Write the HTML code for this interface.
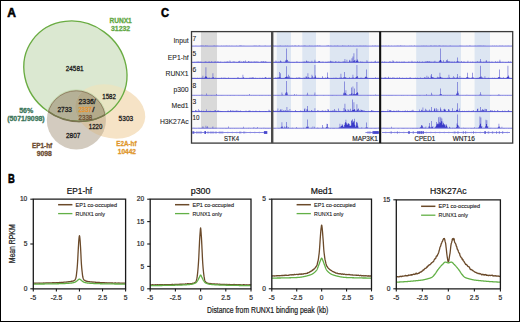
<!DOCTYPE html>
<html><head><meta charset="utf-8"><style>
html,body{margin:0;padding:0;background:#fff;width:520px;height:322px;overflow:hidden;}
svg{display:block;}
text{font-family:"Liberation Sans", sans-serif;}
</style></head><body>
<svg width="520" height="322" viewBox="0 0 520 322">
<rect width="520" height="322" fill="#fff"/>
<text x="7.2" y="16.8" font-size="12" fill="#000" font-weight="bold" text-anchor="start" textLength="8.7" lengthAdjust="spacingAndGlyphs" stroke="#000" stroke-width="0.55" >A</text>
<text x="161" y="16.8" font-size="12" fill="#000" font-weight="bold" text-anchor="start" textLength="8.0" lengthAdjust="spacingAndGlyphs" stroke="#000" stroke-width="0.55" >C</text>
<text x="8.1" y="182.8" font-size="12" fill="#000" font-weight="bold" text-anchor="start" textLength="6.8" lengthAdjust="spacingAndGlyphs" stroke="#000" stroke-width="0.55" >B</text>
<defs>
<clipPath id="cG"><ellipse cx="0" cy="0" rx="48.66" ry="53.04" transform="translate(75.4,71.2) rotate(-54)"/></clipPath>
<clipPath id="cB"><circle cx="76.3" cy="120" r="29.5"/></clipPath>
<clipPath id="cE"><ellipse cx="0" cy="0" rx="35.83" ry="26.16" transform="translate(110.2,111.5) rotate(17.2)"/></clipPath>
</defs>
<ellipse cx="0" cy="0" rx="35.83" ry="26.16" transform="translate(110.2,111.5) rotate(17.2)" fill="#f6e3c6" />
<ellipse cx="0" cy="0" rx="48.66" ry="53.04" transform="translate(75.4,71.2) rotate(-54)" fill="#dbe8d1" />
<circle cx="76.3" cy="120" r="29.5" fill="#d3cbbf" />
<g clip-path="url(#cG)"><ellipse cx="0" cy="0" rx="35.83" ry="26.16" transform="translate(110.2,111.5) rotate(17.2)" fill="#e8e5c3" /></g>
<g clip-path="url(#cG)"><circle cx="76.3" cy="120" r="29.5" fill="#b5b197" /></g>
<g clip-path="url(#cE)"><circle cx="76.3" cy="120" r="29.5" fill="#d6c3a5" /></g>
<g clip-path="url(#cG)"><g clip-path="url(#cE)"><circle cx="76.3" cy="120" r="29.5" fill="#b3aa8a" /></g></g>
<ellipse cx="0" cy="0" rx="48.66" ry="53.04" transform="translate(75.4,71.2) rotate(-54)" fill="none" stroke="#6aac42" stroke-width="1.35"/>
<g clip-path="url(#cB)"><ellipse cx="0" cy="0" rx="48.66" ry="53.04" transform="translate(75.4,71.2) rotate(-54)" fill="none" stroke="#7a7150" stroke-width="1.45"/></g>
<g clip-path="url(#cG)"><circle cx="76.3" cy="120" r="30.1" fill="none" stroke="#c2d8ac" stroke-width="0.9"/><circle cx="76.3" cy="120" r="29.2" fill="none" stroke="#8c7c5c" stroke-width="0.9"/></g>
<text x="65.8" y="70.8" font-size="7.4" fill="#1a1a1a" font-weight="normal" text-anchor="start" textLength="17.7" lengthAdjust="spacingAndGlyphs" stroke="#1a1a1a" stroke-width="0.3" >24581</text>
<text x="57.4" y="111.5" font-size="7.4" fill="#1a1a1a" font-weight="normal" text-anchor="start" textLength="14.6" lengthAdjust="spacingAndGlyphs" stroke="#1a1a1a" stroke-width="0.3" >2733</text>
<text x="78.5" y="104.2" font-size="7.4" fill="#1a1a1a" font-weight="normal" text-anchor="start" textLength="17.2" lengthAdjust="spacingAndGlyphs" stroke="#1a1a1a" stroke-width="0.3" >2336/</text>
<text x="78.5" y="111.5" font-size="7.4" fill="#ec9428" font-weight="normal" text-anchor="start" textLength="13.4" lengthAdjust="spacingAndGlyphs" stroke="#ec9428" stroke-width="0.3" >2337</text>
<text x="92.3" y="111.5" font-size="7.4" fill="#1a1a1a" font-weight="normal" text-anchor="start" textLength="2.3" lengthAdjust="spacingAndGlyphs" stroke="#1a1a1a" stroke-width="0.3" >/</text>
<text x="78.5" y="119.6" font-size="7.4" fill="#6e5030" font-weight="normal" text-anchor="start" textLength="13.8" lengthAdjust="spacingAndGlyphs" stroke="#6e5030" stroke-width="0.3" >2338</text>
<text x="102.3" y="98.8" font-size="7.4" fill="#1a1a1a" font-weight="normal" text-anchor="start" textLength="13.5" lengthAdjust="spacingAndGlyphs" stroke="#1a1a1a" stroke-width="0.3" >1582</text>
<text x="118.6" y="121.0" font-size="7.4" fill="#1a1a1a" font-weight="normal" text-anchor="start" textLength="14.6" lengthAdjust="spacingAndGlyphs" stroke="#1a1a1a" stroke-width="0.3" >5303</text>
<text x="88.8" y="129.1" font-size="7.4" fill="#1a1a1a" font-weight="normal" text-anchor="start" textLength="13.5" lengthAdjust="spacingAndGlyphs" stroke="#1a1a1a" stroke-width="0.3" >1220</text>
<text x="66" y="137.7" font-size="7.4" fill="#1a1a1a" font-weight="normal" text-anchor="start" textLength="14.4" lengthAdjust="spacingAndGlyphs" stroke="#1a1a1a" stroke-width="0.3" >2807</text>
<text x="109.4" y="23" font-size="6.8" fill="#62a844" font-weight="bold" text-anchor="start" textLength="22.4" lengthAdjust="spacingAndGlyphs" stroke="#62a844" stroke-width="0.28" >RUNX1</text>
<text x="111" y="30.8" font-size="6.8" fill="#62a844" font-weight="bold" text-anchor="start" textLength="19.2" lengthAdjust="spacingAndGlyphs" stroke="#62a844" stroke-width="0.28" >31232</text>
<text x="19.2" y="113" font-size="6.8" fill="#3a7559" font-weight="bold" text-anchor="start" textLength="14" lengthAdjust="spacingAndGlyphs" stroke="#3a7559" stroke-width="0.28" >56%</text>
<text x="7.2" y="121.2" font-size="6.8" fill="#3a7559" font-weight="bold" text-anchor="start" textLength="37.5" lengthAdjust="spacingAndGlyphs" stroke="#3a7559" stroke-width="0.28" >(5071/9098)</text>
<text x="32" y="148" font-size="6.8" fill="#6b4a2e" font-weight="bold" text-anchor="start" textLength="20.2" lengthAdjust="spacingAndGlyphs" stroke="#6b4a2e" stroke-width="0.28" >EP1-hf</text>
<text x="36.8" y="156" font-size="6.8" fill="#6b4a2e" font-weight="bold" text-anchor="start" textLength="15.1" lengthAdjust="spacingAndGlyphs" stroke="#6b4a2e" stroke-width="0.28" >9098</text>
<text x="116.3" y="146.3" font-size="6.8" fill="#e0962a" font-weight="bold" text-anchor="start" textLength="20.2" lengthAdjust="spacingAndGlyphs" stroke="#e0962a" stroke-width="0.28" >E2A-hf</text>
<text x="117.8" y="154" font-size="6.8" fill="#e0962a" font-weight="bold" text-anchor="start" textLength="18.2" lengthAdjust="spacingAndGlyphs" stroke="#e0962a" stroke-width="0.28" >10442</text>
<rect x="191.5" y="31.6" width="321.20000000000005" height="111.5" fill="#f9f9f9"/>
<rect x="201" y="32" width="16" height="96.5" fill="#d9d9d9"/>
<rect x="276.8" y="32" width="14.199999999999989" height="96.5" fill="#dde6f2"/>
<rect x="302.3" y="32" width="13.699999999999989" height="96.5" fill="#dde6f2"/>
<rect x="329.8" y="32" width="39.19999999999999" height="96.5" fill="#dde6f2"/>
<rect x="416.2" y="32" width="44.80000000000001" height="96.5" fill="#dde6f2"/>
<rect x="474.6" y="32" width="15.399999999999977" height="96.5" fill="#dde6f2"/>
<rect x="191.5" y="129.4" width="321.20000000000005" height="13.699999999999989" fill="#fdfdfd"/>
<path d="M192.20,46.1L192.20,46.10L192.70,46.10L192.70,46.04L193.20,46.04L193.20,46.05L193.70,46.05L193.70,45.92L194.20,45.92L194.20,46.01L194.70,46.01L194.70,45.90L195.20,45.90L195.20,46.09L195.70,46.09L195.70,45.83L196.20,45.83L196.20,46.00L196.70,46.00L196.70,45.98L197.20,45.98L197.20,46.00L197.70,46.00L197.70,46.03L198.20,46.03L198.20,46.08L198.70,46.08L198.70,45.91L199.20,45.91L199.20,46.09L199.70,46.09L199.70,45.96L200.20,45.96L200.20,45.83L200.70,45.83L200.70,46.01L201.20,46.01L201.20,45.72L201.70,45.72L201.70,45.84L202.20,45.84L202.20,45.73L202.70,45.73L202.70,46.05L203.20,46.05L203.20,45.85L203.70,45.85L203.70,46.05L204.20,46.05L204.20,46.07L204.70,46.07L204.70,46.06L205.20,46.06L205.20,45.60L205.70,45.60L205.70,45.99L206.20,45.99L206.20,45.64L206.70,45.64L206.70,46.08L207.20,46.08L207.20,45.79L207.70,45.79L207.70,46.00L208.20,46.00L208.20,45.90L208.70,45.90L208.70,45.94L209.20,45.94L209.20,45.89L209.70,45.89L209.70,45.94L210.20,45.94L210.20,46.09L210.70,46.09L210.70,45.92L211.20,45.92L211.20,45.98L211.70,45.98L211.70,46.08L212.20,46.08L212.20,46.08L212.70,46.08L212.70,46.09L213.20,46.09L213.20,45.85L213.70,45.85L213.70,46.08L214.20,46.08L214.20,45.83L214.70,45.83L214.70,45.79L215.20,45.79L215.20,45.93L215.70,45.93L215.70,46.08L216.20,46.08L216.20,45.97L216.70,45.97L216.70,45.70L217.20,45.70L217.20,45.95L217.70,45.95L217.70,45.86L218.20,45.86L218.20,46.09L218.70,46.09L218.70,45.98L219.20,45.98L219.20,46.06L219.70,46.06L219.70,45.96L220.20,45.96L220.20,46.09L220.70,46.09L220.70,45.97L221.20,45.97L221.20,45.81L221.70,45.81L221.70,45.96L222.20,45.96L222.20,46.06L222.70,46.06L222.70,46.01L223.20,46.01L223.20,46.07L223.70,46.07L223.70,45.86L224.20,45.86L224.20,45.98L224.70,45.98L224.70,46.06L225.20,46.06L225.20,45.92L225.70,45.92L225.70,45.87L226.20,45.87L226.20,45.84L226.70,45.84L226.70,45.94L227.20,45.94L227.20,45.97L227.70,45.97L227.70,45.70L228.20,45.70L228.20,46.01L228.70,46.01L228.70,46.08L229.20,46.08L229.20,45.85L229.70,45.85L229.70,45.96L230.20,45.96L230.20,46.03L230.70,46.03L230.70,46.03L231.20,46.03L231.20,46.05L231.70,46.05L231.70,45.80L232.20,45.80L232.20,46.01L232.70,46.01L232.70,46.04L233.20,46.04L233.20,46.03L233.70,46.03L233.70,46.08L234.20,46.08L234.20,46.06L234.70,46.06L234.70,45.88L235.20,45.88L235.20,46.10L235.70,46.10L235.70,46.01L236.20,46.01L236.20,45.87L236.70,45.87L236.70,45.97L237.20,45.97L237.20,46.10L237.70,46.10L237.70,45.97L238.20,45.97L238.20,46.03L238.70,46.03L238.70,45.89L239.20,45.89L239.20,46.10L239.70,46.10L239.70,45.31L240.20,45.31L240.20,45.84L240.70,45.84L240.70,46.03L241.20,46.03L241.20,45.76L241.70,45.76L241.70,45.69L242.20,45.69L242.20,46.04L242.70,46.04L242.70,45.92L243.20,45.92L243.20,46.07L243.70,46.07L243.70,45.65L244.20,45.65L244.20,45.93L244.70,45.93L244.70,45.98L245.20,45.98L245.20,46.06L245.70,46.06L245.70,46.00L246.20,46.00L246.20,46.06L246.70,46.06L246.70,46.06L247.20,46.06L247.20,45.96L247.70,45.96L247.70,46.00L248.20,46.00L248.20,45.89L248.70,45.89L248.70,46.08L249.20,46.08L249.20,46.09L249.70,46.09L249.70,45.89L250.20,45.89L250.20,46.05L250.70,46.05L250.70,45.93L251.20,45.93L251.20,45.91L251.70,45.91L251.70,46.06L252.20,46.06L252.20,46.08L252.70,46.08L252.70,45.98L253.20,45.98L253.20,46.08L253.70,46.08L253.70,45.70L254.20,45.70L254.20,45.87L254.70,45.87L254.70,46.03L255.20,46.03L255.20,45.67L255.70,45.67L255.70,45.93L256.20,45.93L256.20,45.75L256.70,45.75L256.70,45.95L257.20,45.95L257.20,45.93L257.70,45.93L257.70,45.94L258.20,45.94L258.20,46.07L258.70,46.07L258.70,45.79L259.20,45.79L259.20,45.85L259.70,45.85L259.70,45.81L260.20,45.81L260.20,46.09L260.70,46.09L260.70,46.05L261.20,46.05L261.20,46.07L261.70,46.07L261.70,45.90L262.20,45.90L262.20,45.88L262.70,45.88L262.70,45.99L263.20,45.99L263.20,46.09L263.70,46.09L263.70,45.94L264.20,45.94L264.20,45.97L264.70,45.97L264.70,45.84L265.20,45.84L265.20,45.85L265.70,45.85L265.70,46.07L266.20,46.07L266.20,45.91L266.70,45.91L266.70,46.10L267.20,46.10L267.20,45.96L267.70,45.96L267.70,46.03L268.20,46.03L268.20,45.99L268.70,45.99L268.70,46.10L269.20,46.10L269.20,46.02L269.70,46.02L269.70,46.04L270.20,46.04L270.20,45.82L270.70,45.82L270.70,45.94L271.20,45.94L271.20,45.77L271.70,45.77L271.70,45.97L272.20,45.97L272.20,45.89L272.70,45.89L272.70,46.03L273.20,46.03L273.20,45.82L273.70,45.82L273.70,45.81L274.20,45.81L274.20,46.06L274.70,46.06L274.70,45.97L275.20,45.97L275.20,45.75L275.70,45.75L275.70,45.95L276.20,45.95L276.20,46.10L276.70,46.10L276.70,46.09L277.20,46.09L277.20,45.95L277.70,45.95L277.70,46.01L278.20,46.01L278.20,45.99L278.70,45.99L278.70,46.07L279.20,46.07L279.20,45.88L279.70,45.88L279.70,45.86L280.20,45.86L280.20,45.83L280.70,45.83L280.70,46.00L281.20,46.00L281.20,46.04L281.70,46.04L281.70,46.09L282.20,46.09L282.20,46.01L282.70,46.01L282.70,46.00L283.20,46.00L283.20,45.97L283.70,45.97L283.70,46.04L284.20,46.04L284.20,46.07L284.70,46.07L284.70,46.10L285.20,46.10L285.20,45.86L285.70,45.86L285.70,45.96L286.20,45.96L286.20,46.02L286.70,46.02L286.70,45.99L287.20,45.99L287.20,45.82L287.70,45.82L287.70,45.91L288.20,45.91L288.20,45.91L288.70,45.91L288.70,46.07L289.20,46.07L289.20,45.99L289.70,45.99L289.70,45.94L290.20,45.94L290.20,45.93L290.70,45.93L290.70,45.92L291.20,45.92L291.20,46.01L291.70,46.01L291.70,45.80L292.20,45.80L292.20,45.85L292.70,45.85L292.70,45.93L293.20,45.93L293.20,46.00L293.70,46.00L293.70,45.93L294.20,45.93L294.20,45.72L294.70,45.72L294.70,45.80L295.20,45.80L295.20,45.87L295.70,45.87L295.70,45.76L296.20,45.76L296.20,45.94L296.70,45.94L296.70,45.90L297.20,45.90L297.20,46.10L297.70,46.10L297.70,45.93L298.20,45.93L298.20,45.77L298.70,45.77L298.70,45.58L299.20,45.58L299.20,46.05L299.70,46.05L299.70,46.09L300.20,46.09L300.20,46.05L300.70,46.05L300.70,46.09L301.20,46.09L301.20,45.93L301.70,45.93L301.70,45.80L302.20,45.80L302.20,46.07L302.70,46.07L302.70,45.91L303.20,45.91L303.20,45.77L303.70,45.77L303.70,46.00L304.20,46.00L304.20,46.09L304.70,46.09L304.70,45.34L305.20,45.34L305.20,45.90L305.70,45.90L305.70,45.97L306.20,45.97L306.20,45.90L306.70,45.90L306.70,45.92L307.20,45.92L307.20,46.06L307.70,46.06L307.70,45.94L308.20,45.94L308.20,46.03L308.70,46.03L308.70,46.03L309.20,46.03L309.20,45.69L309.70,45.69L309.70,45.82L310.20,45.82L310.20,45.92L310.70,45.92L310.70,46.08L311.20,46.08L311.20,46.10L311.70,46.10L311.70,45.81L312.20,45.81L312.20,46.01L312.70,46.01L312.70,45.95L313.20,45.95L313.20,46.08L313.70,46.08L313.70,46.08L314.20,46.08L314.20,46.04L314.70,46.04L314.70,45.87L315.20,45.87L315.20,46.10L315.70,46.10L315.70,45.66L316.20,45.66L316.20,45.96L316.70,45.96L316.70,45.71L317.20,45.71L317.20,45.45L317.70,45.45L317.70,45.99L318.20,45.99L318.20,45.83L318.70,45.83L318.70,46.09L319.20,46.09L319.20,45.40L319.70,45.40L319.70,45.91L320.20,45.91L320.20,45.87L320.70,45.87L320.70,46.07L321.20,46.07L321.20,46.09L321.70,46.09L321.70,46.09L322.20,46.09L322.20,46.09L322.70,46.09L322.70,45.94L323.20,45.94L323.20,45.99L323.70,45.99L323.70,46.06L324.20,46.06L324.20,45.89L324.70,45.89L324.70,46.00L325.20,46.00L325.20,45.96L325.70,45.96L325.70,45.88L326.20,45.88L326.20,45.85L326.70,45.85L326.70,46.07L327.20,46.07L327.20,46.10L327.70,46.10L327.70,45.28L328.20,45.28L328.20,45.76L328.70,45.76L328.70,45.81L329.20,45.81L329.20,46.01L329.70,46.01L329.70,45.95L330.20,45.95L330.20,46.02L330.70,46.02L330.70,45.58L331.20,45.58L331.20,46.05L331.70,46.05L331.70,46.09L332.20,46.09L332.20,46.08L332.70,46.08L332.70,45.88L333.20,45.88L333.20,46.05L333.70,46.05L333.70,46.06L334.20,46.06L334.20,45.86L334.70,45.86L334.70,46.03L335.20,46.03L335.20,46.10L335.70,46.10L335.70,45.79L336.20,45.79L336.20,45.99L336.70,45.99L336.70,46.02L337.20,46.02L337.20,45.74L337.70,45.74L337.70,45.79L338.20,45.79L338.20,45.91L338.70,45.91L338.70,45.92L339.20,45.92L339.20,45.97L339.70,45.97L339.70,46.08L340.20,46.08L340.20,46.06L340.70,46.06L340.70,46.05L341.20,46.05L341.20,46.06L341.70,46.06L341.70,46.09L342.20,46.09L342.20,45.80L342.70,45.80L342.70,45.54L343.20,45.54L343.20,46.09L343.70,46.09L343.70,45.98L344.20,45.98L344.20,45.97L344.70,45.97L344.70,45.78L345.20,45.78L345.20,46.00L345.70,46.00L345.70,46.09L346.20,46.09L346.20,46.03L346.70,46.03L346.70,45.88L347.20,45.88L347.20,46.09L347.70,46.09L347.70,45.93L348.20,45.93L348.20,45.41L348.70,45.41L348.70,46.05L349.20,46.05L349.20,46.06L349.70,46.06L349.70,46.08L350.20,46.08L350.20,45.78L350.70,45.78L350.70,46.05L351.20,46.05L351.20,45.93L351.70,45.93L351.70,45.92L352.20,45.92L352.20,45.95L352.70,45.95L352.70,45.98L353.20,45.98L353.20,45.80L353.70,45.80L353.70,46.04L354.20,46.04L354.20,45.98L354.70,45.98L354.70,46.06L355.20,46.06L355.20,46.10L355.70,46.10L355.70,45.90L356.20,45.90L356.20,46.01L356.70,46.01L356.70,45.70L357.20,45.70L357.20,46.05L357.70,46.05L357.70,46.06L358.20,46.06L358.20,45.89L358.70,45.89L358.70,46.04L359.20,46.04L359.20,45.85L359.70,45.85L359.70,45.88L360.20,45.88L360.20,45.84L360.70,45.84L360.70,45.92L361.20,45.92L361.20,45.88L361.70,45.88L361.70,45.80L362.20,45.80L362.20,46.05L362.70,46.05L362.70,45.99L363.20,45.99L363.20,45.71L363.70,45.71L363.70,46.06L364.20,46.06L364.20,45.98L364.70,45.98L364.70,45.83L365.20,45.83L365.20,46.09L365.70,46.09L365.70,45.80L366.20,45.80L366.20,45.91L366.70,45.91L366.70,45.91L367.20,45.91L367.20,45.93L367.70,45.93L367.70,46.00L368.20,46.00L368.20,46.04L368.70,46.04L368.70,46.06L369.20,46.06L369.20,46.06L369.70,46.06L369.70,46.04L370.20,46.04L370.20,46.04L370.70,46.04L370.70,46.09L371.20,46.09L371.20,46.06L371.70,46.06L371.70,46.08L372.20,46.08L372.20,45.77L372.70,45.77L372.70,45.73L373.20,45.73L373.20,45.98L373.70,45.98L373.70,46.09L374.20,46.09L374.20,45.76L374.70,45.76L374.70,46.02L375.20,46.02L375.20,45.71L375.70,45.71L375.70,45.82L376.20,45.82L376.20,45.93L376.70,45.93L376.70,45.96L377.20,45.96L377.20,46.07L377.70,46.07L377.70,45.76L378.20,45.76L378.20,46.03L378.70,46.03L378.70,45.96L379.20,45.96L379.20,45.97L379.70,45.97L379.70,45.65L380.20,45.65L380.20,46.06L380.70,46.06L380.70,45.94L381.20,45.94L381.20,45.87L381.70,45.87L381.70,46.09L382.20,46.09L382.20,46.06L382.70,46.06L382.70,45.87L383.20,45.87L383.20,46.08L383.70,46.08L383.70,45.87L384.20,45.87L384.20,45.88L384.70,45.88L384.70,45.89L385.20,45.89L385.20,45.88L385.70,45.88L385.70,45.51L386.20,45.51L386.20,46.00L386.70,46.00L386.70,46.07L387.20,46.07L387.20,46.02L387.70,46.02L387.70,46.03L388.20,46.03L388.20,45.84L388.70,45.84L388.70,45.81L389.20,45.81L389.20,45.94L389.70,45.94L389.70,46.06L390.20,46.06L390.20,46.06L390.70,46.06L390.70,45.90L391.20,45.90L391.20,45.75L391.70,45.75L391.70,45.94L392.20,45.94L392.20,46.06L392.70,46.06L392.70,46.02L393.20,46.02L393.20,46.02L393.70,46.02L393.70,45.89L394.20,45.89L394.20,46.06L394.70,46.06L394.70,45.86L395.20,45.86L395.20,45.91L395.70,45.91L395.70,45.94L396.20,45.94L396.20,46.01L396.70,46.01L396.70,45.72L397.20,45.72L397.20,45.83L397.70,45.83L397.70,45.98L398.20,45.98L398.20,45.83L398.70,45.83L398.70,46.02L399.20,46.02L399.20,46.04L399.70,46.04L399.70,45.87L400.20,45.87L400.20,45.59L400.70,45.59L400.70,46.06L401.20,46.06L401.20,45.78L401.70,45.78L401.70,45.97L402.20,45.97L402.20,46.07L402.70,46.07L402.70,45.77L403.20,45.77L403.20,46.02L403.70,46.02L403.70,45.90L404.20,45.90L404.20,45.85L404.70,45.85L404.70,45.89L405.20,45.89L405.20,46.03L405.70,46.03L405.70,45.89L406.20,45.89L406.20,46.00L406.70,46.00L406.70,46.01L407.20,46.01L407.20,46.09L407.70,46.09L407.70,45.99L408.20,45.99L408.20,45.93L408.70,45.93L408.70,46.04L409.20,46.04L409.20,45.89L409.70,45.89L409.70,45.84L410.20,45.84L410.20,46.09L410.70,46.09L410.70,45.92L411.20,45.92L411.20,45.79L411.70,45.79L411.70,46.10L412.20,46.10L412.20,45.97L412.70,45.97L412.70,45.90L413.20,45.90L413.20,45.93L413.70,45.93L413.70,46.00L414.20,46.00L414.20,45.62L414.70,45.62L414.70,45.94L415.20,45.94L415.20,46.02L415.70,46.02L415.70,46.05L416.20,46.05L416.20,45.95L416.70,45.95L416.70,45.98L417.20,45.98L417.20,46.07L417.70,46.07L417.70,45.98L418.20,45.98L418.20,46.09L418.70,46.09L418.70,45.88L419.20,45.88L419.20,46.08L419.70,46.08L419.70,46.09L420.20,46.09L420.20,45.91L420.70,45.91L420.70,45.92L421.20,45.92L421.20,46.09L421.70,46.09L421.70,45.76L422.20,45.76L422.20,45.97L422.70,45.97L422.70,45.88L423.20,45.88L423.20,45.74L423.70,45.74L423.70,46.09L424.20,46.09L424.20,45.88L424.70,45.88L424.70,45.80L425.20,45.80L425.20,45.88L425.70,45.88L425.70,45.95L426.20,45.95L426.20,45.87L426.70,45.87L426.70,46.02L427.20,46.02L427.20,45.94L427.70,45.94L427.70,45.96L428.20,45.96L428.20,45.98L428.70,45.98L428.70,45.95L429.20,45.95L429.20,46.01L429.70,46.01L429.70,45.91L430.20,45.91L430.20,45.86L430.70,45.86L430.70,45.73L431.20,45.73L431.20,45.73L431.70,45.73L431.70,46.04L432.20,46.04L432.20,46.05L432.70,46.05L432.70,46.09L433.20,46.09L433.20,46.07L433.70,46.07L433.70,45.73L434.20,45.73L434.20,45.72L434.70,45.72L434.70,45.89L435.20,45.89L435.20,45.79L435.70,45.79L435.70,45.90L436.20,45.90L436.20,45.83L436.70,45.83L436.70,45.95L437.20,45.95L437.20,45.94L437.70,45.94L437.70,45.91L438.20,45.91L438.20,45.82L438.70,45.82L438.70,46.03L439.20,46.03L439.20,45.82L439.70,45.82L439.70,45.54L440.20,45.54L440.20,45.99L440.70,45.99L440.70,45.88L441.20,45.88L441.20,45.89L441.70,45.89L441.70,45.88L442.20,45.88L442.20,46.04L442.70,46.04L442.70,45.80L443.20,45.80L443.20,45.90L443.70,45.90L443.70,45.82L444.20,45.82L444.20,45.94L444.70,45.94L444.70,46.02L445.20,46.02L445.20,45.93L445.70,45.93L445.70,45.72L446.20,45.72L446.20,46.02L446.70,46.02L446.70,46.09L447.20,46.09L447.20,46.08L447.70,46.08L447.70,46.08L448.20,46.08L448.20,45.88L448.70,45.88L448.70,46.09L449.20,46.09L449.20,46.09L449.70,46.09L449.70,45.84L450.20,45.84L450.20,45.73L450.70,45.73L450.70,46.07L451.20,46.07L451.20,45.95L451.70,45.95L451.70,46.09L452.20,46.09L452.20,45.98L452.70,45.98L452.70,45.95L453.20,45.95L453.20,46.09L453.70,46.09L453.70,45.89L454.20,45.89L454.20,45.98L454.70,45.98L454.70,46.08L455.20,46.08L455.20,46.05L455.70,46.05L455.70,46.06L456.20,46.06L456.20,45.95L456.70,45.95L456.70,45.91L457.20,45.91L457.20,46.05L457.70,46.05L457.70,45.99L458.20,45.99L458.20,46.05L458.70,46.05L458.70,46.10L459.20,46.10L459.20,45.83L459.70,45.83L459.70,46.09L460.20,46.09L460.20,45.83L460.70,45.83L460.70,45.98L461.20,45.98L461.20,46.04L461.70,46.04L461.70,45.68L462.20,45.68L462.20,46.08L462.70,46.08L462.70,46.07L463.20,46.07L463.20,46.07L463.70,46.07L463.70,46.02L464.20,46.02L464.20,46.03L464.70,46.03L464.70,45.90L465.20,45.90L465.20,46.05L465.70,46.05L465.70,45.99L466.20,45.99L466.20,46.08L466.70,46.08L466.70,45.86L467.20,45.86L467.20,46.05L467.70,46.05L467.70,46.07L468.20,46.07L468.20,46.07L468.70,46.07L468.70,46.01L469.20,46.01L469.20,45.99L469.70,45.99L469.70,45.29L470.20,45.29L470.20,46.01L470.70,46.01L470.70,46.05L471.20,46.05L471.20,46.04L471.70,46.04L471.70,46.02L472.20,46.02L472.20,45.97L472.70,45.97L472.70,46.05L473.20,46.05L473.20,45.97L473.70,45.97L473.70,46.01L474.20,46.01L474.20,46.06L474.70,46.06L474.70,45.80L475.20,45.80L475.20,45.99L475.70,45.99L475.70,45.87L476.20,45.87L476.20,45.90L476.70,45.90L476.70,46.05L477.20,46.05L477.20,45.79L477.70,45.79L477.70,45.91L478.20,45.91L478.20,46.07L478.70,46.07L478.70,45.59L479.20,45.59L479.20,46.02L479.70,46.02L479.70,45.80L480.20,45.80L480.20,45.84L480.70,45.84L480.70,45.97L481.20,45.97L481.20,45.85L481.70,45.85L481.70,46.03L482.20,46.03L482.20,46.05L482.70,46.05L482.70,45.75L483.20,45.75L483.20,45.78L483.70,45.78L483.70,45.94L484.20,45.94L484.20,46.05L484.70,46.05L484.70,45.85L485.20,45.85L485.20,45.96L485.70,45.96L485.70,46.01L486.20,46.01L486.20,46.02L486.70,46.02L486.70,46.08L487.20,46.08L487.20,45.90L487.70,45.90L487.70,45.95L488.20,45.95L488.20,46.09L488.70,46.09L488.70,45.95L489.20,45.95L489.20,45.98L489.70,45.98L489.70,45.89L490.20,45.89L490.20,46.02L490.70,46.02L490.70,46.04L491.20,46.04L491.20,46.03L491.70,46.03L491.70,45.90L492.20,45.90L492.20,45.77L492.70,45.77L492.70,45.98L493.20,45.98L493.20,46.09L493.70,46.09L493.70,46.04L494.20,46.04L494.20,45.76L494.70,45.76L494.70,46.03L495.20,46.03L495.20,45.98L495.70,45.98L495.70,45.93L496.20,45.93L496.20,45.65L496.70,45.65L496.70,46.03L497.20,46.03L497.20,45.92L497.70,45.92L497.70,46.02L498.20,46.02L498.20,45.98L498.70,45.98L498.70,46.05L499.20,46.05L499.20,45.95L499.70,45.95L499.70,45.55L500.20,45.55L500.20,46.08L500.70,46.08L500.70,45.99L501.20,45.99L501.20,45.96L501.70,45.96L501.70,45.76L502.20,45.76L502.20,45.87L502.70,45.87L502.70,46.04L503.20,46.04L503.20,46.04L503.70,46.04L503.70,45.94L504.20,45.94L504.20,45.99L504.70,45.99L504.70,46.09L505.20,46.09L505.20,45.92L505.70,45.92L505.70,45.71L506.20,45.71L506.20,46.07L506.70,46.07L506.70,46.09L507.20,46.09L507.20,46.06L507.70,46.06L507.70,45.83L508.20,45.83L508.20,46.09L508.70,46.09L508.70,45.81L509.20,45.81L509.20,45.91L509.70,45.91L509.70,46.06L510.20,46.06L510.20,46.06L510.70,46.06L510.70,45.94L511.20,45.94L511.20,45.89L511.70,45.89L511.70,45.80L512.20,45.80L512.20,46.1Z" fill="#3a3ac8"/>
<line x1="192.0" y1="46.1" x2="512.7" y2="46.1" stroke="#6a6adc" stroke-width="0.9"/>
<text x="192.6" y="40.5" font-size="7.0" fill="#222" font-weight="normal" text-anchor="start" textLength="3.7" lengthAdjust="spacingAndGlyphs" stroke="#222" stroke-width="0.1" >7</text>
<text x="188.6" y="42.9" font-size="6.8" fill="#222" font-weight="normal" text-anchor="end" stroke="#222" stroke-width="0.08" >Input</text>
<path d="M192.20,62.3L192.20,62.17L192.70,62.17L192.70,62.06L193.20,62.06L193.20,62.08L193.70,62.08L193.70,62.10L194.20,62.10L194.20,62.07L194.70,62.07L194.70,61.74L195.20,61.74L195.20,62.13L195.70,62.13L195.70,61.88L196.20,61.88L196.20,61.69L196.70,61.69L196.70,62.23L197.20,62.23L197.20,61.71L197.70,61.71L197.70,61.83L198.20,61.83L198.20,61.72L198.70,61.72L198.70,61.66L199.20,61.66L199.20,61.96L199.70,61.96L199.70,61.81L200.20,61.81L200.20,62.07L200.70,62.07L200.70,61.61L201.20,61.61L201.20,61.90L201.70,61.90L201.70,62.26L202.20,62.26L202.20,62.22L202.70,62.22L202.70,62.27L203.20,62.27L203.20,62.23L203.70,62.23L203.70,62.09L204.20,62.09L204.20,62.29L204.70,62.29L204.70,61.66L205.20,61.66L205.20,61.62L205.70,61.62L205.70,62.20L206.20,62.20L206.20,61.65L206.70,61.65L206.70,62.23L207.20,62.23L207.20,61.96L207.70,61.96L207.70,62.28L208.20,62.28L208.20,61.99L208.70,61.99L208.70,61.52L209.20,61.52L209.20,61.86L209.70,61.86L209.70,62.06L210.20,62.06L210.20,62.05L210.70,62.05L210.70,62.23L211.20,62.23L211.20,61.27L211.70,61.27L211.70,62.00L212.20,62.00L212.20,62.21L212.70,62.21L212.70,61.68L213.20,61.68L213.20,62.19L213.70,62.19L213.70,62.20L214.20,62.20L214.20,61.73L214.70,61.73L214.70,61.73L215.20,61.73L215.20,61.58L215.70,61.58L215.70,62.29L216.20,62.29L216.20,62.21L216.70,62.21L216.70,61.65L217.20,61.65L217.20,61.95L217.70,61.95L217.70,61.22L218.20,61.22L218.20,62.01L218.70,62.01L218.70,61.79L219.20,61.79L219.20,62.08L219.70,62.08L219.70,61.91L220.20,61.91L220.20,61.77L220.70,61.77L220.70,61.73L221.20,61.73L221.20,62.22L221.70,62.22L221.70,62.19L222.20,62.19L222.20,61.95L222.70,61.95L222.70,62.13L223.20,62.13L223.20,62.15L223.70,62.15L223.70,62.00L224.20,62.00L224.20,61.78L224.70,61.78L224.70,62.28L225.20,62.28L225.20,62.02L225.70,62.02L225.70,61.78L226.20,61.78L226.20,61.79L226.70,61.79L226.70,62.10L227.20,62.10L227.20,61.56L227.70,61.56L227.70,61.76L228.20,61.76L228.20,61.65L228.70,61.65L228.70,62.23L229.20,62.23L229.20,62.14L229.70,62.14L229.70,60.49L230.20,60.49L230.20,61.70L230.70,61.70L230.70,62.03L231.20,62.03L231.20,61.93L231.70,61.93L231.70,62.21L232.20,62.21L232.20,62.17L232.70,62.17L232.70,61.62L233.20,61.62L233.20,62.16L233.70,62.16L233.70,61.35L234.20,61.35L234.20,61.77L234.70,61.77L234.70,62.17L235.20,62.17L235.20,62.18L235.70,62.18L235.70,61.75L236.20,61.75L236.20,61.91L236.70,61.91L236.70,62.09L237.20,62.09L237.20,62.07L237.70,62.07L237.70,62.04L238.20,62.04L238.20,61.37L238.70,61.37L238.70,62.07L239.20,62.07L239.20,61.59L239.70,61.59L239.70,60.77L240.20,60.77L240.20,62.13L240.70,62.13L240.70,62.07L241.20,62.07L241.20,61.44L241.70,61.44L241.70,62.19L242.20,62.19L242.20,62.00L242.70,62.00L242.70,61.67L243.20,61.67L243.20,61.42L243.70,61.42L243.70,61.25L244.20,61.25L244.20,61.85L244.70,61.85L244.70,61.92L245.20,61.92L245.20,60.50L245.70,60.50L245.70,61.89L246.20,61.89L246.20,62.00L246.70,62.00L246.70,61.84L247.20,61.84L247.20,62.05L247.70,62.05L247.70,62.01L248.20,62.01L248.20,61.29L248.70,61.29L248.70,61.17L249.20,61.17L249.20,62.02L249.70,62.02L249.70,61.57L250.20,61.57L250.20,61.94L250.70,61.94L250.70,61.71L251.20,61.71L251.20,61.66L251.70,61.66L251.70,61.68L252.20,61.68L252.20,62.29L252.70,62.29L252.70,61.82L253.20,61.82L253.20,62.23L253.70,62.23L253.70,61.42L254.20,61.42L254.20,61.62L254.70,61.62L254.70,62.26L255.20,62.26L255.20,61.90L255.70,61.90L255.70,61.29L256.20,61.29L256.20,62.26L256.70,62.26L256.70,61.53L257.20,61.53L257.20,61.78L257.70,61.78L257.70,62.28L258.20,62.28L258.20,61.82L258.70,61.82L258.70,61.99L259.20,61.99L259.20,62.17L259.70,62.17L259.70,61.94L260.20,61.94L260.20,61.80L260.70,61.80L260.70,62.19L261.20,62.19L261.20,61.77L261.70,61.77L261.70,61.04L262.20,61.04L262.20,61.65L262.70,61.65L262.70,62.00L263.20,62.00L263.20,61.07L263.70,61.07L263.70,61.94L264.20,61.94L264.20,61.84L264.70,61.84L264.70,61.81L265.20,61.81L265.20,61.72L265.70,61.72L265.70,61.36L266.20,61.36L266.20,62.11L266.70,62.11L266.70,62.01L267.20,62.01L267.20,62.02L267.70,62.02L267.70,62.17L268.20,62.17L268.20,61.98L268.70,61.98L268.70,62.18L269.20,62.18L269.20,62.19L269.70,62.19L269.70,62.06L270.20,62.06L270.20,62.07L270.70,62.07L270.70,62.14L271.20,62.14L271.20,61.61L271.70,61.61L271.70,62.12L272.20,62.12L272.20,61.73L272.70,61.73L272.70,62.24L273.20,62.24L273.20,61.92L273.70,61.92L273.70,62.26L274.20,62.26L274.20,62.12L274.70,62.12L274.70,61.73L275.20,61.73L275.20,61.97L275.70,61.97L275.70,60.49L276.20,60.49L276.20,62.00L276.70,62.00L276.70,61.62L277.20,61.62L277.20,61.96L277.70,61.96L277.70,62.16L278.20,62.16L278.20,61.71L278.70,61.71L278.70,61.69L279.20,61.69L279.20,61.70L279.70,61.70L279.70,62.04L280.20,62.04L280.20,60.42L280.70,60.42L280.70,61.24L281.20,61.24L281.20,61.67L281.70,61.67L281.70,61.89L282.20,61.89L282.20,62.23L282.70,62.23L282.70,62.21L283.20,62.21L283.20,62.26L283.70,62.26L283.70,61.71L284.20,61.71L284.20,62.03L284.70,62.03L284.70,62.11L285.20,62.11L285.20,60.14L285.70,60.14L285.70,61.60L286.20,61.60L286.20,48.60L286.70,48.60L286.70,59.83L287.20,59.83L287.20,60.03L287.70,60.03L287.70,62.20L288.20,62.20L288.20,61.53L288.70,61.53L288.70,61.80L289.20,61.80L289.20,61.77L289.70,61.77L289.70,61.92L290.20,61.92L290.20,62.09L290.70,62.09L290.70,62.28L291.20,62.28L291.20,61.88L291.70,61.88L291.70,62.16L292.20,62.16L292.20,62.09L292.70,62.09L292.70,62.11L293.20,62.11L293.20,62.00L293.70,62.00L293.70,62.04L294.20,62.04L294.20,62.07L294.70,62.07L294.70,61.94L295.20,61.94L295.20,62.19L295.70,62.19L295.70,62.26L296.20,62.26L296.20,61.89L296.70,61.89L296.70,61.24L297.20,61.24L297.20,61.96L297.70,61.96L297.70,62.29L298.20,62.29L298.20,62.23L298.70,62.23L298.70,61.96L299.20,61.96L299.20,61.94L299.70,61.94L299.70,61.90L300.20,61.90L300.20,62.14L300.70,62.14L300.70,62.13L301.20,62.13L301.20,62.00L301.70,62.00L301.70,62.14L302.20,62.14L302.20,62.22L302.70,62.22L302.70,61.81L303.20,61.81L303.20,61.64L303.70,61.64L303.70,62.10L304.20,62.10L304.20,61.58L304.70,61.58L304.70,61.98L305.20,61.98L305.20,61.70L305.70,61.70L305.70,62.20L306.20,62.20L306.20,60.47L306.70,60.47L306.70,61.22L307.20,61.22L307.20,61.81L307.70,61.81L307.70,61.83L308.20,61.83L308.20,61.62L308.70,61.62L308.70,62.13L309.20,62.13L309.20,61.99L309.70,61.99L309.70,61.79L310.20,61.79L310.20,62.03L310.70,62.03L310.70,62.13L311.20,62.13L311.20,61.94L311.70,61.94L311.70,60.86L312.20,60.86L312.20,62.05L312.70,62.05L312.70,62.24L313.20,62.24L313.20,62.24L313.70,62.24L313.70,62.03L314.20,62.03L314.20,61.72L314.70,61.72L314.70,59.80L315.20,59.80L315.20,61.68L315.70,61.68L315.70,61.97L316.20,61.97L316.20,62.15L316.70,62.15L316.70,62.16L317.20,62.16L317.20,62.08L317.70,62.08L317.70,62.13L318.20,62.13L318.20,61.04L318.70,61.04L318.70,62.00L319.20,62.00L319.20,61.10L319.70,61.10L319.70,61.54L320.20,61.54L320.20,61.89L320.70,61.89L320.70,62.15L321.20,62.15L321.20,62.25L321.70,62.25L321.70,61.74L322.20,61.74L322.20,61.81L322.70,61.81L322.70,62.23L323.20,62.23L323.20,61.70L323.70,61.70L323.70,62.22L324.20,62.22L324.20,62.13L324.70,62.13L324.70,62.25L325.20,62.25L325.20,62.12L325.70,62.12L325.70,61.66L326.20,61.66L326.20,61.93L326.70,61.93L326.70,61.94L327.20,61.94L327.20,61.79L327.70,61.79L327.70,62.02L328.20,62.02L328.20,62.26L328.70,62.26L328.70,61.24L329.20,61.24L329.20,62.30L329.70,62.30L329.70,61.86L330.20,61.86L330.20,60.69L330.70,60.69L330.70,61.67L331.20,61.67L331.20,61.84L331.70,61.84L331.70,61.17L332.20,61.17L332.20,61.71L332.70,61.71L332.70,62.25L333.20,62.25L333.20,61.67L333.70,61.67L333.70,62.17L334.20,62.17L334.20,61.94L334.70,61.94L334.70,62.27L335.20,62.27L335.20,61.79L335.70,61.79L335.70,60.98L336.20,60.98L336.20,62.30L336.70,62.30L336.70,62.28L337.20,62.28L337.20,62.25L337.70,62.25L337.70,62.06L338.20,62.06L338.20,61.51L338.70,61.51L338.70,62.30L339.20,62.30L339.20,61.83L339.70,61.83L339.70,62.10L340.20,62.10L340.20,62.00L340.70,62.00L340.70,62.04L341.20,62.04L341.20,62.24L341.70,62.24L341.70,62.03L342.20,62.03L342.20,62.29L342.70,62.29L342.70,61.61L343.20,61.61L343.20,61.76L343.70,61.76L343.70,61.71L344.20,61.71L344.20,61.83L344.70,61.83L344.70,58.90L345.20,58.90L345.20,61.76L345.70,61.76L345.70,61.97L346.20,61.97L346.20,62.29L346.70,62.29L346.70,59.80L347.20,59.80L347.20,62.03L347.70,62.03L347.70,62.15L348.20,62.15L348.20,62.00L348.70,62.00L348.70,62.11L349.20,62.11L349.20,60.53L349.70,60.53L349.70,59.80L350.20,59.80L350.20,61.83L350.70,61.83L350.70,61.49L351.20,61.49L351.20,61.85L351.70,61.85L351.70,58.30L352.20,58.30L352.20,61.73L352.70,61.73L352.70,56.50L353.20,56.50L353.20,61.16L353.70,61.16L353.70,53.30L354.20,53.30L354.20,59.95L354.70,59.95L354.70,61.29L355.20,61.29L355.20,62.04L355.70,62.04L355.70,59.67L356.20,59.67L356.20,60.96L356.70,60.96L356.70,48.60L357.20,48.60L357.20,59.59L357.70,59.59L357.70,60.69L358.20,60.69L358.20,61.86L358.70,61.86L358.70,62.14L359.20,62.14L359.20,62.18L359.70,62.18L359.70,62.21L360.20,62.21L360.20,61.87L360.70,61.87L360.70,61.39L361.20,61.39L361.20,61.96L361.70,61.96L361.70,61.89L362.20,61.89L362.20,61.85L362.70,61.85L362.70,61.95L363.20,61.95L363.20,61.89L363.70,61.89L363.70,62.18L364.20,62.18L364.20,61.94L364.70,61.94L364.70,62.24L365.20,62.24L365.20,62.14L365.70,62.14L365.70,62.00L366.20,62.00L366.20,61.93L366.70,61.93L366.70,60.20L367.20,60.20L367.20,61.68L367.70,61.68L367.70,62.04L368.20,62.04L368.20,62.27L368.70,62.27L368.70,61.92L369.20,61.92L369.20,62.19L369.70,62.19L369.70,61.95L370.20,61.95L370.20,61.96L370.70,61.96L370.70,62.21L371.20,62.21L371.20,61.85L371.70,61.85L371.70,62.10L372.20,62.10L372.20,62.22L372.70,62.22L372.70,61.88L373.20,61.88L373.20,61.97L373.70,61.97L373.70,62.09L374.20,62.09L374.20,61.43L374.70,61.43L374.70,62.14L375.20,62.14L375.20,60.74L375.70,60.74L375.70,62.07L376.20,62.07L376.20,62.23L376.70,62.23L376.70,62.04L377.20,62.04L377.20,62.22L377.70,62.22L377.70,61.48L378.20,61.48L378.20,62.21L378.70,62.21L378.70,61.72L379.20,61.72L379.20,62.19L379.70,62.19L379.70,62.06L380.20,62.06L380.20,61.72L380.70,61.72L380.70,62.25L381.20,62.25L381.20,62.27L381.70,62.27L381.70,62.20L382.20,62.20L382.20,61.44L382.70,61.44L382.70,61.95L383.20,61.95L383.20,62.15L383.70,62.15L383.70,62.12L384.20,62.12L384.20,61.58L384.70,61.58L384.70,62.21L385.20,62.21L385.20,62.14L385.70,62.14L385.70,61.79L386.20,61.79L386.20,61.93L386.70,61.93L386.70,62.18L387.20,62.18L387.20,62.24L387.70,62.24L387.70,62.15L388.20,62.15L388.20,62.07L388.70,62.07L388.70,61.97L389.20,61.97L389.20,62.28L389.70,62.28L389.70,61.07L390.20,61.07L390.20,61.88L390.70,61.88L390.70,61.69L391.20,61.69L391.20,61.96L391.70,61.96L391.70,62.12L392.20,62.12L392.20,61.99L392.70,61.99L392.70,60.31L393.20,60.31L393.20,61.61L393.70,61.61L393.70,61.78L394.20,61.78L394.20,62.14L394.70,62.14L394.70,62.17L395.20,62.17L395.20,62.09L395.70,62.09L395.70,62.26L396.20,62.26L396.20,61.45L396.70,61.45L396.70,62.10L397.20,62.10L397.20,61.73L397.70,61.73L397.70,62.04L398.20,62.04L398.20,62.13L398.70,62.13L398.70,61.84L399.20,61.84L399.20,61.75L399.70,61.75L399.70,61.90L400.20,61.90L400.20,62.30L400.70,62.30L400.70,62.06L401.20,62.06L401.20,62.07L401.70,62.07L401.70,61.57L402.20,61.57L402.20,61.98L402.70,61.98L402.70,61.93L403.20,61.93L403.20,62.12L403.70,62.12L403.70,61.49L404.20,61.49L404.20,61.80L404.70,61.80L404.70,62.11L405.20,62.11L405.20,61.99L405.70,61.99L405.70,62.16L406.20,62.16L406.20,61.89L406.70,61.89L406.70,62.16L407.20,62.16L407.20,61.88L407.70,61.88L407.70,62.25L408.20,62.25L408.20,61.81L408.70,61.81L408.70,61.80L409.20,61.80L409.20,62.26L409.70,62.26L409.70,61.72L410.20,61.72L410.20,62.23L410.70,62.23L410.70,62.27L411.20,62.27L411.20,61.93L411.70,61.93L411.70,60.73L412.20,60.73L412.20,61.99L412.70,61.99L412.70,61.77L413.20,61.77L413.20,62.04L413.70,62.04L413.70,62.16L414.20,62.16L414.20,62.19L414.70,62.19L414.70,61.42L415.20,61.42L415.20,62.26L415.70,62.26L415.70,62.04L416.20,62.04L416.20,61.99L416.70,61.99L416.70,62.26L417.20,62.26L417.20,61.35L417.70,61.35L417.70,62.03L418.20,62.03L418.20,62.04L418.70,62.04L418.70,61.95L419.20,61.95L419.20,61.56L419.70,61.56L419.70,62.02L420.20,62.02L420.20,62.21L420.70,62.21L420.70,61.98L421.20,61.98L421.20,61.93L421.70,61.93L421.70,62.05L422.20,62.05L422.20,61.40L422.70,61.40L422.70,61.97L423.20,61.97L423.20,62.02L423.70,62.02L423.70,62.19L424.20,62.19L424.20,61.89L424.70,61.89L424.70,61.82L425.20,61.82L425.20,61.61L425.70,61.61L425.70,62.02L426.20,62.02L426.20,61.61L426.70,61.61L426.70,61.83L427.20,61.83L427.20,60.89L427.70,60.89L427.70,61.97L428.20,61.97L428.20,61.84L428.70,61.84L428.70,61.35L429.20,61.35L429.20,61.39L429.70,61.39L429.70,61.75L430.20,61.75L430.20,61.73L430.70,61.73L430.70,61.91L431.20,61.91L431.20,62.03L431.70,62.03L431.70,61.39L432.20,61.39L432.20,62.27L432.70,62.27L432.70,62.04L433.20,62.04L433.20,61.98L433.70,61.98L433.70,61.58L434.20,61.58L434.20,62.11L434.70,62.11L434.70,60.86L435.20,60.86L435.20,62.15L435.70,62.15L435.70,61.75L436.20,61.75L436.20,62.10L436.70,62.10L436.70,61.99L437.20,61.99L437.20,61.89L437.70,61.89L437.70,62.24L438.20,62.24L438.20,61.86L438.70,61.86L438.70,62.15L439.20,62.15L439.20,61.06L439.70,61.06L439.70,59.88L440.20,59.88L440.20,48.60L440.70,48.60L440.70,59.94L441.20,59.94L441.20,61.42L441.70,61.42L441.70,61.67L442.20,61.67L442.20,62.14L442.70,62.14L442.70,61.94L443.20,61.94L443.20,60.30L443.70,60.30L443.70,61.89L444.20,61.89L444.20,62.08L444.70,62.08L444.70,61.92L445.20,61.92L445.20,61.93L445.70,61.93L445.70,61.87L446.20,61.87L446.20,60.00L446.70,60.00L446.70,61.77L447.20,61.77L447.20,59.58L447.70,59.58L447.70,61.49L448.20,61.49L448.20,61.74L448.70,61.74L448.70,61.19L449.20,61.19L449.20,61.47L449.70,61.47L449.70,62.16L450.20,62.16L450.20,62.15L450.70,62.15L450.70,61.38L451.20,61.38L451.20,62.00L451.70,62.00L451.70,61.83L452.20,61.83L452.20,61.87L452.70,61.87L452.70,62.03L453.20,62.03L453.20,62.27L453.70,62.27L453.70,61.69L454.20,61.69L454.20,61.56L454.70,61.56L454.70,61.96L455.20,61.96L455.20,62.20L455.70,62.20L455.70,62.22L456.20,62.22L456.20,61.74L456.70,61.74L456.70,61.55L457.20,61.55L457.20,57.60L457.70,57.60L457.70,61.13L458.20,61.13L458.20,61.52L458.70,61.52L458.70,61.99L459.20,61.99L459.20,62.16L459.70,62.16L459.70,61.54L460.20,61.54L460.20,62.17L460.70,62.17L460.70,62.26L461.20,62.26L461.20,61.05L461.70,61.05L461.70,62.16L462.20,62.16L462.20,61.97L462.70,61.97L462.70,62.01L463.20,62.01L463.20,61.83L463.70,61.83L463.70,61.85L464.20,61.85L464.20,61.82L464.70,61.82L464.70,62.07L465.20,62.07L465.20,62.05L465.70,62.05L465.70,62.23L466.20,62.23L466.20,62.29L466.70,62.29L466.70,61.91L467.20,61.91L467.20,62.07L467.70,62.07L467.70,60.71L468.20,60.71L468.20,62.13L468.70,62.13L468.70,62.14L469.20,62.14L469.20,62.19L469.70,62.19L469.70,62.18L470.20,62.18L470.20,61.81L470.70,61.81L470.70,62.06L471.20,62.06L471.20,62.23L471.70,62.23L471.70,62.04L472.20,62.04L472.20,61.75L472.70,61.75L472.70,61.83L473.20,61.83L473.20,62.16L473.70,62.16L473.70,61.91L474.20,61.91L474.20,62.27L474.70,62.27L474.70,61.88L475.20,61.88L475.20,61.89L475.70,61.89L475.70,61.68L476.20,61.68L476.20,62.18L476.70,62.18L476.70,61.87L477.20,61.87L477.20,61.19L477.70,61.19L477.70,62.18L478.20,62.18L478.20,61.85L478.70,61.85L478.70,62.30L479.20,62.30L479.20,61.74L479.70,61.74L479.70,61.65L480.20,61.65L480.20,58.90L480.70,58.90L480.70,61.87L481.20,61.87L481.20,61.84L481.70,61.84L481.70,62.21L482.20,62.21L482.20,62.21L482.70,62.21L482.70,61.90L483.20,61.90L483.20,62.10L483.70,62.10L483.70,61.61L484.20,61.61L484.20,62.26L484.70,62.26L484.70,61.91L485.20,61.91L485.20,62.26L485.70,62.26L485.70,60.87L486.20,60.87L486.20,60.18L486.70,60.18L486.70,62.18L487.20,62.18L487.20,61.79L487.70,61.79L487.70,62.01L488.20,62.01L488.20,62.17L488.70,62.17L488.70,61.44L489.20,61.44L489.20,61.82L489.70,61.82L489.70,61.93L490.20,61.93L490.20,61.90L490.70,61.90L490.70,62.16L491.20,62.16L491.20,62.03L491.70,62.03L491.70,61.58L492.20,61.58L492.20,62.02L492.70,62.02L492.70,62.06L493.20,62.06L493.20,62.18L493.70,62.18L493.70,61.89L494.20,61.89L494.20,62.29L494.70,62.29L494.70,62.19L495.20,62.19L495.20,61.37L495.70,61.37L495.70,62.06L496.20,62.06L496.20,62.08L496.70,62.08L496.70,62.12L497.20,62.12L497.20,61.76L497.70,61.76L497.70,61.71L498.20,61.71L498.20,62.19L498.70,62.19L498.70,61.89L499.20,61.89L499.20,61.74L499.70,61.74L499.70,59.80L500.20,59.80L500.20,61.64L500.70,61.64L500.70,62.04L501.20,62.04L501.20,62.27L501.70,62.27L501.70,62.27L502.20,62.27L502.20,62.30L502.70,62.30L502.70,61.85L503.20,61.85L503.20,62.25L503.70,62.25L503.70,62.24L504.20,62.24L504.20,62.19L504.70,62.19L504.70,62.16L505.20,62.16L505.20,61.94L505.70,61.94L505.70,62.10L506.20,62.10L506.20,62.28L506.70,62.28L506.70,62.07L507.20,62.07L507.20,62.25L507.70,62.25L507.70,62.06L508.20,62.06L508.20,61.50L508.70,61.50L508.70,61.77L509.20,61.77L509.20,62.12L509.70,62.12L509.70,62.28L510.20,62.28L510.20,61.42L510.70,61.42L510.70,62.17L511.20,62.17L511.20,62.27L511.70,62.27L511.70,62.18L512.20,62.18L512.20,62.3Z" fill="#3a3ac8"/>
<line x1="192.0" y1="62.3" x2="512.7" y2="62.3" stroke="#5050d4" stroke-width="0.9"/>
<text x="192.6" y="56.3" font-size="7.0" fill="#222" font-weight="normal" text-anchor="start" textLength="3.7" lengthAdjust="spacingAndGlyphs" stroke="#222" stroke-width="0.1" >5</text>
<text x="188.6" y="59.8" font-size="6.8" fill="#222" font-weight="normal" text-anchor="end" stroke="#222" stroke-width="0.08" >EP1-hf</text>
<path d="M192.20,78.4L192.20,78.15L192.70,78.15L192.70,77.87L193.20,77.87L193.20,78.37L193.70,78.37L193.70,77.99L194.20,77.99L194.20,78.14L194.70,78.14L194.70,77.84L195.20,77.84L195.20,77.96L195.70,77.96L195.70,78.16L196.20,78.16L196.20,77.99L196.70,77.99L196.70,77.92L197.20,77.92L197.20,77.86L197.70,77.86L197.70,78.29L198.20,78.29L198.20,77.99L198.70,77.99L198.70,78.35L199.20,78.35L199.20,78.13L199.70,78.13L199.70,77.82L200.20,77.82L200.20,78.27L200.70,78.27L200.70,78.20L201.20,78.20L201.20,78.24L201.70,78.24L201.70,77.60L202.20,77.60L202.20,78.09L202.70,78.09L202.70,75.70L203.20,75.70L203.20,78.13L203.70,78.13L203.70,78.12L204.20,78.12L204.20,78.08L204.70,78.08L204.70,77.00L205.20,77.00L205.20,76.27L205.70,76.27L205.70,67.30L206.20,67.30L206.20,76.52L206.70,76.52L206.70,77.00L207.20,77.00L207.20,78.12L207.70,78.12L207.70,78.23L208.20,78.23L208.20,78.15L208.70,78.15L208.70,77.71L209.20,77.71L209.20,77.69L209.70,77.69L209.70,78.39L210.20,78.39L210.20,78.38L210.70,78.38L210.70,78.37L211.20,78.37L211.20,78.33L211.70,78.33L211.70,77.73L212.20,77.73L212.20,77.49L212.70,77.49L212.70,73.20L213.20,73.20L213.20,77.05L213.70,77.05L213.70,78.09L214.20,78.09L214.20,78.36L214.70,78.36L214.70,78.33L215.20,78.33L215.20,77.63L215.70,77.63L215.70,78.40L216.20,78.40L216.20,77.92L216.70,77.92L216.70,78.38L217.20,78.38L217.20,78.00L217.70,78.00L217.70,78.07L218.20,78.07L218.20,77.98L218.70,77.98L218.70,78.32L219.20,78.32L219.20,78.11L219.70,78.11L219.70,77.98L220.20,77.98L220.20,78.30L220.70,78.30L220.70,78.19L221.20,78.19L221.20,77.70L221.70,77.70L221.70,77.72L222.20,77.72L222.20,78.39L222.70,78.39L222.70,78.36L223.20,78.36L223.20,77.66L223.70,77.66L223.70,78.37L224.20,78.37L224.20,78.16L224.70,78.16L224.70,77.52L225.20,77.52L225.20,77.97L225.70,77.97L225.70,78.36L226.20,78.36L226.20,78.06L226.70,78.06L226.70,77.97L227.20,77.97L227.20,78.36L227.70,78.36L227.70,78.25L228.20,78.25L228.20,77.44L228.70,77.44L228.70,78.04L229.20,78.04L229.20,78.31L229.70,78.31L229.70,78.14L230.20,78.14L230.20,78.37L230.70,78.37L230.70,77.92L231.20,77.92L231.20,78.24L231.70,78.24L231.70,78.36L232.20,78.36L232.20,78.22L232.70,78.22L232.70,77.95L233.20,77.95L233.20,77.99L233.70,77.99L233.70,78.24L234.20,78.24L234.20,78.02L234.70,78.02L234.70,77.96L235.20,77.96L235.20,78.35L235.70,78.35L235.70,78.31L236.20,78.31L236.20,78.24L236.70,78.24L236.70,78.36L237.20,78.36L237.20,77.54L237.70,77.54L237.70,77.79L238.20,77.79L238.20,77.54L238.70,77.54L238.70,78.24L239.20,78.24L239.20,78.10L239.70,78.10L239.70,78.31L240.20,78.31L240.20,77.89L240.70,77.89L240.70,78.23L241.20,78.23L241.20,78.37L241.70,78.37L241.70,77.66L242.20,77.66L242.20,78.14L242.70,78.14L242.70,74.70L243.20,74.70L243.20,77.32L243.70,77.32L243.70,77.75L244.20,77.75L244.20,78.19L244.70,78.19L244.70,78.35L245.20,78.35L245.20,77.96L245.70,77.96L245.70,78.39L246.20,78.39L246.20,77.99L246.70,77.99L246.70,78.03L247.20,78.03L247.20,78.16L247.70,78.16L247.70,78.31L248.20,78.31L248.20,78.32L248.70,78.32L248.70,78.37L249.20,78.37L249.20,78.03L249.70,78.03L249.70,77.59L250.20,77.59L250.20,78.27L250.70,78.27L250.70,77.80L251.20,77.80L251.20,77.92L251.70,77.92L251.70,77.61L252.20,77.61L252.20,78.00L252.70,78.00L252.70,77.07L253.20,77.07L253.20,77.74L253.70,77.74L253.70,77.88L254.20,77.88L254.20,78.35L254.70,78.35L254.70,78.19L255.20,78.19L255.20,77.68L255.70,77.68L255.70,78.27L256.20,78.27L256.20,78.13L256.70,78.13L256.70,78.33L257.20,78.33L257.20,78.02L257.70,78.02L257.70,78.26L258.20,78.26L258.20,78.40L258.70,78.40L258.70,78.25L259.20,78.25L259.20,78.26L259.70,78.26L259.70,77.64L260.20,77.64L260.20,78.26L260.70,78.26L260.70,78.32L261.20,78.32L261.20,78.15L261.70,78.15L261.70,78.10L262.20,78.10L262.20,77.81L262.70,77.81L262.70,77.96L263.20,77.96L263.20,78.03L263.70,78.03L263.70,78.36L264.20,78.36L264.20,78.23L264.70,78.23L264.70,77.62L265.20,77.62L265.20,77.45L265.70,77.45L265.70,76.98L266.20,76.98L266.20,78.11L266.70,78.11L266.70,77.95L267.20,77.95L267.20,78.14L267.70,78.14L267.70,78.23L268.20,78.23L268.20,77.75L268.70,77.75L268.70,78.03L269.20,78.03L269.20,77.77L269.70,77.77L269.70,78.01L270.20,78.01L270.20,77.79L270.70,77.79L270.70,78.27L271.20,78.27L271.20,76.21L271.70,76.21L271.70,77.82L272.20,77.82L272.20,78.32L272.70,78.32L272.70,77.95L273.20,77.95L273.20,78.38L273.70,78.38L273.70,78.25L274.20,78.25L274.20,78.22L274.70,78.22L274.70,77.81L275.20,77.81L275.20,77.83L275.70,77.83L275.70,77.54L276.20,77.54L276.20,78.03L276.70,78.03L276.70,77.69L277.20,77.69L277.20,77.57L277.70,77.57L277.70,77.86L278.20,77.86L278.20,77.25L278.70,77.25L278.70,77.72L279.20,77.72L279.20,71.90L279.70,71.90L279.70,77.09L280.20,77.09L280.20,73.20L280.70,73.20L280.70,77.88L281.20,77.88L281.20,77.94L281.70,77.94L281.70,78.07L282.20,78.07L282.20,78.28L282.70,78.28L282.70,78.34L283.20,78.34L283.20,77.88L283.70,77.88L283.70,78.25L284.20,78.25L284.20,77.63L284.70,77.63L284.70,78.19L285.20,78.19L285.20,77.03L285.70,77.03L285.70,76.89L286.20,76.89L286.20,66.30L286.70,66.30L286.70,76.46L287.20,76.46L287.20,76.84L287.70,76.84L287.70,77.68L288.20,77.68L288.20,74.70L288.70,74.70L288.70,77.49L289.20,77.49L289.20,76.35L289.70,76.35L289.70,78.36L290.20,78.36L290.20,77.81L290.70,77.81L290.70,77.67L291.20,77.67L291.20,78.26L291.70,78.26L291.70,77.69L292.20,77.69L292.20,78.08L292.70,78.08L292.70,77.89L293.20,77.89L293.20,77.99L293.70,77.99L293.70,78.19L294.20,78.19L294.20,78.24L294.70,78.24L294.70,78.23L295.20,78.23L295.20,78.08L295.70,78.08L295.70,78.16L296.20,78.16L296.20,77.57L296.70,77.57L296.70,78.03L297.20,78.03L297.20,77.68L297.70,77.68L297.70,78.23L298.20,78.23L298.20,78.38L298.70,78.38L298.70,77.02L299.20,77.02L299.20,78.26L299.70,78.26L299.70,77.54L300.20,77.54L300.20,78.26L300.70,78.26L300.70,78.24L301.20,78.24L301.20,78.16L301.70,78.16L301.70,78.27L302.20,78.27L302.20,78.00L302.70,78.00L302.70,78.40L303.20,78.40L303.20,78.38L303.70,78.38L303.70,77.42L304.20,77.42L304.20,78.04L304.70,78.04L304.70,77.71L305.20,77.71L305.20,78.25L305.70,78.25L305.70,76.45L306.20,76.45L306.20,76.40L306.70,76.40L306.70,77.69L307.20,77.69L307.20,77.80L307.70,77.80L307.70,73.20L308.20,73.20L308.20,77.61L308.70,77.61L308.70,77.18L309.20,77.18L309.20,78.11L309.70,78.11L309.70,78.25L310.20,78.25L310.20,78.01L310.70,78.01L310.70,78.09L311.20,78.09L311.20,77.79L311.70,77.79L311.70,74.70L312.20,74.70L312.20,76.33L312.70,76.33L312.70,78.18L313.20,78.18L313.20,78.21L313.70,78.21L313.70,76.90L314.20,76.90L314.20,77.72L314.70,77.72L314.70,65.00L315.20,65.00L315.20,75.60L315.70,75.60L315.70,77.18L316.20,77.18L316.20,78.26L316.70,78.26L316.70,77.90L317.20,77.90L317.20,77.97L317.70,77.97L317.70,77.77L318.20,77.77L318.20,78.01L318.70,78.01L318.70,77.75L319.20,77.75L319.20,77.97L319.70,77.97L319.70,78.16L320.20,78.16L320.20,78.12L320.70,78.12L320.70,78.05L321.20,78.05L321.20,77.93L321.70,77.93L321.70,78.27L322.20,78.27L322.20,76.20L322.70,76.20L322.70,77.75L323.20,77.75L323.20,78.10L323.70,78.10L323.70,78.14L324.20,78.14L324.20,78.31L324.70,78.31L324.70,77.98L325.20,77.98L325.20,77.55L325.70,77.55L325.70,78.30L326.20,78.30L326.20,77.99L326.70,77.99L326.70,77.75L327.20,77.75L327.20,72.50L327.70,72.50L327.70,76.98L328.20,76.98L328.20,77.92L328.70,77.92L328.70,78.38L329.20,78.38L329.20,78.35L329.70,78.35L329.70,78.01L330.20,78.01L330.20,78.15L330.70,78.15L330.70,78.33L331.20,78.33L331.20,78.00L331.70,78.00L331.70,77.90L332.20,77.90L332.20,78.27L332.70,78.27L332.70,77.92L333.20,77.92L333.20,78.32L333.70,78.32L333.70,77.82L334.20,77.82L334.20,78.35L334.70,78.35L334.70,78.15L335.20,78.15L335.20,77.84L335.70,77.84L335.70,78.17L336.20,78.17L336.20,77.83L336.70,77.83L336.70,78.27L337.20,78.27L337.20,78.11L337.70,78.11L337.70,78.12L338.20,78.12L338.20,78.40L338.70,78.40L338.70,78.32L339.20,78.32L339.20,78.35L339.70,78.35L339.70,77.60L340.20,77.60L340.20,78.00L340.70,78.00L340.70,73.80L341.20,73.80L341.20,77.44L341.70,77.44L341.70,78.07L342.20,78.07L342.20,78.30L342.70,78.30L342.70,78.02L343.20,78.02L343.20,77.48L343.70,77.48L343.70,77.56L344.20,77.56L344.20,71.90L344.70,71.90L344.70,77.45L345.20,77.45L345.20,77.38L345.70,77.38L345.70,77.14L346.20,77.14L346.20,78.39L346.70,78.39L346.70,77.88L347.20,77.88L347.20,78.34L347.70,78.34L347.70,78.15L348.20,78.15L348.20,78.36L348.70,78.36L348.70,78.25L349.20,78.25L349.20,77.14L349.70,77.14L349.70,78.37L350.20,78.37L350.20,78.19L350.70,78.19L350.70,78.20L351.20,78.20L351.20,78.25L351.70,78.25L351.70,77.79L352.20,77.79L352.20,77.84L352.70,77.84L352.70,74.70L353.20,74.70L353.20,77.43L353.70,77.43L353.70,78.19L354.20,78.19L354.20,78.28L354.70,78.28L354.70,78.29L355.20,78.29L355.20,77.81L355.70,77.81L355.70,77.24L356.20,77.24L356.20,76.69L356.70,76.69L356.70,65.00L357.20,65.00L357.20,75.90L357.70,75.90L357.70,77.42L358.20,77.42L358.20,78.35L358.70,78.35L358.70,77.95L359.20,77.95L359.20,78.15L359.70,78.15L359.70,78.06L360.20,78.06L360.20,78.04L360.70,78.04L360.70,77.39L361.20,77.39L361.20,78.26L361.70,78.26L361.70,77.74L362.20,77.74L362.20,78.23L362.70,78.23L362.70,78.06L363.20,78.06L363.20,78.15L363.70,78.15L363.70,78.34L364.20,78.34L364.20,78.06L364.70,78.06L364.70,77.62L365.20,77.62L365.20,76.68L365.70,76.68L365.70,76.78L366.20,76.78L366.20,69.50L366.70,69.50L366.70,77.27L367.20,77.27L367.20,77.82L367.70,77.82L367.70,78.32L368.20,78.32L368.20,78.30L368.70,78.30L368.70,78.22L369.20,78.22L369.20,77.90L369.70,77.90L369.70,78.09L370.20,78.09L370.20,78.39L370.70,78.39L370.70,78.21L371.20,78.21L371.20,78.13L371.70,78.13L371.70,78.19L372.20,78.19L372.20,78.12L372.70,78.12L372.70,78.02L373.20,78.02L373.20,77.95L373.70,77.95L373.70,78.04L374.20,78.04L374.20,78.19L374.70,78.19L374.70,78.15L375.20,78.15L375.20,77.32L375.70,77.32L375.70,78.07L376.20,78.07L376.20,78.29L376.70,78.29L376.70,78.36L377.20,78.36L377.20,78.29L377.70,78.29L377.70,77.84L378.20,77.84L378.20,78.18L378.70,78.18L378.70,78.14L379.20,78.14L379.20,77.83L379.70,77.83L379.70,78.15L380.20,78.15L380.20,78.04L380.70,78.04L380.70,77.82L381.20,77.82L381.20,78.05L381.70,78.05L381.70,77.57L382.20,77.57L382.20,78.38L382.70,78.38L382.70,78.05L383.20,78.05L383.20,78.01L383.70,78.01L383.70,77.72L384.20,77.72L384.20,77.83L384.70,77.83L384.70,77.78L385.20,77.78L385.20,77.51L385.70,77.51L385.70,77.81L386.20,77.81L386.20,78.25L386.70,78.25L386.70,77.77L387.20,77.77L387.20,78.20L387.70,78.20L387.70,78.03L388.20,78.03L388.20,76.64L388.70,76.64L388.70,77.71L389.20,77.71L389.20,78.12L389.70,78.12L389.70,78.30L390.20,78.30L390.20,77.81L390.70,77.81L390.70,78.20L391.20,78.20L391.20,78.07L391.70,78.07L391.70,78.29L392.20,78.29L392.20,77.38L392.70,77.38L392.70,78.33L393.20,78.33L393.20,78.39L393.70,78.39L393.70,77.37L394.20,77.37L394.20,78.10L394.70,78.10L394.70,78.21L395.20,78.21L395.20,78.17L395.70,78.17L395.70,77.91L396.20,77.91L396.20,78.16L396.70,78.16L396.70,77.65L397.20,77.65L397.20,77.83L397.70,77.83L397.70,78.16L398.20,78.16L398.20,77.93L398.70,77.93L398.70,78.38L399.20,78.38L399.20,77.32L399.70,77.32L399.70,78.20L400.20,78.20L400.20,78.25L400.70,78.25L400.70,78.06L401.20,78.06L401.20,77.89L401.70,77.89L401.70,78.36L402.20,78.36L402.20,77.74L402.70,77.74L402.70,78.07L403.20,78.07L403.20,77.95L403.70,77.95L403.70,77.94L404.20,77.94L404.20,78.03L404.70,78.03L404.70,77.97L405.20,77.97L405.20,78.30L405.70,78.30L405.70,78.05L406.20,78.05L406.20,77.70L406.70,77.70L406.70,78.12L407.20,78.12L407.20,78.09L407.70,78.09L407.70,78.03L408.20,78.03L408.20,78.12L408.70,78.12L408.70,78.14L409.20,78.14L409.20,77.79L409.70,77.79L409.70,77.84L410.20,77.84L410.20,77.47L410.70,77.47L410.70,78.28L411.20,78.28L411.20,78.32L411.70,78.32L411.70,78.00L412.20,78.00L412.20,78.39L412.70,78.39L412.70,78.38L413.20,78.38L413.20,77.98L413.70,77.98L413.70,78.00L414.20,78.00L414.20,77.97L414.70,77.97L414.70,78.20L415.20,78.20L415.20,77.83L415.70,77.83L415.70,77.96L416.20,77.96L416.20,77.99L416.70,77.99L416.70,78.06L417.20,78.06L417.20,77.76L417.70,77.76L417.70,78.22L418.20,78.22L418.20,77.93L418.70,77.93L418.70,78.08L419.20,78.08L419.20,78.37L419.70,78.37L419.70,78.21L420.20,78.21L420.20,77.48L420.70,77.48L420.70,78.28L421.20,78.28L421.20,78.23L421.70,78.23L421.70,77.96L422.20,77.96L422.20,78.17L422.70,78.17L422.70,78.08L423.20,78.08L423.20,78.00L423.70,78.00L423.70,78.40L424.20,78.40L424.20,77.56L424.70,77.56L424.70,77.22L425.20,77.22L425.20,77.78L425.70,77.78L425.70,78.10L426.20,78.10L426.20,78.00L426.70,78.00L426.70,75.66L427.20,75.66L427.20,77.71L427.70,77.71L427.70,78.18L428.20,78.18L428.20,76.86L428.70,76.86L428.70,78.25L429.20,78.25L429.20,77.94L429.70,77.94L429.70,78.25L430.20,78.25L430.20,77.97L430.70,77.97L430.70,75.38L431.20,75.38L431.20,74.10L431.70,74.10L431.70,77.26L432.20,77.26L432.20,77.54L432.70,77.54L432.70,76.89L433.20,76.89L433.20,77.85L433.70,77.85L433.70,77.71L434.20,77.71L434.20,77.97L434.70,77.97L434.70,78.06L435.20,78.06L435.20,77.93L435.70,77.93L435.70,78.24L436.20,78.24L436.20,78.18L436.70,78.18L436.70,77.69L437.20,77.69L437.20,76.69L437.70,76.69L437.70,78.23L438.20,78.23L438.20,77.24L438.70,77.24L438.70,77.73L439.20,77.73L439.20,77.53L439.70,77.53L439.70,72.80L440.20,72.80L440.20,76.79L440.70,76.79L440.70,77.30L441.20,77.30L441.20,78.14L441.70,78.14L441.70,77.35L442.20,77.35L442.20,78.01L442.70,78.01L442.70,78.28L443.20,78.28L443.20,78.30L443.70,78.30L443.70,78.13L444.20,78.13L444.20,78.13L444.70,78.13L444.70,78.22L445.20,78.22L445.20,78.16L445.70,78.16L445.70,78.10L446.20,78.10L446.20,78.18L446.70,78.18L446.70,78.19L447.20,78.19L447.20,77.73L447.70,77.73L447.70,78.04L448.20,78.04L448.20,78.10L448.70,78.10L448.70,74.70L449.20,74.70L449.20,77.40L449.70,77.40L449.70,77.92L450.20,77.92L450.20,77.98L450.70,77.98L450.70,78.17L451.20,78.17L451.20,78.33L451.70,78.33L451.70,77.88L452.20,77.88L452.20,77.73L452.70,77.73L452.70,78.22L453.20,78.22L453.20,76.34L453.70,76.34L453.70,78.27L454.20,78.27L454.20,77.58L454.70,77.58L454.70,77.79L455.20,77.79L455.20,78.36L455.70,78.36L455.70,78.35L456.20,78.35L456.20,77.83L456.70,77.83L456.70,77.60L457.20,77.60L457.20,74.10L457.70,74.10L457.70,77.43L458.20,77.43L458.20,77.97L458.70,77.97L458.70,78.19L459.20,78.19L459.20,78.21L459.70,78.21L459.70,75.94L460.20,75.94L460.20,78.03L460.70,78.03L460.70,78.26L461.20,78.26L461.20,77.66L461.70,77.66L461.70,78.34L462.20,78.34L462.20,78.18L462.70,78.18L462.70,77.81L463.20,77.81L463.20,77.90L463.70,77.90L463.70,78.08L464.20,78.08L464.20,77.90L464.70,77.90L464.70,78.31L465.20,78.31L465.20,78.07L465.70,78.07L465.70,77.99L466.20,77.99L466.20,77.33L466.70,77.33L466.70,77.49L467.20,77.49L467.20,72.80L467.70,72.80L467.70,76.94L468.20,76.94L468.20,78.02L468.70,78.02L468.70,77.55L469.20,77.55L469.20,78.32L469.70,78.32L469.70,78.05L470.20,78.05L470.20,78.23L470.70,78.23L470.70,78.38L471.20,78.38L471.20,77.71L471.70,77.71L471.70,77.84L472.20,77.84L472.20,72.80L472.70,72.80L472.70,77.56L473.20,77.56L473.20,77.48L473.70,77.48L473.70,78.13L474.20,78.13L474.20,78.38L474.70,78.38L474.70,78.16L475.20,78.16L475.20,78.34L475.70,78.34L475.70,78.15L476.20,78.15L476.20,78.09L476.70,78.09L476.70,78.03L477.20,78.03L477.20,78.01L477.70,78.01L477.70,77.69L478.20,77.69L478.20,78.00L478.70,78.00L478.70,77.73L479.20,77.73L479.20,76.92L479.70,76.92L479.70,77.69L480.20,77.69L480.20,65.80L480.70,65.80L480.70,76.77L481.20,76.77L481.20,76.49L481.70,76.49L481.70,77.90L482.20,77.90L482.20,77.59L482.70,77.59L482.70,77.66L483.20,77.66L483.20,78.25L483.70,78.25L483.70,78.40L484.20,78.40L484.20,78.22L484.70,78.22L484.70,76.14L485.20,76.14L485.20,78.09L485.70,78.09L485.70,78.36L486.20,78.36L486.20,78.16L486.70,78.16L486.70,78.25L487.20,78.25L487.20,78.35L487.70,78.35L487.70,78.01L488.20,78.01L488.20,77.84L488.70,77.84L488.70,78.09L489.20,78.09L489.20,77.89L489.70,77.89L489.70,78.24L490.20,78.24L490.20,78.28L490.70,78.28L490.70,78.27L491.20,78.27L491.20,78.28L491.70,78.28L491.70,78.20L492.20,78.20L492.20,77.74L492.70,77.74L492.70,78.32L493.20,78.32L493.20,78.01L493.70,78.01L493.70,78.21L494.20,78.21L494.20,77.67L494.70,77.67L494.70,78.37L495.20,78.37L495.20,77.91L495.70,77.91L495.70,78.22L496.20,78.22L496.20,78.20L496.70,78.20L496.70,78.12L497.20,78.12L497.20,78.34L497.70,78.34L497.70,77.67L498.20,77.67L498.20,76.90L498.70,76.90L498.70,77.14L499.20,77.14L499.20,69.50L499.70,69.50L499.70,77.33L500.20,77.33L500.20,77.70L500.70,77.70L500.70,78.15L501.20,78.15L501.20,78.01L501.70,78.01L501.70,77.74L502.20,77.74L502.20,78.26L502.70,78.26L502.70,77.99L503.20,77.99L503.20,77.37L503.70,77.37L503.70,78.31L504.20,78.31L504.20,78.32L504.70,78.32L504.70,77.94L505.20,77.94L505.20,78.21L505.70,78.21L505.70,77.88L506.20,77.88L506.20,78.01L506.70,78.01L506.70,77.11L507.20,77.11L507.20,76.78L507.70,76.78L507.70,65.80L508.20,65.80L508.20,75.38L508.70,75.38L508.70,76.72L509.20,76.72L509.20,78.01L509.70,78.01L509.70,77.68L510.20,77.68L510.20,78.24L510.70,78.24L510.70,77.94L511.20,77.94L511.20,78.22L511.70,78.22L511.70,78.04L512.20,78.04L512.20,78.4Z" fill="#3a3ac8"/>
<line x1="192.0" y1="78.4" x2="512.7" y2="78.4" stroke="#5050d4" stroke-width="0.9"/>
<text x="192.6" y="72.0" font-size="7.0" fill="#222" font-weight="normal" text-anchor="start" textLength="3.7" lengthAdjust="spacingAndGlyphs" stroke="#222" stroke-width="0.1" >6</text>
<text x="188.6" y="75.6" font-size="6.8" fill="#222" font-weight="normal" text-anchor="end" stroke="#222" stroke-width="0.08" >RUNX1</text>
<path d="M192.20,95.3L192.20,95.26L192.70,95.26L192.70,95.23L193.20,95.23L193.20,95.22L193.70,95.22L193.70,94.92L194.20,94.92L194.20,94.97L194.70,94.97L194.70,95.12L195.20,95.12L195.20,95.15L195.70,95.15L195.70,95.28L196.20,95.28L196.20,95.04L196.70,95.04L196.70,95.23L197.20,95.23L197.20,95.19L197.70,95.19L197.70,95.26L198.20,95.26L198.20,95.25L198.70,95.25L198.70,95.23L199.20,95.23L199.20,95.12L199.70,95.12L199.70,95.28L200.20,95.28L200.20,95.22L200.70,95.22L200.70,95.29L201.20,95.29L201.20,95.24L201.70,95.24L201.70,94.53L202.20,94.53L202.20,95.26L202.70,95.26L202.70,95.25L203.20,95.25L203.20,95.26L203.70,95.26L203.70,95.16L204.20,95.16L204.20,95.23L204.70,95.23L204.70,95.17L205.20,95.17L205.20,95.04L205.70,95.04L205.70,95.00L206.20,95.00L206.20,93.50L206.70,93.50L206.70,95.04L207.20,95.04L207.20,95.10L207.70,95.10L207.70,95.12L208.20,95.12L208.20,95.18L208.70,95.18L208.70,95.19L209.20,95.19L209.20,95.13L209.70,95.13L209.70,95.30L210.20,95.30L210.20,95.23L210.70,95.23L210.70,95.05L211.20,95.05L211.20,95.08L211.70,95.08L211.70,95.03L212.20,95.03L212.20,95.26L212.70,95.26L212.70,95.30L213.20,95.30L213.20,95.28L213.70,95.28L213.70,95.19L214.20,95.19L214.20,94.99L214.70,94.99L214.70,95.25L215.20,95.25L215.20,95.22L215.70,95.22L215.70,95.04L216.20,95.04L216.20,93.94L216.70,93.94L216.70,95.17L217.20,95.17L217.20,95.26L217.70,95.26L217.70,95.12L218.20,95.12L218.20,95.30L218.70,95.30L218.70,95.07L219.20,95.07L219.20,95.25L219.70,95.25L219.70,95.14L220.20,95.14L220.20,95.20L220.70,95.20L220.70,95.07L221.20,95.07L221.20,95.04L221.70,95.04L221.70,95.26L222.20,95.26L222.20,95.17L222.70,95.17L222.70,95.01L223.20,95.01L223.20,95.29L223.70,95.29L223.70,95.26L224.20,95.26L224.20,95.13L224.70,95.13L224.70,95.15L225.20,95.15L225.20,95.24L225.70,95.24L225.70,95.21L226.20,95.21L226.20,95.20L226.70,95.20L226.70,95.22L227.20,95.22L227.20,95.02L227.70,95.02L227.70,95.19L228.20,95.19L228.20,95.28L228.70,95.28L228.70,95.24L229.20,95.24L229.20,95.24L229.70,95.24L229.70,95.04L230.20,95.04L230.20,95.07L230.70,95.07L230.70,95.03L231.20,95.03L231.20,95.13L231.70,95.13L231.70,95.20L232.20,95.20L232.20,95.16L232.70,95.16L232.70,95.12L233.20,95.12L233.20,95.19L233.70,95.19L233.70,95.03L234.20,95.03L234.20,95.02L234.70,95.02L234.70,95.14L235.20,95.14L235.20,95.23L235.70,95.23L235.70,95.27L236.20,95.27L236.20,95.24L236.70,95.24L236.70,95.24L237.20,95.24L237.20,95.21L237.70,95.21L237.70,95.19L238.20,95.19L238.20,95.12L238.70,95.12L238.70,95.23L239.20,95.23L239.20,95.17L239.70,95.17L239.70,95.11L240.20,95.11L240.20,95.28L240.70,95.28L240.70,95.22L241.20,95.22L241.20,95.24L241.70,95.24L241.70,94.96L242.20,94.96L242.20,95.22L242.70,95.22L242.70,95.10L243.20,95.10L243.20,95.14L243.70,95.14L243.70,95.07L244.20,95.07L244.20,95.02L244.70,95.02L244.70,95.25L245.20,95.25L245.20,95.24L245.70,95.24L245.70,95.28L246.20,95.28L246.20,95.12L246.70,95.12L246.70,95.17L247.20,95.17L247.20,95.08L247.70,95.08L247.70,95.23L248.20,95.23L248.20,95.18L248.70,95.18L248.70,95.24L249.20,95.24L249.20,94.03L249.70,94.03L249.70,95.20L250.20,95.20L250.20,95.22L250.70,95.22L250.70,95.20L251.20,95.20L251.20,95.04L251.70,95.04L251.70,95.13L252.20,95.13L252.20,95.24L252.70,95.24L252.70,95.21L253.20,95.21L253.20,95.25L253.70,95.25L253.70,95.01L254.20,95.01L254.20,95.19L254.70,95.19L254.70,95.19L255.20,95.19L255.20,95.27L255.70,95.27L255.70,95.09L256.20,95.09L256.20,95.30L256.70,95.30L256.70,95.22L257.20,95.22L257.20,95.22L257.70,95.22L257.70,95.29L258.20,95.29L258.20,95.19L258.70,95.19L258.70,95.24L259.20,95.24L259.20,95.08L259.70,95.08L259.70,94.95L260.20,94.95L260.20,95.15L260.70,95.15L260.70,95.23L261.20,95.23L261.20,95.07L261.70,95.07L261.70,95.19L262.20,95.19L262.20,95.12L262.70,95.12L262.70,95.29L263.20,95.29L263.20,95.16L263.70,95.16L263.70,95.23L264.20,95.23L264.20,95.27L264.70,95.27L264.70,95.28L265.20,95.28L265.20,95.24L265.70,95.24L265.70,94.98L266.20,94.98L266.20,95.30L266.70,95.30L266.70,95.15L267.20,95.15L267.20,95.16L267.70,95.16L267.70,95.18L268.20,95.18L268.20,95.12L268.70,95.12L268.70,95.03L269.20,95.03L269.20,95.16L269.70,95.16L269.70,95.14L270.20,95.14L270.20,95.13L270.70,95.13L270.70,95.30L271.20,95.30L271.20,95.26L271.70,95.26L271.70,94.85L272.20,94.85L272.20,95.21L272.70,95.21L272.70,95.03L273.20,95.03L273.20,95.03L273.70,95.03L273.70,95.22L274.20,95.22L274.20,95.26L274.70,95.26L274.70,95.21L275.20,95.21L275.20,95.06L275.70,95.06L275.70,95.04L276.20,95.04L276.20,95.29L276.70,95.29L276.70,95.17L277.20,95.17L277.20,95.10L277.70,95.10L277.70,95.29L278.20,95.29L278.20,95.02L278.70,95.02L278.70,95.10L279.20,95.10L279.20,95.22L279.70,95.22L279.70,94.91L280.20,94.91L280.20,95.28L280.70,95.28L280.70,94.90L281.20,94.90L281.20,94.95L281.70,94.95L281.70,92.40L282.20,92.40L282.20,94.60L282.70,94.60L282.70,94.88L283.20,94.88L283.20,95.15L283.70,95.15L283.70,95.26L284.20,95.26L284.20,95.25L284.70,95.25L284.70,95.25L285.20,95.25L285.20,92.75L285.70,92.75L285.70,93.75L286.20,93.75L286.20,81.00L286.70,81.00L286.70,91.95L287.20,91.95L287.20,93.45L287.70,93.45L287.70,95.23L288.20,95.23L288.20,95.23L288.70,95.23L288.70,95.13L289.20,95.13L289.20,95.18L289.70,95.18L289.70,95.15L290.20,95.15L290.20,95.25L290.70,95.25L290.70,95.00L291.20,95.00L291.20,95.07L291.70,95.07L291.70,95.29L292.20,95.29L292.20,95.17L292.70,95.17L292.70,95.20L293.20,95.20L293.20,95.08L293.70,95.08L293.70,95.22L294.20,95.22L294.20,94.07L294.70,94.07L294.70,95.22L295.20,95.22L295.20,95.30L295.70,95.30L295.70,95.25L296.20,95.25L296.20,94.47L296.70,94.47L296.70,95.23L297.20,95.23L297.20,95.18L297.70,95.18L297.70,95.29L298.20,95.29L298.20,95.18L298.70,95.18L298.70,95.03L299.20,95.03L299.20,95.18L299.70,95.18L299.70,95.08L300.20,95.08L300.20,95.04L300.70,95.04L300.70,95.26L301.20,95.26L301.20,95.28L301.70,95.28L301.70,95.11L302.20,95.11L302.20,95.25L302.70,95.25L302.70,95.18L303.20,95.18L303.20,95.08L303.70,95.08L303.70,95.22L304.20,95.22L304.20,95.23L304.70,95.23L304.70,95.23L305.20,95.23L305.20,95.13L305.70,95.13L305.70,95.22L306.20,95.22L306.20,94.87L306.70,94.87L306.70,94.96L307.20,94.96L307.20,92.80L307.70,92.80L307.70,94.70L308.20,94.70L308.20,94.93L308.70,94.93L308.70,95.13L309.20,95.13L309.20,95.20L309.70,95.20L309.70,94.97L310.20,94.97L310.20,95.15L310.70,95.15L310.70,95.25L311.20,95.25L311.20,95.12L311.70,95.12L311.70,94.96L312.20,94.96L312.20,95.15L312.70,95.15L312.70,95.29L313.20,95.29L313.20,95.30L313.70,95.30L313.70,95.08L314.20,95.08L314.20,94.80L314.70,94.80L314.70,92.40L315.20,92.40L315.20,94.90L315.70,94.90L315.70,95.06L316.20,95.06L316.20,95.12L316.70,95.12L316.70,95.06L317.20,95.06L317.20,95.10L317.70,95.10L317.70,95.19L318.20,95.19L318.20,95.25L318.70,95.25L318.70,95.30L319.20,95.30L319.20,95.18L319.70,95.18L319.70,95.18L320.20,95.18L320.20,95.25L320.70,95.25L320.70,95.24L321.20,95.24L321.20,95.29L321.70,95.29L321.70,95.18L322.20,95.18L322.20,95.20L322.70,95.20L322.70,95.22L323.20,95.22L323.20,94.99L323.70,94.99L323.70,94.98L324.20,94.98L324.20,95.16L324.70,95.16L324.70,95.26L325.20,95.26L325.20,95.25L325.70,95.25L325.70,95.22L326.20,95.22L326.20,95.15L326.70,95.15L326.70,95.25L327.20,95.25L327.20,95.27L327.70,95.27L327.70,95.21L328.20,95.21L328.20,95.08L328.70,95.08L328.70,95.25L329.20,95.25L329.20,95.21L329.70,95.21L329.70,95.23L330.20,95.23L330.20,95.30L330.70,95.30L330.70,94.99L331.20,94.99L331.20,95.27L331.70,95.27L331.70,94.88L332.20,94.88L332.20,95.12L332.70,95.12L332.70,95.04L333.20,95.04L333.20,95.24L333.70,95.24L333.70,95.18L334.20,95.18L334.20,95.23L334.70,95.23L334.70,95.24L335.20,95.24L335.20,95.21L335.70,95.21L335.70,95.25L336.20,95.25L336.20,95.07L336.70,95.07L336.70,95.29L337.20,95.29L337.20,95.25L337.70,95.25L337.70,95.20L338.20,95.20L338.20,95.23L338.70,95.23L338.70,95.24L339.20,95.24L339.20,95.17L339.70,95.17L339.70,95.13L340.20,95.13L340.20,95.19L340.70,95.19L340.70,95.14L341.20,95.14L341.20,95.23L341.70,95.23L341.70,95.18L342.20,95.18L342.20,95.17L342.70,95.17L342.70,95.24L343.20,95.24L343.20,92.78L343.70,92.78L343.70,94.31L344.20,94.31L344.20,81.50L344.70,81.50L344.70,92.71L345.20,92.71L345.20,93.21L345.70,93.21L345.70,90.20L346.20,90.20L346.20,94.54L346.70,94.54L346.70,94.42L347.20,94.42L347.20,95.13L347.70,95.13L347.70,95.00L348.20,95.00L348.20,95.26L348.70,95.26L348.70,95.06L349.20,95.06L349.20,94.04L349.70,94.04L349.70,95.28L350.20,95.28L350.20,94.30L350.70,94.30L350.70,94.27L351.20,94.27L351.20,87.50L351.70,87.50L351.70,93.31L352.20,93.31L352.20,94.71L352.70,94.71L352.70,86.50L353.20,86.50L353.20,94.21L353.70,94.21L353.70,93.63L354.20,93.63L354.20,88.50L354.70,88.50L354.70,94.37L355.20,94.37L355.20,94.33L355.70,94.33L355.70,94.03L356.20,94.03L356.20,92.97L356.70,92.97L356.70,81.90L357.20,81.90L357.20,91.93L357.70,91.93L357.70,93.11L358.20,93.11L358.20,95.28L358.70,95.28L358.70,95.07L359.20,95.07L359.20,95.28L359.70,95.28L359.70,95.25L360.20,95.25L360.20,95.15L360.70,95.15L360.70,95.09L361.20,95.09L361.20,95.18L361.70,95.18L361.70,95.18L362.20,95.18L362.20,95.28L362.70,95.28L362.70,95.16L363.20,95.16L363.20,95.15L363.70,95.15L363.70,95.30L364.20,95.30L364.20,95.27L364.70,95.27L364.70,95.23L365.20,95.23L365.20,95.30L365.70,95.30L365.70,95.24L366.20,95.24L366.20,95.23L366.70,95.23L366.70,95.24L367.20,95.24L367.20,95.12L367.70,95.12L367.70,95.20L368.20,95.20L368.20,95.08L368.70,95.08L368.70,95.20L369.20,95.20L369.20,95.23L369.70,95.23L369.70,95.30L370.20,95.30L370.20,95.12L370.70,95.12L370.70,95.05L371.20,95.05L371.20,95.28L371.70,95.28L371.70,94.97L372.20,94.97L372.20,95.14L372.70,95.14L372.70,95.22L373.20,95.22L373.20,94.96L373.70,94.96L373.70,95.02L374.20,95.02L374.20,95.28L374.70,95.28L374.70,95.29L375.20,95.29L375.20,94.39L375.70,94.39L375.70,95.18L376.20,95.18L376.20,94.98L376.70,94.98L376.70,95.28L377.20,95.28L377.20,95.17L377.70,95.17L377.70,95.05L378.20,95.05L378.20,95.21L378.70,95.21L378.70,95.24L379.20,95.24L379.20,95.12L379.70,95.12L379.70,95.28L380.20,95.28L380.20,95.20L380.70,95.20L380.70,95.26L381.20,95.26L381.20,95.15L381.70,95.15L381.70,95.15L382.20,95.15L382.20,95.28L382.70,95.28L382.70,95.15L383.20,95.15L383.20,95.19L383.70,95.19L383.70,95.16L384.20,95.16L384.20,95.24L384.70,95.24L384.70,95.29L385.20,95.29L385.20,95.20L385.70,95.20L385.70,95.28L386.20,95.28L386.20,95.07L386.70,95.07L386.70,95.20L387.20,95.20L387.20,95.16L387.70,95.16L387.70,95.17L388.20,95.17L388.20,95.06L388.70,95.06L388.70,95.25L389.20,95.25L389.20,95.18L389.70,95.18L389.70,95.06L390.20,95.06L390.20,95.26L390.70,95.26L390.70,95.04L391.20,95.04L391.20,95.04L391.70,95.04L391.70,95.18L392.20,95.18L392.20,95.02L392.70,95.02L392.70,95.17L393.20,95.17L393.20,95.17L393.70,95.17L393.70,95.13L394.20,95.13L394.20,95.25L394.70,95.25L394.70,95.24L395.20,95.24L395.20,95.28L395.70,95.28L395.70,95.10L396.20,95.10L396.20,95.22L396.70,95.22L396.70,95.20L397.20,95.20L397.20,95.23L397.70,95.23L397.70,95.19L398.20,95.19L398.20,95.19L398.70,95.19L398.70,95.23L399.20,95.23L399.20,95.24L399.70,95.24L399.70,95.21L400.20,95.21L400.20,95.25L400.70,95.25L400.70,95.15L401.20,95.15L401.20,95.02L401.70,95.02L401.70,95.12L402.20,95.12L402.20,95.15L402.70,95.15L402.70,95.13L403.20,95.13L403.20,95.10L403.70,95.10L403.70,95.24L404.20,95.24L404.20,95.20L404.70,95.20L404.70,95.25L405.20,95.25L405.20,95.28L405.70,95.28L405.70,95.23L406.20,95.23L406.20,95.22L406.70,95.22L406.70,95.26L407.20,95.26L407.20,95.11L407.70,95.11L407.70,95.22L408.20,95.22L408.20,95.30L408.70,95.30L408.70,95.28L409.20,95.28L409.20,95.25L409.70,95.25L409.70,95.19L410.20,95.19L410.20,95.21L410.70,95.21L410.70,95.28L411.20,95.28L411.20,95.06L411.70,95.06L411.70,94.97L412.20,94.97L412.20,95.01L412.70,95.01L412.70,95.07L413.20,95.07L413.20,95.03L413.70,95.03L413.70,95.23L414.20,95.23L414.20,95.08L414.70,95.08L414.70,95.23L415.20,95.23L415.20,95.06L415.70,95.06L415.70,95.02L416.20,95.02L416.20,95.16L416.70,95.16L416.70,94.94L417.20,94.94L417.20,95.21L417.70,95.21L417.70,95.19L418.20,95.19L418.20,95.22L418.70,95.22L418.70,95.23L419.20,95.23L419.20,95.11L419.70,95.11L419.70,95.11L420.20,95.11L420.20,94.95L420.70,94.95L420.70,95.22L421.20,95.22L421.20,95.30L421.70,95.30L421.70,95.20L422.20,95.20L422.20,95.28L422.70,95.28L422.70,95.27L423.20,95.27L423.20,95.24L423.70,95.24L423.70,95.12L424.20,95.12L424.20,95.09L424.70,95.09L424.70,95.19L425.20,95.19L425.20,95.25L425.70,95.25L425.70,94.99L426.20,94.99L426.20,94.19L426.70,94.19L426.70,95.02L427.20,95.02L427.20,95.23L427.70,95.23L427.70,95.29L428.20,95.29L428.20,95.10L428.70,95.10L428.70,95.30L429.20,95.30L429.20,94.98L429.70,94.98L429.70,95.26L430.20,95.26L430.20,94.95L430.70,94.95L430.70,95.02L431.20,95.02L431.20,92.70L431.70,92.70L431.70,94.74L432.20,94.74L432.20,94.79L432.70,94.79L432.70,95.23L433.20,95.23L433.20,95.24L433.70,95.24L433.70,95.12L434.20,95.12L434.20,95.00L434.70,95.00L434.70,95.19L435.20,95.19L435.20,95.25L435.70,95.25L435.70,95.28L436.20,95.28L436.20,95.25L436.70,95.25L436.70,95.12L437.20,95.12L437.20,95.28L437.70,95.28L437.70,95.24L438.20,95.24L438.20,95.24L438.70,95.24L438.70,95.12L439.20,95.12L439.20,94.71L439.70,94.71L439.70,94.38L440.20,94.38L440.20,88.40L440.70,88.40L440.70,94.08L441.20,94.08L441.20,94.00L441.70,94.00L441.70,95.24L442.20,95.24L442.20,95.22L442.70,95.22L442.70,95.15L443.20,95.15L443.20,95.04L443.70,95.04L443.70,95.04L444.20,95.04L444.20,95.26L444.70,95.26L444.70,95.26L445.20,95.26L445.20,94.98L445.70,94.98L445.70,95.29L446.20,95.29L446.20,95.21L446.70,95.21L446.70,95.29L447.20,95.29L447.20,95.12L447.70,95.12L447.70,95.22L448.20,95.22L448.20,95.25L448.70,95.25L448.70,95.27L449.20,95.27L449.20,95.25L449.70,95.25L449.70,95.12L450.20,95.12L450.20,94.99L450.70,94.99L450.70,95.29L451.20,95.29L451.20,95.24L451.70,95.24L451.70,95.26L452.20,95.26L452.20,95.01L452.70,95.01L452.70,95.19L453.20,95.19L453.20,95.18L453.70,95.18L453.70,95.27L454.20,95.27L454.20,95.23L454.70,95.23L454.70,95.05L455.20,95.05L455.20,95.24L455.70,95.24L455.70,95.03L456.20,95.03L456.20,93.47L456.70,93.47L456.70,93.84L457.20,93.84L457.20,81.90L457.70,81.90L457.70,91.48L458.20,91.48L458.20,93.13L458.70,93.13L458.70,94.97L459.20,94.97L459.20,95.23L459.70,95.23L459.70,95.12L460.20,95.12L460.20,95.21L460.70,95.21L460.70,95.21L461.20,95.21L461.20,95.28L461.70,95.28L461.70,95.21L462.20,95.21L462.20,95.18L462.70,95.18L462.70,95.05L463.20,95.05L463.20,95.29L463.70,95.29L463.70,95.25L464.20,95.25L464.20,95.27L464.70,95.27L464.70,95.27L465.20,95.27L465.20,95.09L465.70,95.09L465.70,95.22L466.20,95.22L466.20,95.13L466.70,95.13L466.70,94.84L467.20,94.84L467.20,95.25L467.70,95.25L467.70,95.14L468.20,95.14L468.20,95.00L468.70,95.00L468.70,95.13L469.20,95.13L469.20,95.05L469.70,95.05L469.70,95.21L470.20,95.21L470.20,95.22L470.70,95.22L470.70,95.04L471.20,95.04L471.20,95.21L471.70,95.21L471.70,95.14L472.20,95.14L472.20,95.11L472.70,95.11L472.70,95.19L473.20,95.19L473.20,95.15L473.70,95.15L473.70,94.92L474.20,94.92L474.20,95.13L474.70,95.13L474.70,95.29L475.20,95.29L475.20,95.09L475.70,95.09L475.70,95.10L476.20,95.10L476.20,95.23L476.70,95.23L476.70,95.16L477.20,95.16L477.20,95.28L477.70,95.28L477.70,95.30L478.20,95.30L478.20,95.27L478.70,95.27L478.70,95.02L479.20,95.02L479.20,94.78L479.70,94.78L479.70,94.78L480.20,94.78L480.20,92.30L480.70,92.30L480.70,94.66L481.20,94.66L481.20,94.83L481.70,94.83L481.70,95.06L482.20,95.06L482.20,95.23L482.70,95.23L482.70,95.29L483.20,95.29L483.20,95.23L483.70,95.23L483.70,95.08L484.20,95.08L484.20,95.22L484.70,95.22L484.70,95.28L485.20,95.28L485.20,95.27L485.70,95.27L485.70,95.28L486.20,95.28L486.20,95.18L486.70,95.18L486.70,95.23L487.20,95.23L487.20,95.25L487.70,95.25L487.70,95.19L488.20,95.19L488.20,95.27L488.70,95.27L488.70,95.30L489.20,95.30L489.20,95.22L489.70,95.22L489.70,95.05L490.20,95.05L490.20,95.11L490.70,95.11L490.70,95.11L491.20,95.11L491.20,95.17L491.70,95.17L491.70,95.29L492.20,95.29L492.20,95.13L492.70,95.13L492.70,95.29L493.20,95.29L493.20,95.17L493.70,95.17L493.70,95.13L494.20,95.13L494.20,95.27L494.70,95.27L494.70,95.27L495.20,95.27L495.20,95.28L495.70,95.28L495.70,95.14L496.20,95.14L496.20,95.17L496.70,95.17L496.70,95.26L497.20,95.26L497.20,95.07L497.70,95.07L497.70,95.11L498.20,95.11L498.20,95.04L498.70,95.04L498.70,94.00L499.20,94.00L499.20,94.92L499.70,94.92L499.70,95.11L500.20,95.11L500.20,95.11L500.70,95.11L500.70,95.29L501.20,95.29L501.20,95.30L501.70,95.30L501.70,95.27L502.20,95.27L502.20,95.08L502.70,95.08L502.70,95.15L503.20,95.15L503.20,95.23L503.70,95.23L503.70,95.27L504.20,95.27L504.20,95.14L504.70,95.14L504.70,95.26L505.20,95.26L505.20,95.08L505.70,95.08L505.70,95.21L506.20,95.21L506.20,95.15L506.70,95.15L506.70,95.23L507.20,95.23L507.20,95.07L507.70,95.07L507.70,94.98L508.20,94.98L508.20,95.24L508.70,95.24L508.70,95.20L509.20,95.20L509.20,95.27L509.70,95.27L509.70,94.92L510.20,94.92L510.20,95.24L510.70,95.24L510.70,95.28L511.20,95.28L511.20,95.22L511.70,95.22L511.70,95.24L512.20,95.24L512.20,95.3Z" fill="#3a3ac8"/>
<line x1="192.0" y1="95.3" x2="512.7" y2="95.3" stroke="#7c7ce0" stroke-width="0.9"/>
<text x="192.6" y="88.3" font-size="7.0" fill="#222" font-weight="normal" text-anchor="start" textLength="3.7" lengthAdjust="spacingAndGlyphs" stroke="#222" stroke-width="0.1" >8</text>
<text x="188.6" y="91.7" font-size="6.8" fill="#222" font-weight="normal" text-anchor="end" stroke="#222" stroke-width="0.08" >p300</text>
<path d="M192.20,111.6L192.20,111.30L192.70,111.30L192.70,110.71L193.20,110.71L193.20,111.24L193.70,111.24L193.70,111.08L194.20,111.08L194.20,111.56L194.70,111.56L194.70,111.58L195.20,111.58L195.20,110.30L195.70,110.30L195.70,110.30L196.20,110.30L196.20,111.19L196.70,111.19L196.70,110.52L197.20,110.52L197.20,111.41L197.70,111.41L197.70,111.46L198.20,111.46L198.20,109.34L198.70,109.34L198.70,111.40L199.20,111.40L199.20,110.54L199.70,110.54L199.70,110.84L200.20,110.84L200.20,111.33L200.70,111.33L200.70,111.32L201.20,111.32L201.20,110.61L201.70,110.61L201.70,111.50L202.20,111.50L202.20,111.48L202.70,111.48L202.70,111.31L203.20,111.31L203.20,110.70L203.70,110.70L203.70,111.11L204.20,111.11L204.20,111.41L204.70,111.41L204.70,111.28L205.20,111.28L205.20,111.05L205.70,111.05L205.70,111.40L206.20,111.40L206.20,109.50L206.70,109.50L206.70,111.18L207.20,111.18L207.20,111.20L207.70,111.20L207.70,111.54L208.20,111.54L208.20,111.51L208.70,111.51L208.70,110.75L209.20,110.75L209.20,110.97L209.70,110.97L209.70,111.42L210.20,111.42L210.20,110.64L210.70,110.64L210.70,111.45L211.20,111.45L211.20,111.20L211.70,111.20L211.70,111.11L212.20,111.11L212.20,111.22L212.70,111.22L212.70,111.19L213.20,111.19L213.20,111.08L213.70,111.08L213.70,111.19L214.20,111.19L214.20,111.58L214.70,111.58L214.70,109.97L215.20,109.97L215.20,110.33L215.70,110.33L215.70,111.58L216.20,111.58L216.20,111.45L216.70,111.45L216.70,111.04L217.20,111.04L217.20,111.37L217.70,111.37L217.70,110.12L218.20,110.12L218.20,110.82L218.70,110.82L218.70,110.94L219.20,110.94L219.20,111.55L219.70,111.55L219.70,110.77L220.20,110.77L220.20,110.94L220.70,110.94L220.70,111.29L221.20,111.29L221.20,111.10L221.70,111.10L221.70,111.11L222.20,111.11L222.20,111.23L222.70,111.23L222.70,111.31L223.20,111.31L223.20,111.36L223.70,111.36L223.70,111.55L224.20,111.55L224.20,111.52L224.70,111.52L224.70,111.24L225.20,111.24L225.20,111.22L225.70,111.22L225.70,111.51L226.20,111.51L226.20,111.49L226.70,111.49L226.70,111.56L227.20,111.56L227.20,111.11L227.70,111.11L227.70,110.59L228.20,110.59L228.20,110.78L228.70,110.78L228.70,111.16L229.20,111.16L229.20,111.49L229.70,111.49L229.70,110.89L230.20,110.89L230.20,110.28L230.70,110.28L230.70,110.39L231.20,110.39L231.20,111.46L231.70,111.46L231.70,110.85L232.20,110.85L232.20,111.54L232.70,111.54L232.70,110.27L233.20,110.27L233.20,111.32L233.70,111.32L233.70,110.85L234.20,110.85L234.20,111.31L234.70,111.31L234.70,110.82L235.20,110.82L235.20,110.75L235.70,110.75L235.70,111.47L236.20,111.47L236.20,110.85L236.70,110.85L236.70,110.33L237.20,110.33L237.20,111.41L237.70,111.41L237.70,110.83L238.20,110.83L238.20,111.18L238.70,111.18L238.70,110.76L239.20,110.76L239.20,111.02L239.70,111.02L239.70,111.25L240.20,111.25L240.20,110.55L240.70,110.55L240.70,111.24L241.20,111.24L241.20,111.24L241.70,111.24L241.70,111.22L242.20,111.22L242.20,111.49L242.70,111.49L242.70,111.13L243.20,111.13L243.20,111.29L243.70,111.29L243.70,111.23L244.20,111.23L244.20,111.18L244.70,111.18L244.70,111.42L245.20,111.42L245.20,110.79L245.70,110.79L245.70,111.56L246.20,111.56L246.20,110.69L246.70,110.69L246.70,111.57L247.20,111.57L247.20,111.53L247.70,111.53L247.70,110.96L248.20,110.96L248.20,111.11L248.70,111.11L248.70,110.47L249.20,110.47L249.20,110.83L249.70,110.83L249.70,110.77L250.20,110.77L250.20,110.86L250.70,110.86L250.70,111.49L251.20,111.49L251.20,111.55L251.70,111.55L251.70,111.23L252.20,111.23L252.20,111.58L252.70,111.58L252.70,110.79L253.20,110.79L253.20,111.30L253.70,111.30L253.70,111.33L254.20,111.33L254.20,111.18L254.70,111.18L254.70,111.33L255.20,111.33L255.20,111.27L255.70,111.27L255.70,110.51L256.20,110.51L256.20,110.95L256.70,110.95L256.70,111.58L257.20,111.58L257.20,111.35L257.70,111.35L257.70,111.13L258.20,111.13L258.20,111.38L258.70,111.38L258.70,111.29L259.20,111.29L259.20,110.74L259.70,110.74L259.70,110.96L260.20,110.96L260.20,110.91L260.70,110.91L260.70,111.43L261.20,111.43L261.20,111.31L261.70,111.31L261.70,111.28L262.20,111.28L262.20,111.35L262.70,111.35L262.70,111.35L263.20,111.35L263.20,111.28L263.70,111.28L263.70,110.92L264.20,110.92L264.20,111.58L264.70,111.58L264.70,111.08L265.20,111.08L265.20,110.97L265.70,110.97L265.70,110.99L266.20,110.99L266.20,111.20L266.70,111.20L266.70,111.07L267.20,111.07L267.20,111.58L267.70,111.58L267.70,111.55L268.20,111.55L268.20,111.24L268.70,111.24L268.70,109.77L269.20,109.77L269.20,110.81L269.70,110.81L269.70,110.78L270.20,110.78L270.20,111.01L270.70,111.01L270.70,111.55L271.20,111.55L271.20,111.37L271.70,111.37L271.70,111.42L272.20,111.42L272.20,110.71L272.70,110.71L272.70,110.86L273.20,110.86L273.20,110.34L273.70,110.34L273.70,111.09L274.20,111.09L274.20,111.19L274.70,111.19L274.70,110.82L275.20,110.82L275.20,110.76L275.70,110.76L275.70,111.38L276.20,111.38L276.20,111.41L276.70,111.41L276.70,110.47L277.20,110.47L277.20,111.60L277.70,111.60L277.70,108.41L278.20,108.41L278.20,111.01L278.70,111.01L278.70,111.23L279.20,111.23L279.20,110.51L279.70,110.51L279.70,111.24L280.20,111.24L280.20,109.20L280.70,109.20L280.70,110.25L281.20,110.25L281.20,110.97L281.70,110.97L281.70,109.37L282.20,109.37L282.20,110.97L282.70,110.97L282.70,111.23L283.20,111.23L283.20,110.42L283.70,110.42L283.70,110.51L284.20,110.51L284.20,110.67L284.70,110.67L284.70,111.54L285.20,111.54L285.20,110.10L285.70,110.10L285.70,110.97L286.20,110.97L286.20,111.04L286.70,111.04L286.70,107.00L287.20,107.00L287.20,110.79L287.70,110.79L287.70,110.72L288.20,110.72L288.20,110.46L288.70,110.46L288.70,111.43L289.20,111.43L289.20,111.49L289.70,111.49L289.70,108.97L290.20,108.97L290.20,111.46L290.70,111.46L290.70,110.98L291.20,110.98L291.20,111.57L291.70,111.57L291.70,110.75L292.20,110.75L292.20,111.25L292.70,111.25L292.70,111.59L293.20,111.59L293.20,111.37L293.70,111.37L293.70,110.88L294.20,110.88L294.20,111.47L294.70,111.47L294.70,111.10L295.20,111.10L295.20,110.04L295.70,110.04L295.70,111.06L296.20,111.06L296.20,110.97L296.70,110.97L296.70,111.08L297.20,111.08L297.20,111.11L297.70,111.11L297.70,111.38L298.20,111.38L298.20,111.37L298.70,111.37L298.70,111.07L299.20,111.07L299.20,110.89L299.70,110.89L299.70,111.55L300.20,111.55L300.20,110.48L300.70,110.48L300.70,111.36L301.20,111.36L301.20,111.16L301.70,111.16L301.70,110.87L302.20,110.87L302.20,111.28L302.70,111.28L302.70,111.15L303.20,111.15L303.20,111.36L303.70,111.36L303.70,110.99L304.20,110.99L304.20,109.36L304.70,109.36L304.70,108.25L305.20,108.25L305.20,111.29L305.70,111.29L305.70,111.50L306.20,111.50L306.20,110.81L306.70,110.81L306.70,108.95L307.20,108.95L307.20,105.90L307.70,105.90L307.70,110.40L308.20,110.40L308.20,111.24L308.70,111.24L308.70,111.54L309.20,111.54L309.20,110.70L309.70,110.70L309.70,111.50L310.20,111.50L310.20,111.50L310.70,111.50L310.70,111.35L311.20,111.35L311.20,110.12L311.70,110.12L311.70,110.67L312.20,110.67L312.20,111.00L312.70,111.00L312.70,110.72L313.20,110.72L313.20,111.16L313.70,111.16L313.70,111.29L314.20,111.29L314.20,111.29L314.70,111.29L314.70,108.30L315.20,108.30L315.20,111.01L315.70,111.01L315.70,111.12L316.20,111.12L316.20,111.32L316.70,111.32L316.70,111.43L317.20,111.43L317.20,110.34L317.70,110.34L317.70,111.56L318.20,111.56L318.20,110.48L318.70,110.48L318.70,111.20L319.20,111.20L319.20,111.48L319.70,111.48L319.70,110.73L320.20,110.73L320.20,111.13L320.70,111.13L320.70,110.93L321.20,110.93L321.20,110.84L321.70,110.84L321.70,111.39L322.20,111.39L322.20,110.22L322.70,110.22L322.70,111.22L323.20,111.22L323.20,110.75L323.70,110.75L323.70,111.35L324.20,111.35L324.20,111.48L324.70,111.48L324.70,110.64L325.20,110.64L325.20,110.84L325.70,110.84L325.70,110.64L326.20,110.64L326.20,111.40L326.70,111.40L326.70,111.08L327.20,111.08L327.20,111.20L327.70,111.20L327.70,108.90L328.20,108.90L328.20,109.76L328.70,109.76L328.70,111.10L329.20,111.10L329.20,111.50L329.70,111.50L329.70,111.12L330.20,111.12L330.20,111.34L330.70,111.34L330.70,110.47L331.20,110.47L331.20,110.98L331.70,110.98L331.70,111.10L332.20,111.10L332.20,111.06L332.70,111.06L332.70,110.02L333.20,110.02L333.20,111.35L333.70,111.35L333.70,110.66L334.20,110.66L334.20,108.88L334.70,108.88L334.70,111.26L335.20,111.26L335.20,111.18L335.70,111.18L335.70,110.34L336.20,110.34L336.20,111.07L336.70,111.07L336.70,111.26L337.20,111.26L337.20,111.52L337.70,111.52L337.70,111.32L338.20,111.32L338.20,108.50L338.70,108.50L338.70,111.53L339.20,111.53L339.20,110.98L339.70,110.98L339.70,110.75L340.20,110.75L340.20,111.43L340.70,111.43L340.70,111.53L341.20,111.53L341.20,111.57L341.70,111.57L341.70,111.58L342.20,111.58L342.20,111.28L342.70,111.28L342.70,111.11L343.20,111.11L343.20,110.94L343.70,110.94L343.70,108.02L344.20,108.02L344.20,110.94L344.70,110.94L344.70,103.80L345.20,103.80L345.20,109.36L345.70,109.36L345.70,110.24L346.20,110.24L346.20,111.53L346.70,111.53L346.70,111.13L347.20,111.13L347.20,111.48L347.70,111.48L347.70,109.29L348.20,109.29L348.20,110.72L348.70,110.72L348.70,109.76L349.20,109.76L349.20,110.99L349.70,110.99L349.70,111.09L350.20,111.09L350.20,108.67L350.70,108.67L350.70,111.45L351.20,111.45L351.20,110.94L351.70,110.94L351.70,110.58L352.20,110.58L352.20,99.60L352.70,99.60L352.70,109.96L353.20,109.96L353.20,109.71L353.70,109.71L353.70,102.30L354.20,102.30L354.20,108.98L354.70,108.98L354.70,109.86L355.20,109.86L355.20,111.39L355.70,111.39L355.70,110.74L356.20,110.74L356.20,110.67L356.70,110.67L356.70,104.20L357.20,104.20L357.20,110.13L357.70,110.13L357.70,109.10L358.20,109.10L358.20,108.57L358.70,108.57L358.70,111.52L359.20,111.52L359.20,110.40L359.70,110.40L359.70,110.54L360.20,110.54L360.20,111.06L360.70,111.06L360.70,109.56L361.20,109.56L361.20,110.37L361.70,110.37L361.70,110.16L362.20,110.16L362.20,110.75L362.70,110.75L362.70,110.06L363.20,110.06L363.20,110.77L363.70,110.77L363.70,111.58L364.20,111.58L364.20,110.48L364.70,110.48L364.70,111.16L365.20,111.16L365.20,111.00L365.70,111.00L365.70,110.91L366.20,110.91L366.20,110.91L366.70,110.91L366.70,111.56L367.20,111.56L367.20,111.14L367.70,111.14L367.70,111.31L368.20,111.31L368.20,110.77L368.70,110.77L368.70,111.38L369.20,111.38L369.20,111.30L369.70,111.30L369.70,111.59L370.20,111.59L370.20,111.10L370.70,111.10L370.70,111.43L371.20,111.43L371.20,110.27L371.70,110.27L371.70,110.35L372.20,110.35L372.20,110.64L372.70,110.64L372.70,111.25L373.20,111.25L373.20,110.81L373.70,110.81L373.70,110.90L374.20,110.90L374.20,111.30L374.70,111.30L374.70,111.00L375.20,111.00L375.20,110.97L375.70,110.97L375.70,111.42L376.20,111.42L376.20,111.15L376.70,111.15L376.70,111.37L377.20,111.37L377.20,111.37L377.70,111.37L377.70,111.08L378.20,111.08L378.20,111.34L378.70,111.34L378.70,111.35L379.20,111.35L379.20,111.06L379.70,111.06L379.70,110.99L380.20,110.99L380.20,111.49L380.70,111.49L380.70,111.21L381.20,111.21L381.20,111.01L381.70,111.01L381.70,111.14L382.20,111.14L382.20,110.97L382.70,110.97L382.70,110.83L383.20,110.83L383.20,110.89L383.70,110.89L383.70,110.93L384.20,110.93L384.20,111.50L384.70,111.50L384.70,111.07L385.20,111.07L385.20,110.92L385.70,110.92L385.70,111.40L386.20,111.40L386.20,111.57L386.70,111.57L386.70,111.16L387.20,111.16L387.20,111.29L387.70,111.29L387.70,109.59L388.20,109.59L388.20,111.58L388.70,111.58L388.70,111.58L389.20,111.58L389.20,110.48L389.70,110.48L389.70,110.00L390.20,110.00L390.20,110.84L390.70,110.84L390.70,110.11L391.20,110.11L391.20,111.13L391.70,111.13L391.70,111.45L392.20,111.45L392.20,111.08L392.70,111.08L392.70,111.30L393.20,111.30L393.20,110.75L393.70,110.75L393.70,110.77L394.20,110.77L394.20,110.97L394.70,110.97L394.70,110.84L395.20,110.84L395.20,111.41L395.70,111.41L395.70,111.25L396.20,111.25L396.20,111.23L396.70,111.23L396.70,110.29L397.20,110.29L397.20,111.48L397.70,111.48L397.70,111.44L398.20,111.44L398.20,110.32L398.70,110.32L398.70,111.22L399.20,111.22L399.20,111.41L399.70,111.41L399.70,110.81L400.20,110.81L400.20,111.56L400.70,111.56L400.70,111.19L401.20,111.19L401.20,111.52L401.70,111.52L401.70,111.15L402.20,111.15L402.20,111.17L402.70,111.17L402.70,110.71L403.20,110.71L403.20,111.40L403.70,111.40L403.70,111.33L404.20,111.33L404.20,111.08L404.70,111.08L404.70,110.78L405.20,110.78L405.20,110.45L405.70,110.45L405.70,111.54L406.20,111.54L406.20,111.19L406.70,111.19L406.70,110.89L407.20,110.89L407.20,110.62L407.70,110.62L407.70,111.03L408.20,111.03L408.20,111.36L408.70,111.36L408.70,110.96L409.20,110.96L409.20,111.13L409.70,111.13L409.70,110.80L410.20,110.80L410.20,110.92L410.70,110.92L410.70,111.06L411.20,111.06L411.20,111.33L411.70,111.33L411.70,110.30L412.20,110.30L412.20,111.18L412.70,111.18L412.70,109.82L413.20,109.82L413.20,110.74L413.70,110.74L413.70,111.44L414.20,111.44L414.20,111.52L414.70,111.52L414.70,111.09L415.20,111.09L415.20,111.45L415.70,111.45L415.70,111.46L416.20,111.46L416.20,111.32L416.70,111.32L416.70,111.58L417.20,111.58L417.20,111.50L417.70,111.50L417.70,111.19L418.20,111.19L418.20,111.44L418.70,111.44L418.70,111.01L419.20,111.01L419.20,109.50L419.70,109.50L419.70,110.91L420.20,110.91L420.20,111.46L420.70,111.46L420.70,110.95L421.20,110.95L421.20,109.72L421.70,109.72L421.70,110.47L422.20,110.47L422.20,110.73L422.70,110.73L422.70,107.60L423.20,107.60L423.20,111.17L423.70,111.17L423.70,111.12L424.20,111.12L424.20,111.18L424.70,111.18L424.70,110.62L425.20,110.62L425.20,108.80L425.70,108.80L425.70,111.14L426.20,111.14L426.20,109.74L426.70,109.74L426.70,111.47L427.20,111.47L427.20,110.67L427.70,110.67L427.70,110.79L428.20,110.79L428.20,111.35L428.70,111.35L428.70,110.50L429.20,110.50L429.20,109.42L429.70,109.42L429.70,110.89L430.20,110.89L430.20,111.03L430.70,111.03L430.70,110.59L431.20,110.59L431.20,107.00L431.70,107.00L431.70,110.91L432.20,110.91L432.20,111.07L432.70,111.07L432.70,111.47L433.20,111.47L433.20,111.59L433.70,111.59L433.70,110.40L434.20,110.40L434.20,108.44L434.70,108.44L434.70,108.56L435.20,108.56L435.20,111.04L435.70,111.04L435.70,110.79L436.20,110.79L436.20,108.30L436.70,108.30L436.70,110.69L437.20,110.69L437.20,111.09L437.70,111.09L437.70,109.35L438.20,109.35L438.20,111.25L438.70,111.25L438.70,111.20L439.20,111.20L439.20,111.25L439.70,111.25L439.70,111.24L440.20,111.24L440.20,107.60L440.70,107.60L440.70,109.22L441.20,109.22L441.20,110.85L441.70,110.85L441.70,111.28L442.20,111.28L442.20,110.63L442.70,110.63L442.70,111.36L443.20,111.36L443.20,110.95L443.70,110.95L443.70,108.90L444.20,108.90L444.20,108.80L444.70,108.80L444.70,109.95L445.20,109.95L445.20,109.47L445.70,109.47L445.70,111.23L446.20,111.23L446.20,111.54L446.70,111.54L446.70,110.89L447.20,110.89L447.20,111.05L447.70,111.05L447.70,111.14L448.20,111.14L448.20,109.20L448.70,109.20L448.70,109.19L449.20,109.19L449.20,110.50L449.70,110.50L449.70,111.31L450.20,111.31L450.20,111.38L450.70,111.38L450.70,110.91L451.20,110.91L451.20,110.98L451.70,110.98L451.70,111.18L452.20,111.18L452.20,108.34L452.70,108.34L452.70,111.01L453.20,111.01L453.20,111.19L453.70,111.19L453.70,111.58L454.20,111.58L454.20,110.76L454.70,110.76L454.70,110.99L455.20,110.99L455.20,111.39L455.70,111.39L455.70,111.13L456.20,111.13L456.20,109.72L456.70,109.72L456.70,110.10L457.20,110.10L457.20,103.30L457.70,103.30L457.70,109.64L458.20,109.64L458.20,110.94L458.70,110.94L458.70,111.50L459.20,111.50L459.20,108.44L459.70,108.44L459.70,111.14L460.20,111.14L460.20,111.26L460.70,111.26L460.70,111.58L461.20,111.58L461.20,111.04L461.70,111.04L461.70,111.19L462.20,111.19L462.20,110.68L462.70,110.68L462.70,111.25L463.20,111.25L463.20,111.04L463.70,111.04L463.70,111.40L464.20,111.40L464.20,110.82L464.70,110.82L464.70,111.31L465.20,111.31L465.20,111.20L465.70,111.20L465.70,111.54L466.20,111.54L466.20,111.34L466.70,111.34L466.70,110.86L467.20,110.86L467.20,110.90L467.70,110.90L467.70,111.58L468.20,111.58L468.20,111.33L468.70,111.33L468.70,110.51L469.20,110.51L469.20,111.51L469.70,111.51L469.70,111.35L470.20,111.35L470.20,111.58L470.70,111.58L470.70,110.96L471.20,110.96L471.20,111.04L471.70,111.04L471.70,110.83L472.20,110.83L472.20,111.27L472.70,111.27L472.70,110.70L473.20,110.70L473.20,110.35L473.70,110.35L473.70,111.50L474.20,111.50L474.20,111.47L474.70,111.47L474.70,111.52L475.20,111.52L475.20,111.10L475.70,111.10L475.70,111.36L476.20,111.36L476.20,110.72L476.70,110.72L476.70,111.27L477.20,111.27L477.20,109.03L477.70,109.03L477.70,108.57L478.20,108.57L478.20,111.00L478.70,111.00L478.70,111.27L479.20,111.27L479.20,111.08L479.70,111.08L479.70,110.82L480.20,110.82L480.20,107.00L480.70,107.00L480.70,110.90L481.20,110.90L481.20,110.77L481.70,110.77L481.70,109.94L482.20,109.94L482.20,109.11L482.70,109.11L482.70,110.82L483.20,110.82L483.20,109.67L483.70,109.67L483.70,110.37L484.20,110.37L484.20,111.48L484.70,111.48L484.70,108.64L485.20,108.64L485.20,111.15L485.70,111.15L485.70,108.90L486.20,108.90L486.20,109.31L486.70,109.31L486.70,111.41L487.20,111.41L487.20,111.42L487.70,111.42L487.70,111.29L488.20,111.29L488.20,110.95L488.70,110.95L488.70,111.29L489.20,111.29L489.20,111.08L489.70,111.08L489.70,111.31L490.20,111.31L490.20,109.91L490.70,109.91L490.70,110.92L491.20,110.92L491.20,111.43L491.70,111.43L491.70,110.00L492.20,110.00L492.20,110.87L492.70,110.87L492.70,111.23L493.20,111.23L493.20,111.28L493.70,111.28L493.70,111.56L494.20,111.56L494.20,110.59L494.70,110.59L494.70,110.75L495.20,110.75L495.20,111.31L495.70,111.31L495.70,111.53L496.20,111.53L496.20,111.42L496.70,111.42L496.70,111.47L497.20,111.47L497.20,110.10L497.70,110.10L497.70,111.53L498.20,111.53L498.20,110.68L498.70,110.68L498.70,111.39L499.20,111.39L499.20,110.91L499.70,110.91L499.70,111.33L500.20,111.33L500.20,111.29L500.70,111.29L500.70,111.30L501.20,111.30L501.20,111.59L501.70,111.59L501.70,111.30L502.20,111.30L502.20,110.61L502.70,110.61L502.70,111.01L503.20,111.01L503.20,111.27L503.70,111.27L503.70,111.41L504.20,111.41L504.20,111.45L504.70,111.45L504.70,110.51L505.20,110.51L505.20,111.36L505.70,111.36L505.70,111.52L506.20,111.52L506.20,111.21L506.70,111.21L506.70,111.17L507.20,111.17L507.20,111.50L507.70,111.50L507.70,110.69L508.20,110.69L508.20,110.31L508.70,110.31L508.70,110.86L509.20,110.86L509.20,111.48L509.70,111.48L509.70,111.00L510.20,111.00L510.20,111.59L510.70,111.59L510.70,111.57L511.20,111.57L511.20,111.27L511.70,111.27L511.70,111.24L512.20,111.24L512.20,111.6Z" fill="#3a3ac8"/>
<line x1="192.0" y1="111.6" x2="512.7" y2="111.6" stroke="#4848d0" stroke-width="0.9"/>
<text x="192.6" y="104.3" font-size="7.0" fill="#222" font-weight="normal" text-anchor="start" textLength="3.7" lengthAdjust="spacingAndGlyphs" stroke="#222" stroke-width="0.1" >3</text>
<text x="188.6" y="107.7" font-size="6.8" fill="#222" font-weight="normal" text-anchor="end" stroke="#222" stroke-width="0.08" >Med1</text>
<path d="M192.20,128.2L192.20,128.18L192.70,128.18L192.70,128.07L193.20,128.07L193.20,128.16L193.70,128.16L193.70,127.83L194.20,127.83L194.20,127.95L194.70,127.95L194.70,128.12L195.20,128.12L195.20,128.12L195.70,128.12L195.70,128.16L196.20,128.16L196.20,128.03L196.70,128.03L196.70,128.02L197.20,128.02L197.20,128.16L197.70,128.16L197.70,128.19L198.20,128.19L198.20,128.01L198.70,128.01L198.70,127.81L199.20,127.81L199.20,128.12L199.70,128.12L199.70,128.05L200.20,128.05L200.20,128.11L200.70,128.11L200.70,128.09L201.20,128.09L201.20,128.09L201.70,128.09L201.70,127.83L202.20,127.83L202.20,127.87L202.70,127.87L202.70,126.30L203.20,126.30L203.20,127.72L203.70,127.72L203.70,127.86L204.20,127.86L204.20,128.03L204.70,128.03L204.70,127.98L205.20,127.98L205.20,127.92L205.70,127.92L205.70,125.80L206.20,125.80L206.20,127.48L206.70,127.48L206.70,127.88L207.20,127.88L207.20,126.30L207.70,126.30L207.70,127.43L208.20,127.43L208.20,128.08L208.70,128.08L208.70,128.20L209.20,128.20L209.20,127.98L209.70,127.98L209.70,127.94L210.20,127.94L210.20,128.12L210.70,128.12L210.70,128.11L211.20,128.11L211.20,128.13L211.70,128.13L211.70,128.10L212.20,128.10L212.20,127.70L212.70,127.70L212.70,126.60L213.20,126.60L213.20,128.03L213.70,128.03L213.70,127.99L214.20,127.99L214.20,128.01L214.70,128.01L214.70,128.13L215.20,128.13L215.20,128.09L215.70,128.09L215.70,127.80L216.20,127.80L216.20,128.10L216.70,128.10L216.70,128.16L217.20,128.16L217.20,128.19L217.70,128.19L217.70,128.18L218.20,128.18L218.20,128.18L218.70,128.18L218.70,128.13L219.20,128.13L219.20,128.19L219.70,128.19L219.70,128.05L220.20,128.05L220.20,128.08L220.70,128.08L220.70,128.16L221.20,128.16L221.20,128.01L221.70,128.01L221.70,128.17L222.20,128.17L222.20,128.05L222.70,128.05L222.70,127.93L223.20,127.93L223.20,128.09L223.70,128.09L223.70,128.18L224.20,128.18L224.20,128.15L224.70,128.15L224.70,128.04L225.20,128.04L225.20,128.11L225.70,128.11L225.70,128.07L226.20,128.07L226.20,128.09L226.70,128.09L226.70,128.03L227.20,128.03L227.20,128.12L227.70,128.12L227.70,128.16L228.20,128.16L228.20,126.50L228.70,126.50L228.70,128.16L229.20,128.16L229.20,128.19L229.70,128.19L229.70,127.88L230.20,127.88L230.20,128.01L230.70,128.01L230.70,128.11L231.20,128.11L231.20,128.19L231.70,128.19L231.70,128.12L232.20,128.12L232.20,128.01L232.70,128.01L232.70,128.18L233.20,128.18L233.20,128.18L233.70,128.18L233.70,128.04L234.20,128.04L234.20,128.01L234.70,128.01L234.70,127.99L235.20,127.99L235.20,128.20L235.70,128.20L235.70,128.03L236.20,128.03L236.20,128.05L236.70,128.05L236.70,128.15L237.20,128.15L237.20,128.02L237.70,128.02L237.70,128.19L238.20,128.19L238.20,127.97L238.70,127.97L238.70,128.14L239.20,128.14L239.20,128.13L239.70,128.13L239.70,127.98L240.20,127.98L240.20,127.98L240.70,127.98L240.70,128.17L241.20,128.17L241.20,128.05L241.70,128.05L241.70,128.10L242.20,128.10L242.20,128.02L242.70,128.02L242.70,127.92L243.20,127.92L243.20,126.80L243.70,126.80L243.70,127.98L244.20,127.98L244.20,128.06L244.70,128.06L244.70,128.19L245.20,128.19L245.20,128.17L245.70,128.17L245.70,128.05L246.20,128.05L246.20,128.04L246.70,128.04L246.70,128.18L247.20,128.18L247.20,128.14L247.70,128.14L247.70,127.94L248.20,127.94L248.20,127.93L248.70,127.93L248.70,127.78L249.20,127.78L249.20,128.17L249.70,128.17L249.70,128.16L250.20,128.16L250.20,128.10L250.70,128.10L250.70,127.98L251.20,127.98L251.20,128.16L251.70,128.16L251.70,128.15L252.20,128.15L252.20,128.14L252.70,128.14L252.70,127.98L253.20,127.98L253.20,128.07L253.70,128.07L253.70,126.94L254.20,126.94L254.20,128.16L254.70,128.16L254.70,128.14L255.20,128.14L255.20,128.08L255.70,128.08L255.70,128.08L256.20,128.08L256.20,128.03L256.70,128.03L256.70,128.11L257.20,128.11L257.20,126.91L257.70,126.91L257.70,128.15L258.20,128.15L258.20,128.17L258.70,128.17L258.70,128.13L259.20,128.13L259.20,128.14L259.70,128.14L259.70,128.09L260.20,128.09L260.20,128.14L260.70,128.14L260.70,127.98L261.20,127.98L261.20,128.02L261.70,128.02L261.70,128.08L262.20,128.08L262.20,128.16L262.70,128.16L262.70,128.19L263.20,128.19L263.20,128.11L263.70,128.11L263.70,127.78L264.20,127.78L264.20,128.16L264.70,128.16L264.70,128.12L265.20,128.12L265.20,128.00L265.70,128.00L265.70,127.99L266.20,127.99L266.20,128.07L266.70,128.07L266.70,128.14L267.20,128.14L267.20,128.05L267.70,128.05L267.70,128.00L268.20,128.00L268.20,128.12L268.70,128.12L268.70,128.01L269.20,128.01L269.20,128.10L269.70,128.10L269.70,128.20L270.20,128.20L270.20,128.20L270.70,128.20L270.70,127.95L271.20,127.95L271.20,128.10L271.70,128.10L271.70,128.14L272.20,128.14L272.20,128.03L272.70,128.03L272.70,128.17L273.20,128.17L273.20,128.17L273.70,128.17L273.70,128.12L274.20,128.12L274.20,128.05L274.70,128.05L274.70,128.09L275.20,128.09L275.20,128.05L275.70,128.05L275.70,128.14L276.20,128.14L276.20,128.15L276.70,128.15L276.70,128.16L277.20,128.16L277.20,128.17L277.70,128.17L277.70,128.13L278.20,128.13L278.20,127.90L278.70,127.90L278.70,127.92L279.20,127.92L279.20,128.03L279.70,128.03L279.70,128.15L280.20,128.15L280.20,128.19L280.70,128.19L280.70,127.24L281.20,127.24L281.20,126.79L281.70,126.79L281.70,122.20L282.20,122.20L282.20,126.44L282.70,126.44L282.70,127.52L283.20,127.52L283.20,127.95L283.70,127.95L283.70,128.08L284.20,128.08L284.20,126.40L284.70,126.40L284.70,127.68L285.20,127.68L285.20,127.41L285.70,127.41L285.70,127.82L286.20,127.82L286.20,121.90L286.70,121.90L286.70,126.33L287.20,126.33L287.20,127.81L287.70,127.81L287.70,128.09L288.20,128.09L288.20,126.91L288.70,126.91L288.70,127.94L289.20,127.94L289.20,128.20L289.70,128.20L289.70,128.07L290.20,128.07L290.20,127.95L290.70,127.95L290.70,128.18L291.20,128.18L291.20,128.01L291.70,128.01L291.70,128.00L292.20,128.00L292.20,127.85L292.70,127.85L292.70,128.12L293.20,128.12L293.20,128.00L293.70,128.00L293.70,128.18L294.20,128.18L294.20,128.20L294.70,128.20L294.70,128.17L295.20,128.17L295.20,128.04L295.70,128.04L295.70,127.96L296.20,127.96L296.20,126.90L296.70,126.90L296.70,127.90L297.20,127.90L297.20,128.06L297.70,128.06L297.70,128.11L298.20,128.11L298.20,127.99L298.70,127.99L298.70,128.16L299.20,128.16L299.20,127.99L299.70,127.99L299.70,128.00L300.20,128.00L300.20,128.19L300.70,128.19L300.70,128.07L301.20,128.07L301.20,127.98L301.70,127.98L301.70,128.17L302.20,128.17L302.20,128.13L302.70,128.13L302.70,127.96L303.20,127.96L303.20,127.77L303.70,127.77L303.70,127.98L304.20,127.98L304.20,128.17L304.70,128.17L304.70,128.17L305.20,128.17L305.20,128.16L305.70,128.16L305.70,127.64L306.20,127.64L306.20,126.73L306.70,126.73L306.70,126.79L307.20,126.79L307.20,119.40L307.70,119.40L307.70,126.98L308.20,126.98L308.20,126.54L308.70,126.54L308.70,128.19L309.20,128.19L309.20,128.16L309.70,128.16L309.70,128.17L310.20,128.17L310.20,128.16L310.70,128.16L310.70,127.94L311.20,127.94L311.20,127.68L311.70,127.68L311.70,128.11L312.20,128.11L312.20,128.15L312.70,128.15L312.70,126.42L313.20,126.42L313.20,128.17L313.70,128.17L313.70,128.17L314.20,128.17L314.20,126.73L314.70,126.73L314.70,128.18L315.20,128.18L315.20,128.14L315.70,128.14L315.70,128.14L316.20,128.14L316.20,127.95L316.70,127.95L316.70,128.04L317.20,128.04L317.20,127.80L317.70,127.80L317.70,127.75L318.20,127.75L318.20,128.04L318.70,128.04L318.70,128.01L319.20,128.01L319.20,128.18L319.70,128.18L319.70,128.03L320.20,128.03L320.20,128.19L320.70,128.19L320.70,128.18L321.20,128.18L321.20,127.93L321.70,127.93L321.70,127.91L322.20,127.91L322.20,125.00L322.70,125.00L322.70,127.41L323.20,127.41L323.20,127.75L323.70,127.75L323.70,128.13L324.20,128.13L324.20,128.15L324.70,128.15L324.70,128.16L325.20,128.16L325.20,128.08L325.70,128.08L325.70,127.47L326.20,127.47L326.20,127.11L326.70,127.11L326.70,123.80L327.20,123.80L327.20,124.00L327.70,124.00L327.70,127.53L328.20,127.53L328.20,127.41L328.70,127.41L328.70,128.17L329.20,128.17L329.20,128.13L329.70,128.13L329.70,128.06L330.20,128.06L330.20,128.07L330.70,128.07L330.70,127.95L331.20,127.95L331.20,128.19L331.70,128.19L331.70,128.15L332.20,128.15L332.20,128.08L332.70,128.08L332.70,127.96L333.20,127.96L333.20,128.11L333.70,128.11L333.70,128.10L334.20,128.10L334.20,128.09L334.70,128.09L334.70,128.09L335.20,128.09L335.20,128.20L335.70,128.20L335.70,128.20L336.20,128.20L336.20,128.06L336.70,128.06L336.70,128.15L337.20,128.15L337.20,128.06L337.70,128.06L337.70,128.18L338.20,128.18L338.20,128.12L338.70,128.12L338.70,127.45L339.20,127.45L339.20,127.50L339.70,127.50L339.70,123.80L340.20,123.80L340.20,127.31L340.70,127.31L340.70,126.23L341.20,126.23L341.20,126.10L341.70,126.10L341.70,124.49L342.20,124.49L342.20,124.38L342.70,124.38L342.70,125.74L343.20,125.74L343.20,126.86L343.70,126.86L343.70,126.98L344.20,126.98L344.20,125.02L344.70,125.02L344.70,123.18L345.20,123.18L345.20,122.01L345.70,122.01L345.70,119.65L346.20,119.65L346.20,122.77L346.70,122.77L346.70,124.53L347.20,124.53L347.20,124.78L347.70,124.78L347.70,123.43L348.20,123.43L348.20,123.18L348.70,123.18L348.70,123.74L349.20,123.74L349.20,124.21L349.70,124.21L349.70,126.02L350.20,126.02L350.20,125.73L350.70,125.73L350.70,125.55L351.20,125.55L351.20,120.63L351.70,120.63L351.70,120.25L352.20,120.25L352.20,119.28L352.70,119.28L352.70,122.85L353.20,122.85L353.20,121.83L353.70,121.83L353.70,121.03L354.20,121.03L354.20,118.81L354.70,118.81L354.70,124.81L355.20,124.81L355.20,126.89L355.70,126.89L355.70,125.64L356.20,125.64L356.20,122.36L356.70,122.36L356.70,121.71L357.20,121.71L357.20,123.20L357.70,123.20L357.70,125.86L358.20,125.86L358.20,127.55L358.70,127.55L358.70,128.09L359.20,128.09L359.20,128.11L359.70,128.11L359.70,128.14L360.20,128.14L360.20,128.12L360.70,128.12L360.70,128.14L361.20,128.14L361.20,127.78L361.70,127.78L361.70,127.45L362.20,127.45L362.20,128.17L362.70,128.17L362.70,128.17L363.20,128.17L363.20,128.15L363.70,128.15L363.70,128.18L364.20,128.18L364.20,127.90L364.70,127.90L364.70,128.16L365.20,128.16L365.20,127.73L365.70,127.73L365.70,127.53L366.20,127.53L366.20,122.50L366.70,122.50L366.70,127.59L367.20,127.59L367.20,127.27L367.70,127.27L367.70,128.12L368.20,128.12L368.20,128.16L368.70,128.16L368.70,128.07L369.20,128.07L369.20,128.06L369.70,128.06L369.70,128.14L370.20,128.14L370.20,128.01L370.70,128.01L370.70,128.08L371.20,128.08L371.20,128.09L371.70,128.09L371.70,128.06L372.20,128.06L372.20,128.18L372.70,128.18L372.70,128.09L373.20,128.09L373.20,128.14L373.70,128.14L373.70,128.06L374.20,128.06L374.20,127.96L374.70,127.96L374.70,128.01L375.20,128.01L375.20,127.92L375.70,127.92L375.70,128.12L376.20,128.12L376.20,127.97L376.70,127.97L376.70,128.19L377.20,128.19L377.20,128.17L377.70,128.17L377.70,128.13L378.20,128.13L378.20,127.87L378.70,127.87L378.70,128.18L379.20,128.18L379.20,128.19L379.70,128.19L379.70,128.06L380.20,128.06L380.20,128.19L380.70,128.19L380.70,128.06L381.20,128.06L381.20,128.09L381.70,128.09L381.70,128.17L382.20,128.17L382.20,128.03L382.70,128.03L382.70,128.15L383.20,128.15L383.20,128.11L383.70,128.11L383.70,127.84L384.20,127.84L384.20,128.07L384.70,128.07L384.70,128.14L385.20,128.14L385.20,128.00L385.70,128.00L385.70,128.05L386.20,128.05L386.20,128.05L386.70,128.05L386.70,128.12L387.20,128.12L387.20,128.10L387.70,128.10L387.70,128.04L388.20,128.04L388.20,128.17L388.70,128.17L388.70,128.01L389.20,128.01L389.20,127.98L389.70,127.98L389.70,128.16L390.20,128.16L390.20,128.12L390.70,128.12L390.70,128.16L391.20,128.16L391.20,126.78L391.70,126.78L391.70,128.06L392.20,128.06L392.20,128.17L392.70,128.17L392.70,128.05L393.20,128.05L393.20,128.00L393.70,128.00L393.70,128.07L394.20,128.07L394.20,128.00L394.70,128.00L394.70,128.18L395.20,128.18L395.20,128.15L395.70,128.15L395.70,128.13L396.20,128.13L396.20,128.20L396.70,128.20L396.70,128.17L397.20,128.17L397.20,128.09L397.70,128.09L397.70,128.15L398.20,128.15L398.20,128.07L398.70,128.07L398.70,128.02L399.20,128.02L399.20,128.19L399.70,128.19L399.70,128.15L400.20,128.15L400.20,128.19L400.70,128.19L400.70,128.19L401.20,128.19L401.20,128.10L401.70,128.10L401.70,128.15L402.20,128.15L402.20,128.06L402.70,128.06L402.70,128.12L403.20,128.12L403.20,128.01L403.70,128.01L403.70,128.11L404.20,128.11L404.20,128.06L404.70,128.06L404.70,128.16L405.20,128.16L405.20,128.18L405.70,128.18L405.70,128.08L406.20,128.08L406.20,128.17L406.70,128.17L406.70,128.04L407.20,128.04L407.20,128.08L407.70,128.08L407.70,128.18L408.20,128.18L408.20,128.16L408.70,128.16L408.70,127.96L409.20,127.96L409.20,128.15L409.70,128.15L409.70,128.13L410.20,128.13L410.20,128.05L410.70,128.05L410.70,127.90L411.20,127.90L411.20,128.15L411.70,128.15L411.70,128.06L412.20,128.06L412.20,128.04L412.70,128.04L412.70,128.02L413.20,128.02L413.20,128.07L413.70,128.07L413.70,128.00L414.20,128.00L414.20,128.10L414.70,128.10L414.70,128.13L415.20,128.13L415.20,127.98L415.70,127.98L415.70,128.10L416.20,128.10L416.20,128.11L416.70,128.11L416.70,128.04L417.20,128.04L417.20,128.09L417.70,128.09L417.70,128.03L418.20,128.03L418.20,128.14L418.70,128.14L418.70,128.18L419.20,128.18L419.20,128.11L419.70,128.11L419.70,127.80L420.20,127.80L420.20,127.22L420.70,127.22L420.70,126.76L421.20,126.76L421.20,124.95L421.70,124.95L421.70,125.50L422.20,125.50L422.20,125.86L422.70,125.86L422.70,127.13L423.20,127.13L423.20,127.78L423.70,127.78L423.70,127.91L424.20,127.91L424.20,128.00L424.70,128.00L424.70,127.24L425.20,127.24L425.20,128.07L425.70,128.07L425.70,126.55L426.20,126.55L426.20,128.15L426.70,128.15L426.70,128.05L427.20,128.05L427.20,128.09L427.70,128.09L427.70,128.17L428.20,128.17L428.20,127.47L428.70,127.47L428.70,126.28L429.20,126.28L429.20,122.90L429.70,122.90L429.70,126.80L430.20,126.80L430.20,127.51L430.70,127.51L430.70,127.79L431.20,127.79L431.20,121.10L431.70,121.10L431.70,127.11L432.20,127.11L432.20,127.02L432.70,127.02L432.70,125.96L433.20,125.96L433.20,128.13L433.70,128.13L433.70,127.92L434.20,127.92L434.20,127.84L434.70,127.84L434.70,127.69L435.20,127.69L435.20,126.94L435.70,126.94L435.70,126.00L436.20,126.00L436.20,122.00L436.70,122.00L436.70,124.57L437.20,124.57L437.20,123.79L437.70,123.79L437.70,123.43L438.20,123.43L438.20,117.20L438.70,117.20L438.70,124.17L439.20,124.17L439.20,122.16L439.70,122.16L439.70,116.80L440.20,116.80L440.20,122.77L440.70,122.77L440.70,117.60L441.20,117.60L441.20,121.25L441.70,121.25L441.70,118.60L442.20,118.60L442.20,124.79L442.70,124.79L442.70,121.50L443.20,121.50L443.20,123.01L443.70,123.01L443.70,124.18L444.20,124.18L444.20,124.21L444.70,124.21L444.70,125.37L445.20,125.37L445.20,126.82L445.70,126.82L445.70,124.44L446.20,124.44L446.20,124.39L446.70,124.39L446.70,126.07L447.20,126.07L447.20,127.32L447.70,127.32L447.70,127.98L448.20,127.98L448.20,128.14L448.70,128.14L448.70,128.02L449.20,128.02L449.20,126.67L449.70,126.67L449.70,127.36L450.20,127.36L450.20,128.09L450.70,128.09L450.70,128.11L451.20,128.11L451.20,128.16L451.70,128.16L451.70,128.11L452.20,128.11L452.20,127.70L452.70,127.70L452.70,128.11L453.20,128.11L453.20,128.18L453.70,128.18L453.70,127.76L454.20,127.76L454.20,128.00L454.70,128.00L454.70,128.08L455.20,128.08L455.20,128.04L455.70,128.04L455.70,127.76L456.20,127.76L456.20,127.05L456.70,127.05L456.70,123.49L457.20,123.49L457.20,114.50L457.70,114.50L457.70,124.94L458.20,124.94L458.20,125.77L458.70,125.77L458.70,127.82L459.20,127.82L459.20,126.66L459.70,126.66L459.70,128.20L460.20,128.20L460.20,128.13L460.70,128.13L460.70,128.07L461.20,128.07L461.20,127.97L461.70,127.97L461.70,128.07L462.20,128.07L462.20,128.19L462.70,128.19L462.70,128.15L463.20,128.15L463.20,127.86L463.70,127.86L463.70,127.95L464.20,127.95L464.20,127.95L464.70,127.95L464.70,128.08L465.20,128.08L465.20,128.10L465.70,128.10L465.70,128.12L466.20,128.12L466.20,128.15L466.70,128.15L466.70,127.88L467.20,127.88L467.20,128.14L467.70,128.14L467.70,128.16L468.20,128.16L468.20,128.09L468.70,128.09L468.70,128.16L469.20,128.16L469.20,128.16L469.70,128.16L469.70,128.13L470.20,128.13L470.20,128.11L470.70,128.11L470.70,128.10L471.20,128.10L471.20,127.91L471.70,127.91L471.70,128.08L472.20,128.08L472.20,128.01L472.70,128.01L472.70,128.18L473.20,128.18L473.20,127.98L473.70,127.98L473.70,128.11L474.20,128.11L474.20,127.13L474.70,127.13L474.70,128.14L475.20,128.14L475.20,128.17L475.70,128.17L475.70,128.15L476.20,128.15L476.20,128.09L476.70,128.09L476.70,128.19L477.20,128.19L477.20,128.15L477.70,128.15L477.70,128.08L478.20,128.08L478.20,127.85L478.70,127.85L478.70,126.95L479.20,126.95L479.20,125.47L479.70,125.47L479.70,116.60L480.20,116.60L480.20,123.77L480.70,123.77L480.70,117.50L481.20,117.50L481.20,126.77L481.70,126.77L481.70,126.12L482.20,126.12L482.20,128.09L482.70,128.09L482.70,128.15L483.20,128.15L483.20,127.86L483.70,127.86L483.70,128.00L484.20,128.00L484.20,128.05L484.70,128.05L484.70,127.45L485.20,127.45L485.20,126.35L485.70,126.35L485.70,119.70L486.20,119.70L486.20,123.89L486.70,123.89L486.70,120.30L487.20,120.30L487.20,126.42L487.70,126.42L487.70,126.21L488.20,126.21L488.20,127.99L488.70,127.99L488.70,128.10L489.20,128.10L489.20,127.90L489.70,127.90L489.70,128.05L490.20,128.05L490.20,128.09L490.70,128.09L490.70,127.69L491.20,127.69L491.20,128.20L491.70,128.20L491.70,128.06L492.20,128.06L492.20,128.14L492.70,128.14L492.70,127.94L493.20,127.94L493.20,128.19L493.70,128.19L493.70,128.10L494.20,128.10L494.20,128.06L494.70,128.06L494.70,128.17L495.20,128.17L495.20,127.97L495.70,127.97L495.70,128.12L496.20,128.12L496.20,128.17L496.70,128.17L496.70,127.92L497.20,127.92L497.20,128.05L497.70,128.05L497.70,127.57L498.20,127.57L498.20,126.76L498.70,126.76L498.70,123.80L499.20,123.80L499.20,126.62L499.70,126.62L499.70,127.62L500.20,127.62L500.20,127.91L500.70,127.91L500.70,128.03L501.20,128.03L501.20,128.17L501.70,128.17L501.70,126.86L502.20,126.86L502.20,128.16L502.70,128.16L502.70,128.08L503.20,128.08L503.20,128.10L503.70,128.10L503.70,128.05L504.20,128.05L504.20,128.06L504.70,128.06L504.70,127.92L505.20,127.92L505.20,128.16L505.70,128.16L505.70,127.89L506.20,127.89L506.20,127.91L506.70,127.91L506.70,128.18L507.20,128.18L507.20,128.14L507.70,128.14L507.70,128.09L508.20,128.09L508.20,128.12L508.70,128.12L508.70,128.03L509.20,128.03L509.20,127.95L509.70,127.95L509.70,128.17L510.20,128.17L510.20,127.95L510.70,127.95L510.70,127.99L511.20,127.99L511.20,127.97L511.70,127.97L511.70,128.01L512.20,128.01L512.20,128.2Z" fill="#3a3ac8"/>
<line x1="192.0" y1="128.2" x2="512.7" y2="128.2" stroke="#7c7ce0" stroke-width="0.9"/>
<text x="192.6" y="119.7" font-size="7.0" fill="#222" font-weight="normal" text-anchor="start" textLength="7.0" lengthAdjust="spacingAndGlyphs" stroke="#222" stroke-width="0.1" >10</text>
<text x="188.6" y="123.7" font-size="6.8" fill="#222" font-weight="normal" text-anchor="end" stroke="#222" stroke-width="0.08" >H3K27Ac</text>
<line x1="192.5" y1="132.5" x2="267" y2="132.5" stroke="#5858d6" stroke-width="0.7"/>
<rect x="193.6" y="131.3" width="0.8" height="2.4" fill="#6a6ad8"/>
<rect x="196.6" y="131.3" width="0.8" height="2.4" fill="#6a6ad8"/>
<rect x="198.6" y="131.3" width="0.8" height="2.4" fill="#6a6ad8"/>
<rect x="200.6" y="131.3" width="0.8" height="2.4" fill="#6a6ad8"/>
<rect x="204.6" y="131.3" width="0.8" height="2.4" fill="#6a6ad8"/>
<rect x="207.6" y="131.3" width="0.8" height="2.4" fill="#6a6ad8"/>
<rect x="210.6" y="131.3" width="0.8" height="2.4" fill="#6a6ad8"/>
<rect x="212.6" y="131.3" width="0.8" height="2.4" fill="#6a6ad8"/>
<rect x="215.6" y="131.3" width="0.8" height="2.4" fill="#6a6ad8"/>
<rect x="219.6" y="131.3" width="0.8" height="2.4" fill="#6a6ad8"/>
<rect x="221.6" y="131.3" width="0.8" height="2.4" fill="#6a6ad8"/>
<rect x="239.6" y="131.3" width="0.8" height="2.4" fill="#6a6ad8"/>
<rect x="243.6" y="131.3" width="0.8" height="2.4" fill="#6a6ad8"/>
<rect x="192.5" y="131.1" width="1.0999999999999943" height="2.8" fill="#4646cc"/>
<rect x="204.5" y="131.1" width="1.5" height="2.8" fill="#4646cc"/>
<rect x="264" y="131.1" width="3.3000000000000114" height="2.8" fill="#4646cc"/>
<path d="M196.3,131.5 L195.5,132.5 L196.3,133.5" stroke="#8080e0" stroke-width="0.4" fill="none"/>
<path d="M200.8,131.5 L200.0,132.5 L200.8,133.5" stroke="#8080e0" stroke-width="0.4" fill="none"/>
<path d="M205.3,131.5 L204.5,132.5 L205.3,133.5" stroke="#8080e0" stroke-width="0.4" fill="none"/>
<path d="M209.8,131.5 L209.0,132.5 L209.8,133.5" stroke="#8080e0" stroke-width="0.4" fill="none"/>
<path d="M214.3,131.5 L213.5,132.5 L214.3,133.5" stroke="#8080e0" stroke-width="0.4" fill="none"/>
<path d="M218.8,131.5 L218.0,132.5 L218.8,133.5" stroke="#8080e0" stroke-width="0.4" fill="none"/>
<path d="M223.3,131.5 L222.5,132.5 L223.3,133.5" stroke="#8080e0" stroke-width="0.4" fill="none"/>
<path d="M227.8,131.5 L227.0,132.5 L227.8,133.5" stroke="#8080e0" stroke-width="0.4" fill="none"/>
<path d="M232.3,131.5 L231.5,132.5 L232.3,133.5" stroke="#8080e0" stroke-width="0.4" fill="none"/>
<path d="M236.8,131.5 L236.0,132.5 L236.8,133.5" stroke="#8080e0" stroke-width="0.4" fill="none"/>
<path d="M241.3,131.5 L240.5,132.5 L241.3,133.5" stroke="#8080e0" stroke-width="0.4" fill="none"/>
<path d="M245.8,131.5 L245.0,132.5 L245.8,133.5" stroke="#8080e0" stroke-width="0.4" fill="none"/>
<path d="M250.3,131.5 L249.5,132.5 L250.3,133.5" stroke="#8080e0" stroke-width="0.4" fill="none"/>
<path d="M254.8,131.5 L254.0,132.5 L254.8,133.5" stroke="#8080e0" stroke-width="0.4" fill="none"/>
<path d="M259.3,131.5 L258.5,132.5 L259.3,133.5" stroke="#8080e0" stroke-width="0.4" fill="none"/>
<path d="M263.8,131.5 L263.0,132.5 L263.8,133.5" stroke="#8080e0" stroke-width="0.4" fill="none"/>
<line x1="365.4" y1="132.5" x2="378.8" y2="132.5" stroke="#5858d6" stroke-width="0.7"/>
<rect x="367.6" y="131.3" width="0.8" height="2.4" fill="#6a6ad8"/>
<rect x="369.6" y="131.3" width="0.8" height="2.4" fill="#6a6ad8"/>
<rect x="372.5" y="131.1" width="6.300000000000011" height="2.8" fill="#4646cc"/>
<path d="M369.2,131.5 L368.4,132.5 L369.2,133.5" stroke="#8080e0" stroke-width="0.4" fill="none"/>
<path d="M373.7,131.5 L372.9,132.5 L373.7,133.5" stroke="#8080e0" stroke-width="0.4" fill="none"/>
<line x1="382" y1="132.5" x2="510" y2="132.5" stroke="#5858d6" stroke-width="0.7"/>
<rect x="390.8" y="131.3" width="0.8" height="2.4" fill="#6a6ad8"/>
<rect x="396.90000000000003" y="131.3" width="0.8" height="2.4" fill="#6a6ad8"/>
<rect x="412.90000000000003" y="131.3" width="0.8" height="2.4" fill="#6a6ad8"/>
<rect x="454.5" y="131.3" width="0.8" height="2.4" fill="#6a6ad8"/>
<rect x="457.6" y="131.3" width="0.8" height="2.4" fill="#6a6ad8"/>
<rect x="463.1" y="131.3" width="0.8" height="2.4" fill="#6a6ad8"/>
<rect x="465.1" y="131.3" width="0.8" height="2.4" fill="#6a6ad8"/>
<rect x="473.20000000000005" y="131.3" width="0.8" height="2.4" fill="#6a6ad8"/>
<rect x="484.6" y="131.3" width="0.8" height="2.4" fill="#6a6ad8"/>
<rect x="487.8" y="131.3" width="0.8" height="2.4" fill="#6a6ad8"/>
<rect x="491.90000000000003" y="131.3" width="0.8" height="2.4" fill="#6a6ad8"/>
<rect x="496.1" y="131.3" width="0.8" height="2.4" fill="#6a6ad8"/>
<rect x="499.20000000000005" y="131.3" width="0.8" height="2.4" fill="#6a6ad8"/>
<rect x="502.3" y="131.3" width="0.8" height="2.4" fill="#6a6ad8"/>
<rect x="408.3" y="131.1" width="1.3999999999999773" height="2.8" fill="#4646cc"/>
<rect x="417.3" y="131.1" width="1.3999999999999773" height="2.8" fill="#4646cc"/>
<rect x="419.2" y="131.1" width="1.400000000000034" height="2.8" fill="#4646cc"/>
<rect x="421.1" y="131.1" width="1.2999999999999545" height="2.8" fill="#4646cc"/>
<rect x="422.8" y="131.1" width="1.0" height="2.8" fill="#4646cc"/>
<rect x="484.6" y="131.1" width="1.0" height="2.8" fill="#4646cc"/>
<path d="M385.8,131.5 L385.0,132.5 L385.8,133.5" stroke="#8080e0" stroke-width="0.4" fill="none"/>
<path d="M390.3,131.5 L389.5,132.5 L390.3,133.5" stroke="#8080e0" stroke-width="0.4" fill="none"/>
<path d="M394.8,131.5 L394.0,132.5 L394.8,133.5" stroke="#8080e0" stroke-width="0.4" fill="none"/>
<path d="M399.3,131.5 L398.5,132.5 L399.3,133.5" stroke="#8080e0" stroke-width="0.4" fill="none"/>
<path d="M403.8,131.5 L403.0,132.5 L403.8,133.5" stroke="#8080e0" stroke-width="0.4" fill="none"/>
<path d="M408.3,131.5 L407.5,132.5 L408.3,133.5" stroke="#8080e0" stroke-width="0.4" fill="none"/>
<path d="M412.8,131.5 L412.0,132.5 L412.8,133.5" stroke="#8080e0" stroke-width="0.4" fill="none"/>
<path d="M417.3,131.5 L416.5,132.5 L417.3,133.5" stroke="#8080e0" stroke-width="0.4" fill="none"/>
<path d="M421.8,131.5 L421.0,132.5 L421.8,133.5" stroke="#8080e0" stroke-width="0.4" fill="none"/>
<path d="M426.3,131.5 L425.5,132.5 L426.3,133.5" stroke="#8080e0" stroke-width="0.4" fill="none"/>
<path d="M430.8,131.5 L430.0,132.5 L430.8,133.5" stroke="#8080e0" stroke-width="0.4" fill="none"/>
<path d="M435.3,131.5 L434.5,132.5 L435.3,133.5" stroke="#8080e0" stroke-width="0.4" fill="none"/>
<path d="M439.8,131.5 L439.0,132.5 L439.8,133.5" stroke="#8080e0" stroke-width="0.4" fill="none"/>
<path d="M444.3,131.5 L443.5,132.5 L444.3,133.5" stroke="#8080e0" stroke-width="0.4" fill="none"/>
<path d="M448.8,131.5 L448.0,132.5 L448.8,133.5" stroke="#8080e0" stroke-width="0.4" fill="none"/>
<path d="M453.3,131.5 L452.5,132.5 L453.3,133.5" stroke="#8080e0" stroke-width="0.4" fill="none"/>
<path d="M457.8,131.5 L457.0,132.5 L457.8,133.5" stroke="#8080e0" stroke-width="0.4" fill="none"/>
<path d="M462.3,131.5 L461.5,132.5 L462.3,133.5" stroke="#8080e0" stroke-width="0.4" fill="none"/>
<path d="M466.8,131.5 L466.0,132.5 L466.8,133.5" stroke="#8080e0" stroke-width="0.4" fill="none"/>
<path d="M471.3,131.5 L470.5,132.5 L471.3,133.5" stroke="#8080e0" stroke-width="0.4" fill="none"/>
<path d="M475.8,131.5 L475.0,132.5 L475.8,133.5" stroke="#8080e0" stroke-width="0.4" fill="none"/>
<path d="M480.3,131.5 L479.5,132.5 L480.3,133.5" stroke="#8080e0" stroke-width="0.4" fill="none"/>
<path d="M484.8,131.5 L484.0,132.5 L484.8,133.5" stroke="#8080e0" stroke-width="0.4" fill="none"/>
<path d="M489.3,131.5 L488.5,132.5 L489.3,133.5" stroke="#8080e0" stroke-width="0.4" fill="none"/>
<path d="M493.8,131.5 L493.0,132.5 L493.8,133.5" stroke="#8080e0" stroke-width="0.4" fill="none"/>
<path d="M498.3,131.5 L497.5,132.5 L498.3,133.5" stroke="#8080e0" stroke-width="0.4" fill="none"/>
<path d="M502.8,131.5 L502.0,132.5 L502.8,133.5" stroke="#8080e0" stroke-width="0.4" fill="none"/>
<path d="M507.3,131.5 L506.5,132.5 L507.3,133.5" stroke="#8080e0" stroke-width="0.4" fill="none"/>
<rect x="191.5" y="31.6" width="321.20000000000005" height="111.5" fill="none" stroke="#3a3a3a" stroke-width="1.3"/>
<rect x="271" y="31.6" width="2.4" height="111.5" fill="#4a4a4a"/>
<rect x="379.1" y="31.6" width="2.1" height="111.5" fill="#111"/>
<text x="224" y="141.4" font-size="6.6" fill="#222" font-weight="normal" text-anchor="start" textLength="15" lengthAdjust="spacingAndGlyphs" stroke="#222" stroke-width="0.15" >STK4</text>
<text x="352.3" y="141.3" font-size="6.6" fill="#222" font-weight="normal" text-anchor="start" textLength="25.6" lengthAdjust="spacingAndGlyphs" stroke="#222" stroke-width="0.15" >MAP3K1</text>
<text x="414.5" y="141.4" font-size="6.6" fill="#222" font-weight="normal" text-anchor="start" textLength="20.7" lengthAdjust="spacingAndGlyphs" stroke="#222" stroke-width="0.15" >CPED1</text>
<text x="452.7" y="141.4" font-size="6.6" fill="#222" font-weight="normal" text-anchor="start" textLength="22.1" lengthAdjust="spacingAndGlyphs" stroke="#222" stroke-width="0.15" >WNT16</text>
<path d="M33.30,283.15 L33.48,283.14 L33.67,283.10 L33.85,283.12 L34.04,283.13 L34.22,283.16 L34.41,283.15 L34.59,283.11 L34.78,283.16 L34.96,283.21 L35.15,283.29 L35.33,283.25 L35.52,283.23 L35.70,283.18 L35.88,283.17 L36.07,283.12 L36.25,283.14 L36.44,283.15 L36.62,283.20 L36.81,283.20 L36.99,283.17 L37.18,283.16 L37.36,283.17 L37.55,283.21 L37.73,283.20 L37.91,283.18 L38.10,283.17 L38.28,283.18 L38.47,283.16 L38.65,283.07 L38.84,283.02 L39.02,283.05 L39.21,283.12 L39.39,283.21 L39.58,283.24 L39.76,283.27 L39.95,283.19 L40.13,283.14 L40.31,283.13 L40.50,283.17 L40.68,283.18 L40.87,283.15 L41.05,283.09 L41.24,283.13 L41.42,283.12 L41.61,283.15 L41.79,283.08 L41.98,283.12 L42.16,283.12 L42.35,283.17 L42.53,283.12 L42.71,283.16 L42.90,283.11 L43.08,283.00 L43.27,282.93 L43.45,282.95 L43.64,283.08 L43.82,283.08 L44.01,283.04 L44.19,283.02 L44.38,283.01 L44.56,283.09 L44.75,283.09 L44.93,283.11 L45.11,283.09 L45.30,283.03 L45.48,282.99 L45.67,282.95 L45.85,282.95 L46.04,282.94 L46.22,282.93 L46.41,282.90 L46.59,282.90 L46.78,282.94 L46.96,282.91 L47.14,282.91 L47.33,282.87 L47.51,282.91 L47.70,282.93 L47.88,282.92 L48.07,282.97 L48.25,282.98 L48.44,282.99 L48.62,282.93 L48.81,282.90 L48.99,282.87 L49.18,282.90 L49.36,282.88 L49.54,282.95 L49.73,282.97 L49.91,282.97 L50.10,282.91 L50.28,282.86 L50.47,282.84 L50.65,282.80 L50.84,282.85 L51.02,282.90 L51.21,282.95 L51.39,282.89 L51.58,282.85 L51.76,282.82 L51.94,282.81 L52.13,282.84 L52.31,282.77 L52.50,282.78 L52.68,282.76 L52.87,282.79 L53.05,282.76 L53.24,282.74 L53.42,282.75 L53.61,282.78 L53.79,282.78 L53.98,282.75 L54.16,282.76 L54.34,282.78 L54.53,282.80 L54.71,282.77 L54.90,282.76 L55.08,282.78 L55.27,282.80 L55.45,282.79 L55.64,282.74 L55.82,282.74 L56.01,282.73 L56.19,282.69 L56.38,282.65 L56.56,282.66 L56.74,282.67 L56.93,282.69 L57.11,282.68 L57.30,282.69 L57.48,282.71 L57.67,282.68 L57.85,282.67 L58.04,282.60 L58.22,282.61 L58.41,282.63 L58.59,282.64 L58.77,282.58 L58.96,282.61 L59.14,282.57 L59.33,282.59 L59.51,282.49 L59.70,282.53 L59.88,282.49 L60.07,282.55 L60.25,282.49 L60.44,282.52 L60.62,282.56 L60.81,282.55 L60.99,282.52 L61.17,282.41 L61.36,282.41 L61.54,282.45 L61.73,282.44 L61.91,282.41 L62.10,282.34 L62.28,282.30 L62.47,282.28 L62.65,282.30 L62.84,282.35 L63.02,282.39 L63.21,282.37 L63.39,282.31 L63.57,282.20 L63.76,282.19 L63.94,282.14 L64.13,282.17 L64.31,282.16 L64.50,282.21 L64.68,282.19 L64.87,282.18 L65.05,282.17 L65.24,282.15 L65.42,282.12 L65.60,282.08 L65.79,282.08 L65.97,282.06 L66.16,282.07 L66.34,282.01 L66.53,282.01 L66.71,282.02 L66.90,282.05 L67.08,282.01 L67.27,281.95 L67.45,281.92 L67.64,281.95 L67.82,281.91 L68.00,281.85 L68.19,281.83 L68.37,281.76 L68.56,281.78 L68.74,281.76 L68.93,281.80 L69.11,281.76 L69.30,281.68 L69.48,281.58 L69.67,281.57 L69.85,281.59 L70.04,281.62 L70.22,281.59 L70.40,281.53 L70.59,281.55 L70.77,281.49 L70.96,281.56 L71.14,281.47 L71.33,281.45 L71.51,281.27 L71.70,281.28 L71.88,281.24 L72.07,281.26 L72.25,281.22 L72.44,281.19 L72.62,281.19 L72.80,281.14 L72.99,281.14 L73.17,281.06 L73.36,280.99 L73.54,280.93 L73.73,280.83 L73.91,280.75 L74.10,280.56 L74.28,280.45 L74.47,280.30 L74.65,280.24 L74.84,280.13 L75.02,279.95 L75.20,279.63 L75.39,279.24 L75.57,278.66 L75.76,278.19 L75.94,277.61 L76.13,276.86 L76.31,275.57 L76.50,274.07 L76.68,272.52 L76.87,270.81 L77.05,269.22 L77.23,267.10 L77.42,264.72 L77.60,261.84 L77.79,258.61 L77.97,254.90 L78.16,251.41 L78.34,248.11 L78.53,244.93 L78.71,241.87 L78.90,239.67 L79.08,237.73 L79.27,236.30 L79.45,235.65 L79.63,236.17 L79.82,237.53 L80.00,239.39 L80.19,241.62 L80.37,244.54 L80.56,247.57 L80.74,250.92 L80.93,254.80 L81.11,258.73 L81.30,262.20 L81.48,264.84 L81.67,267.23 L81.85,269.11 L82.03,270.83 L82.22,272.51 L82.40,274.15 L82.59,275.62 L82.77,276.74 L82.96,277.58 L83.14,278.18 L83.33,278.77 L83.51,279.23 L83.70,279.54 L83.88,279.76 L84.06,279.96 L84.25,280.14 L84.43,280.26 L84.62,280.26 L84.80,280.31 L84.99,280.47 L85.17,280.68 L85.36,280.80 L85.54,280.88 L85.73,280.96 L85.91,281.00 L86.10,280.99 L86.28,281.04 L86.46,281.16 L86.65,281.30 L86.83,281.36 L87.02,281.34 L87.20,281.41 L87.39,281.38 L87.57,281.43 L87.76,281.39 L87.94,281.49 L88.13,281.53 L88.31,281.58 L88.50,281.53 L88.68,281.55 L88.86,281.60 L89.05,281.62 L89.23,281.61 L89.42,281.58 L89.60,281.66 L89.79,281.71 L89.97,281.80 L90.16,281.80 L90.34,281.82 L90.53,281.85 L90.71,281.78 L90.90,281.78 L91.08,281.78 L91.26,281.90 L91.45,281.96 L91.63,281.96 L91.82,281.99 L92.00,282.01 L92.19,282.07 L92.37,282.07 L92.56,282.03 L92.74,282.00 L92.93,282.01 L93.11,282.03 L93.30,282.03 L93.48,282.02 L93.66,282.10 L93.85,282.09 L94.03,282.14 L94.22,282.11 L94.40,282.14 L94.59,282.10 L94.77,282.11 L94.96,282.14 L95.14,282.24 L95.33,282.30 L95.51,282.33 L95.69,282.27 L95.88,282.29 L96.06,282.35 L96.25,282.40 L96.43,282.38 L96.62,282.35 L96.80,282.36 L96.99,282.44 L97.17,282.42 L97.36,282.46 L97.54,282.42 L97.73,282.43 L97.91,282.46 L98.09,282.46 L98.28,282.50 L98.46,282.49 L98.65,282.48 L98.83,282.50 L99.02,282.52 L99.20,282.52 L99.39,282.47 L99.57,282.50 L99.76,282.58 L99.94,282.61 L100.13,282.62 L100.31,282.61 L100.49,282.68 L100.68,282.65 L100.86,282.71 L101.05,282.67 L101.23,282.68 L101.42,282.66 L101.60,282.72 L101.79,282.78 L101.97,282.83 L102.16,282.74 L102.34,282.76 L102.53,282.75 L102.71,282.80 L102.89,282.75 L103.08,282.68 L103.26,282.66 L103.45,282.66 L103.63,282.69 L103.82,282.75 L104.00,282.78 L104.19,282.76 L104.37,282.73 L104.56,282.71 L104.74,282.79 L104.92,282.84 L105.11,282.88 L105.29,282.85 L105.48,282.87 L105.66,282.83 L105.85,282.79 L106.03,282.71 L106.22,282.76 L106.40,282.79 L106.59,282.85 L106.77,282.84 L106.96,282.87 L107.14,282.85 L107.32,282.92 L107.51,282.91 L107.69,283.00 L107.88,282.92 L108.06,282.96 L108.25,282.94 L108.43,282.96 L108.62,282.96 L108.80,282.92 L108.99,282.94 L109.17,282.86 L109.36,282.90 L109.54,282.92 L109.72,282.97 L109.91,282.93 L110.09,282.90 L110.28,282.93 L110.46,282.91 L110.65,282.92 L110.83,282.88 L111.02,282.95 L111.20,282.95 L111.39,283.00 L111.57,282.96 L111.75,283.00 L111.94,282.97 L112.12,283.03 L112.31,282.98 L112.49,282.99 L112.68,283.01 L112.86,283.02 L113.05,283.10 L113.23,283.04 L113.42,283.10 L113.60,283.05 L113.79,283.08 L113.97,283.08 L114.15,283.14 L114.34,283.12 L114.52,283.09 L114.71,283.01 L114.89,283.03 L115.08,282.94 L115.26,282.97 L115.45,282.92 L115.63,282.99 L115.82,283.00 L116.00,283.04 L116.19,283.07 L116.37,283.09 L116.55,283.07 L116.74,283.05 L116.92,283.07 L117.11,283.11 L117.29,283.13 L117.48,283.09 L117.66,283.08 L117.85,283.02 L118.03,282.97 L118.22,282.98 L118.40,283.00 L118.59,283.04 L118.77,283.06 L118.95,283.08 L119.14,283.04 L119.32,283.05 L119.51,283.00 L119.69,283.07 L119.88,283.04 L120.06,283.17 L120.25,283.16 L120.43,283.22 L120.62,283.09 L120.80,283.06 L120.98,283.06 L121.17,283.11 L121.35,283.13 L121.54,283.10 L121.72,283.10 L121.91,283.10 L122.09,283.14 L122.28,283.10 L122.46,283.12 L122.65,283.16 L122.83,283.24 L123.02,283.25 L123.20,283.11 L123.38,283.08 L123.57,283.12 L123.75,283.15 L123.94,283.14 L124.12,283.10 L124.31,283.11 L124.49,283.13 L124.68,283.13 L124.86,283.13 L125.05,283.11 L125.23,283.08 L125.42,283.12 L125.60,283.13" fill="none" stroke="#6b4a2a" stroke-width="1.3" stroke-linejoin="round"/>
<path d="M33.30,284.05 L33.48,284.05 L33.67,284.05 L33.85,284.05 L34.04,284.05 L34.22,284.05 L34.41,284.05 L34.59,284.05 L34.78,284.05 L34.96,284.05 L35.15,284.05 L35.33,284.05 L35.52,284.05 L35.70,284.05 L35.88,284.05 L36.07,284.05 L36.25,284.05 L36.44,284.04 L36.62,284.04 L36.81,284.04 L36.99,284.04 L37.18,284.04 L37.36,284.04 L37.55,284.04 L37.73,284.04 L37.91,284.04 L38.10,284.04 L38.28,284.04 L38.47,284.03 L38.65,284.03 L38.84,284.03 L39.02,284.03 L39.21,284.03 L39.39,284.03 L39.58,284.03 L39.76,284.03 L39.95,284.02 L40.13,284.02 L40.31,284.02 L40.50,284.02 L40.68,284.02 L40.87,284.02 L41.05,284.01 L41.24,284.01 L41.42,284.01 L41.61,284.01 L41.79,284.01 L41.98,284.01 L42.16,284.00 L42.35,284.00 L42.53,284.00 L42.71,284.00 L42.90,284.00 L43.08,283.99 L43.27,283.99 L43.45,283.99 L43.64,283.99 L43.82,283.99 L44.01,283.98 L44.19,283.98 L44.38,283.98 L44.56,283.98 L44.75,283.97 L44.93,283.97 L45.11,283.97 L45.30,283.97 L45.48,283.96 L45.67,283.96 L45.85,283.96 L46.04,283.96 L46.22,283.95 L46.41,283.95 L46.59,283.95 L46.78,283.95 L46.96,283.94 L47.14,283.94 L47.33,283.94 L47.51,283.94 L47.70,283.93 L47.88,283.93 L48.07,283.93 L48.25,283.93 L48.44,283.92 L48.62,283.92 L48.81,283.92 L48.99,283.91 L49.18,283.91 L49.36,283.91 L49.54,283.91 L49.73,283.90 L49.91,283.90 L50.10,283.90 L50.28,283.89 L50.47,283.89 L50.65,283.89 L50.84,283.88 L51.02,283.88 L51.21,283.88 L51.39,283.87 L51.58,283.87 L51.76,283.87 L51.94,283.86 L52.13,283.86 L52.31,283.86 L52.50,283.85 L52.68,283.85 L52.87,283.85 L53.05,283.84 L53.24,283.84 L53.42,283.84 L53.61,283.83 L53.79,283.83 L53.98,283.83 L54.16,283.82 L54.34,283.82 L54.53,283.82 L54.71,283.81 L54.90,283.81 L55.08,283.81 L55.27,283.80 L55.45,283.80 L55.64,283.80 L55.82,283.79 L56.01,283.79 L56.19,283.79 L56.38,283.78 L56.56,283.78 L56.74,283.78 L56.93,283.77 L57.11,283.77 L57.30,283.76 L57.48,283.76 L57.67,283.76 L57.85,283.75 L58.04,283.75 L58.22,283.74 L58.41,283.74 L58.59,283.73 L58.77,283.73 L58.96,283.72 L59.14,283.72 L59.33,283.71 L59.51,283.71 L59.70,283.70 L59.88,283.70 L60.07,283.69 L60.25,283.69 L60.44,283.68 L60.62,283.68 L60.81,283.67 L60.99,283.66 L61.17,283.66 L61.36,283.65 L61.54,283.64 L61.73,283.64 L61.91,283.63 L62.10,283.62 L62.28,283.62 L62.47,283.61 L62.65,283.60 L62.84,283.60 L63.02,283.59 L63.21,283.58 L63.39,283.57 L63.57,283.56 L63.76,283.56 L63.94,283.55 L64.13,283.54 L64.31,283.53 L64.50,283.52 L64.68,283.51 L64.87,283.50 L65.05,283.49 L65.24,283.49 L65.42,283.48 L65.60,283.47 L65.79,283.46 L65.97,283.45 L66.16,283.44 L66.34,283.42 L66.53,283.41 L66.71,283.40 L66.90,283.39 L67.08,283.38 L67.27,283.37 L67.45,283.36 L67.64,283.35 L67.82,283.33 L68.00,283.32 L68.19,283.31 L68.37,283.30 L68.56,283.28 L68.74,283.27 L68.93,283.26 L69.11,283.24 L69.30,283.23 L69.48,283.21 L69.67,283.20 L69.85,283.18 L70.04,283.17 L70.22,283.16 L70.40,283.14 L70.59,283.12 L70.77,283.10 L70.96,283.08 L71.14,283.06 L71.33,283.04 L71.51,283.01 L71.70,282.99 L71.88,282.96 L72.07,282.93 L72.25,282.90 L72.44,282.86 L72.62,282.83 L72.80,282.79 L72.99,282.75 L73.17,282.71 L73.36,282.67 L73.54,282.62 L73.73,282.58 L73.91,282.53 L74.10,282.48 L74.28,282.43 L74.47,282.37 L74.65,282.32 L74.84,282.26 L75.02,282.19 L75.20,282.11 L75.39,282.01 L75.57,281.90 L75.76,281.78 L75.94,281.65 L76.13,281.52 L76.31,281.38 L76.50,281.24 L76.68,281.09 L76.87,280.95 L77.05,280.81 L77.23,280.66 L77.42,280.51 L77.60,280.35 L77.79,280.18 L77.97,280.02 L78.16,279.86 L78.34,279.71 L78.53,279.57 L78.71,279.43 L78.90,279.29 L79.08,279.16 L79.27,279.07 L79.45,279.03 L79.63,279.07 L79.82,279.16 L80.00,279.29 L80.19,279.43 L80.37,279.57 L80.56,279.71 L80.74,279.86 L80.93,280.02 L81.11,280.18 L81.30,280.35 L81.48,280.51 L81.67,280.66 L81.85,280.81 L82.03,280.95 L82.22,281.09 L82.40,281.24 L82.59,281.38 L82.77,281.52 L82.96,281.65 L83.14,281.78 L83.33,281.90 L83.51,282.01 L83.70,282.11 L83.88,282.19 L84.06,282.26 L84.25,282.32 L84.43,282.37 L84.62,282.43 L84.80,282.48 L84.99,282.53 L85.17,282.58 L85.36,282.62 L85.54,282.67 L85.73,282.71 L85.91,282.75 L86.10,282.79 L86.28,282.83 L86.46,282.86 L86.65,282.90 L86.83,282.93 L87.02,282.96 L87.20,282.99 L87.39,283.01 L87.57,283.04 L87.76,283.06 L87.94,283.08 L88.13,283.10 L88.31,283.12 L88.50,283.14 L88.68,283.16 L88.86,283.17 L89.05,283.18 L89.23,283.20 L89.42,283.21 L89.60,283.23 L89.79,283.24 L89.97,283.26 L90.16,283.27 L90.34,283.28 L90.53,283.30 L90.71,283.31 L90.90,283.32 L91.08,283.33 L91.26,283.35 L91.45,283.36 L91.63,283.37 L91.82,283.38 L92.00,283.39 L92.19,283.40 L92.37,283.41 L92.56,283.42 L92.74,283.44 L92.93,283.45 L93.11,283.46 L93.30,283.47 L93.48,283.48 L93.66,283.49 L93.85,283.49 L94.03,283.50 L94.22,283.51 L94.40,283.52 L94.59,283.53 L94.77,283.54 L94.96,283.55 L95.14,283.56 L95.33,283.56 L95.51,283.57 L95.69,283.58 L95.88,283.59 L96.06,283.60 L96.25,283.60 L96.43,283.61 L96.62,283.62 L96.80,283.62 L96.99,283.63 L97.17,283.64 L97.36,283.64 L97.54,283.65 L97.73,283.66 L97.91,283.66 L98.09,283.67 L98.28,283.68 L98.46,283.68 L98.65,283.69 L98.83,283.69 L99.02,283.70 L99.20,283.70 L99.39,283.71 L99.57,283.71 L99.76,283.72 L99.94,283.72 L100.13,283.73 L100.31,283.73 L100.49,283.74 L100.68,283.74 L100.86,283.75 L101.05,283.75 L101.23,283.76 L101.42,283.76 L101.60,283.76 L101.79,283.77 L101.97,283.77 L102.16,283.78 L102.34,283.78 L102.53,283.78 L102.71,283.79 L102.89,283.79 L103.08,283.79 L103.26,283.80 L103.45,283.80 L103.63,283.80 L103.82,283.81 L104.00,283.81 L104.19,283.81 L104.37,283.82 L104.56,283.82 L104.74,283.82 L104.92,283.83 L105.11,283.83 L105.29,283.83 L105.48,283.84 L105.66,283.84 L105.85,283.84 L106.03,283.85 L106.22,283.85 L106.40,283.85 L106.59,283.86 L106.77,283.86 L106.96,283.86 L107.14,283.87 L107.32,283.87 L107.51,283.87 L107.69,283.88 L107.88,283.88 L108.06,283.88 L108.25,283.89 L108.43,283.89 L108.62,283.89 L108.80,283.90 L108.99,283.90 L109.17,283.90 L109.36,283.91 L109.54,283.91 L109.72,283.91 L109.91,283.91 L110.09,283.92 L110.28,283.92 L110.46,283.92 L110.65,283.93 L110.83,283.93 L111.02,283.93 L111.20,283.93 L111.39,283.94 L111.57,283.94 L111.75,283.94 L111.94,283.94 L112.12,283.95 L112.31,283.95 L112.49,283.95 L112.68,283.95 L112.86,283.96 L113.05,283.96 L113.23,283.96 L113.42,283.96 L113.60,283.97 L113.79,283.97 L113.97,283.97 L114.15,283.97 L114.34,283.98 L114.52,283.98 L114.71,283.98 L114.89,283.98 L115.08,283.99 L115.26,283.99 L115.45,283.99 L115.63,283.99 L115.82,283.99 L116.00,284.00 L116.19,284.00 L116.37,284.00 L116.55,284.00 L116.74,284.00 L116.92,284.01 L117.11,284.01 L117.29,284.01 L117.48,284.01 L117.66,284.01 L117.85,284.01 L118.03,284.02 L118.22,284.02 L118.40,284.02 L118.59,284.02 L118.77,284.02 L118.95,284.02 L119.14,284.03 L119.32,284.03 L119.51,284.03 L119.69,284.03 L119.88,284.03 L120.06,284.03 L120.25,284.03 L120.43,284.03 L120.62,284.04 L120.80,284.04 L120.98,284.04 L121.17,284.04 L121.35,284.04 L121.54,284.04 L121.72,284.04 L121.91,284.04 L122.09,284.04 L122.28,284.04 L122.46,284.04 L122.65,284.05 L122.83,284.05 L123.02,284.05 L123.20,284.05 L123.38,284.05 L123.57,284.05 L123.75,284.05 L123.94,284.05 L124.12,284.05 L124.31,284.05 L124.49,284.05 L124.68,284.05 L124.86,284.05 L125.05,284.05 L125.23,284.05 L125.42,284.05 L125.60,284.05" fill="none" stroke="#62b046" stroke-width="1.3" stroke-linejoin="round"/>
<path d="M33.3,288.8 L33.3,199.2 L125.6,199.2 L125.6,288.8 Z" fill="none" stroke="#1a1a1a" stroke-width="1.3"/>
<line x1="30.299999999999997" y1="288.8" x2="33.3" y2="288.8" stroke="#1a1a1a" stroke-width="1.1"/>
<text x="27.299999999999997" y="291.1" font-size="6.6" fill="#2a2a2a" font-weight="normal" text-anchor="end" stroke="#2a2a2a" stroke-width="0.2" >0</text>
<line x1="30.299999999999997" y1="244.0" x2="33.3" y2="244.0" stroke="#1a1a1a" stroke-width="1.1"/>
<text x="27.299999999999997" y="246.3" font-size="6.6" fill="#2a2a2a" font-weight="normal" text-anchor="end" stroke="#2a2a2a" stroke-width="0.2" >5</text>
<line x1="30.299999999999997" y1="199.2" x2="33.3" y2="199.2" stroke="#1a1a1a" stroke-width="1.1"/>
<text x="27.299999999999997" y="200.7" font-size="6.6" fill="#2a2a2a" font-weight="normal" text-anchor="end" stroke="#2a2a2a" stroke-width="0.2" >10</text>
<line x1="33.3" y1="288.8" x2="33.3" y2="291.40000000000003" stroke="#1a1a1a" stroke-width="1.1"/>
<text x="33.3" y="300.4" font-size="6.6" fill="#2a2a2a" font-weight="normal" text-anchor="middle" stroke="#2a2a2a" stroke-width="0.2" >-5</text>
<line x1="56.375" y1="288.8" x2="56.375" y2="291.40000000000003" stroke="#1a1a1a" stroke-width="1.1"/>
<text x="56.375" y="300.4" font-size="6.6" fill="#2a2a2a" font-weight="normal" text-anchor="middle" stroke="#2a2a2a" stroke-width="0.2" >-2.5</text>
<line x1="79.45" y1="288.8" x2="79.45" y2="291.40000000000003" stroke="#1a1a1a" stroke-width="1.1"/>
<text x="79.45" y="300.4" font-size="6.6" fill="#2a2a2a" font-weight="normal" text-anchor="middle" stroke="#2a2a2a" stroke-width="0.2" >0</text>
<line x1="102.525" y1="288.8" x2="102.525" y2="291.40000000000003" stroke="#1a1a1a" stroke-width="1.1"/>
<text x="102.525" y="300.4" font-size="6.6" fill="#2a2a2a" font-weight="normal" text-anchor="middle" stroke="#2a2a2a" stroke-width="0.2" >2.5</text>
<line x1="125.60000000000001" y1="288.8" x2="125.60000000000001" y2="291.40000000000003" stroke="#1a1a1a" stroke-width="1.1"/>
<text x="125.60000000000001" y="300.4" font-size="6.6" fill="#2a2a2a" font-weight="normal" text-anchor="middle" stroke="#2a2a2a" stroke-width="0.2" >5</text>
<text x="79.44999999999999" y="193.5" font-size="9" fill="#111" font-weight="normal" text-anchor="middle" textLength="25.4" lengthAdjust="spacingAndGlyphs" stroke="#111" stroke-width="0.2" >EP1-hf</text>
<line x1="58.099999999999994" y1="204.7" x2="72.39999999999999" y2="204.7" stroke="#6b4a2a" stroke-width="1.5"/>
<line x1="58.099999999999994" y1="213.6" x2="72.39999999999999" y2="213.6" stroke="#62b046" stroke-width="1.3"/>
<text x="75.6" y="206.6" font-size="5.6" fill="#222" font-weight="normal" text-anchor="start" textLength="41.5" lengthAdjust="spacingAndGlyphs" stroke="#222" stroke-width="0.12" >EP1 co-occupied</text>
<text x="75.6" y="215.6" font-size="5.6" fill="#222" font-weight="normal" text-anchor="start" textLength="29.3" lengthAdjust="spacingAndGlyphs" stroke="#222" stroke-width="0.12" >RUNX1 only</text>
<path d="M150.20,284.83 L150.40,284.74 L150.60,284.86 L150.80,284.86 L151.01,284.93 L151.21,284.83 L151.41,284.85 L151.61,284.80 L151.81,284.82 L152.01,284.85 L152.22,284.83 L152.42,284.74 L152.62,284.69 L152.82,284.73 L153.02,284.78 L153.22,284.81 L153.43,284.86 L153.63,284.84 L153.83,284.85 L154.03,284.92 L154.23,284.94 L154.43,284.90 L154.64,284.83 L154.84,284.79 L155.04,284.79 L155.24,284.73 L155.44,284.76 L155.64,284.78 L155.84,284.80 L156.05,284.76 L156.25,284.77 L156.45,284.84 L156.65,284.81 L156.85,284.81 L157.05,284.75 L157.26,284.84 L157.46,284.80 L157.66,284.75 L157.86,284.64 L158.06,284.71 L158.26,284.85 L158.47,285.09 L158.67,284.99 L158.87,284.85 L159.07,284.67 L159.27,284.71 L159.47,284.74 L159.68,284.80 L159.88,284.75 L160.08,284.72 L160.28,284.61 L160.48,284.60 L160.68,284.69 L160.88,284.76 L161.09,284.84 L161.29,284.72 L161.49,284.64 L161.69,284.60 L161.89,284.69 L162.09,284.73 L162.30,284.76 L162.50,284.73 L162.70,284.71 L162.90,284.65 L163.10,284.67 L163.30,284.82 L163.51,284.84 L163.71,284.91 L163.91,284.87 L164.11,284.75 L164.31,284.70 L164.51,284.62 L164.72,284.74 L164.92,284.76 L165.12,284.66 L165.32,284.73 L165.52,284.67 L165.72,284.77 L165.92,284.61 L166.13,284.59 L166.33,284.55 L166.53,284.69 L166.73,284.68 L166.93,284.64 L167.13,284.53 L167.34,284.57 L167.54,284.59 L167.74,284.65 L167.94,284.62 L168.14,284.63 L168.34,284.60 L168.55,284.66 L168.75,284.68 L168.95,284.71 L169.15,284.72 L169.35,284.65 L169.55,284.61 L169.76,284.57 L169.96,284.64 L170.16,284.61 L170.36,284.59 L170.56,284.60 L170.76,284.60 L170.96,284.57 L171.17,284.58 L171.37,284.64 L171.57,284.58 L171.77,284.54 L171.97,284.42 L172.17,284.45 L172.38,284.44 L172.58,284.51 L172.78,284.45 L172.98,284.47 L173.18,284.48 L173.38,284.59 L173.59,284.56 L173.79,284.59 L173.99,284.53 L174.19,284.59 L174.39,284.51 L174.59,284.49 L174.80,284.41 L175.00,284.46 L175.20,284.41 L175.40,284.31 L175.60,284.28 L175.80,284.38 L176.00,284.45 L176.21,284.45 L176.41,284.39 L176.61,284.39 L176.81,284.44 L177.01,284.41 L177.21,284.49 L177.42,284.47 L177.62,284.53 L177.82,284.39 L178.02,284.35 L178.22,284.30 L178.42,284.42 L178.63,284.35 L178.83,284.35 L179.03,284.24 L179.23,284.25 L179.43,284.26 L179.63,284.41 L179.84,284.40 L180.04,284.35 L180.24,284.23 L180.44,284.23 L180.64,284.24 L180.84,284.19 L181.04,284.24 L181.25,284.27 L181.45,284.28 L181.65,284.21 L181.85,284.25 L182.05,284.37 L182.25,284.35 L182.46,284.26 L182.66,284.06 L182.86,284.04 L183.06,284.11 L183.26,284.17 L183.46,284.19 L183.67,284.17 L183.87,284.25 L184.07,284.33 L184.27,284.32 L184.47,284.26 L184.67,284.15 L184.88,284.10 L185.08,284.05 L185.28,283.94 L185.48,283.93 L185.68,283.86 L185.88,283.99 L186.08,284.01 L186.29,284.10 L186.49,284.14 L186.69,284.00 L186.89,283.94 L187.09,283.79 L187.29,283.77 L187.50,283.75 L187.70,283.68 L187.90,283.89 L188.10,283.83 L188.30,283.88 L188.50,283.77 L188.71,283.76 L188.91,283.76 L189.11,283.75 L189.31,283.90 L189.51,283.79 L189.71,283.87 L189.92,283.74 L190.12,283.74 L190.32,283.54 L190.52,283.56 L190.72,283.64 L190.92,283.69 L191.12,283.61 L191.33,283.58 L191.53,283.59 L191.73,283.66 L191.93,283.56 L192.13,283.52 L192.33,283.47 L192.54,283.36 L192.74,283.29 L192.94,283.25 L193.14,283.39 L193.34,283.25 L193.54,283.16 L193.75,283.05 L193.95,283.16 L194.15,283.09 L194.35,283.00 L194.55,282.78 L194.75,282.56 L194.96,282.40 L195.16,282.42 L195.36,282.42 L195.56,282.28 L195.76,281.85 L195.96,281.43 L196.16,280.95 L196.37,280.46 L196.57,279.84 L196.77,278.90 L196.97,277.81 L197.17,276.57 L197.37,275.17 L197.58,273.34 L197.78,271.28 L197.98,269.24 L198.18,266.78 L198.38,264.15 L198.58,261.01 L198.79,257.44 L198.99,253.10 L199.19,248.71 L199.39,244.90 L199.59,240.39 L199.79,237.40 L200.00,234.27 L200.20,231.78 L200.40,229.07 L200.60,227.93 L200.80,229.01 L201.00,231.61 L201.20,234.43 L201.41,237.03 L201.61,240.63 L201.81,244.64 L202.01,248.86 L202.21,252.82 L202.41,257.40 L202.62,261.31 L202.82,264.23 L203.02,267.03 L203.22,269.24 L203.42,271.31 L203.62,273.14 L203.83,274.74 L204.03,276.20 L204.23,277.42 L204.43,278.61 L204.63,279.69 L204.83,280.44 L205.04,281.06 L205.24,281.39 L205.44,281.55 L205.64,281.79 L205.84,282.05 L206.04,282.34 L206.24,282.55 L206.45,282.65 L206.65,282.79 L206.85,282.88 L207.05,282.96 L207.25,283.11 L207.45,283.15 L207.66,283.27 L207.86,283.22 L208.06,283.34 L208.26,283.42 L208.46,283.47 L208.66,283.38 L208.87,283.38 L209.07,283.42 L209.27,283.53 L209.47,283.56 L209.67,283.73 L209.87,283.68 L210.08,283.65 L210.28,283.52 L210.48,283.63 L210.68,283.63 L210.88,283.69 L211.08,283.58 L211.28,283.68 L211.49,283.71 L211.69,283.81 L211.89,283.85 L212.09,283.84 L212.29,283.82 L212.49,283.81 L212.70,283.84 L212.90,283.89 L213.10,283.87 L213.30,283.86 L213.50,283.84 L213.70,283.85 L213.91,283.85 L214.11,283.85 L214.31,283.90 L214.51,283.87 L214.71,283.90 L214.91,283.87 L215.12,283.95 L215.32,284.06 L215.52,284.14 L215.72,284.14 L215.92,284.06 L216.12,284.05 L216.32,283.99 L216.53,284.09 L216.73,284.19 L216.93,284.29 L217.13,284.27 L217.33,284.18 L217.53,284.15 L217.74,283.98 L217.94,284.06 L218.14,284.16 L218.34,284.32 L218.54,284.34 L218.74,284.33 L218.95,284.27 L219.15,284.21 L219.35,284.18 L219.55,284.19 L219.75,284.29 L219.95,284.29 L220.16,284.36 L220.36,284.26 L220.56,284.33 L220.76,284.36 L220.96,284.38 L221.16,284.30 L221.36,284.32 L221.57,284.29 L221.77,284.45 L221.97,284.40 L222.17,284.40 L222.37,284.34 L222.57,284.38 L222.78,284.43 L222.98,284.37 L223.18,284.30 L223.38,284.30 L223.58,284.33 L223.78,284.41 L223.99,284.41 L224.19,284.37 L224.39,284.35 L224.59,284.40 L224.79,284.46 L224.99,284.52 L225.20,284.54 L225.40,284.55 L225.60,284.55 L225.80,284.47 L226.00,284.51 L226.20,284.48 L226.40,284.58 L226.61,284.49 L226.81,284.48 L227.01,284.37 L227.21,284.38 L227.41,284.46 L227.61,284.52 L227.82,284.59 L228.02,284.57 L228.22,284.62 L228.42,284.61 L228.62,284.59 L228.82,284.53 L229.03,284.40 L229.23,284.42 L229.43,284.43 L229.63,284.56 L229.83,284.57 L230.03,284.59 L230.24,284.59 L230.44,284.59 L230.64,284.55 L230.84,284.53 L231.04,284.57 L231.24,284.61 L231.44,284.62 L231.65,284.60 L231.85,284.61 L232.05,284.64 L232.25,284.60 L232.45,284.58 L232.65,284.61 L232.86,284.65 L233.06,284.60 L233.26,284.62 L233.46,284.59 L233.66,284.67 L233.86,284.45 L234.07,284.45 L234.27,284.44 L234.47,284.63 L234.67,284.74 L234.87,284.77 L235.07,284.67 L235.28,284.59 L235.48,284.58 L235.68,284.68 L235.88,284.70 L236.08,284.74 L236.28,284.74 L236.48,284.72 L236.69,284.75 L236.89,284.77 L237.09,284.93 L237.29,284.94 L237.49,284.89 L237.69,284.71 L237.90,284.54 L238.10,284.65 L238.30,284.71 L238.50,284.82 L238.70,284.71 L238.90,284.70 L239.11,284.68 L239.31,284.70 L239.51,284.74 L239.71,284.71 L239.91,284.75 L240.11,284.68 L240.32,284.72 L240.52,284.70 L240.72,284.81 L240.92,284.89 L241.12,284.98 L241.32,284.91 L241.52,284.94 L241.73,284.80 L241.93,284.84 L242.13,284.81 L242.33,284.86 L242.53,284.90 L242.73,284.84 L242.94,284.87 L243.14,284.76 L243.34,284.72 L243.54,284.67 L243.74,284.75 L243.94,284.74 L244.15,284.78 L244.35,284.76 L244.55,284.80 L244.75,284.79 L244.95,284.86 L245.15,284.85 L245.36,284.94 L245.56,284.85 L245.76,284.89 L245.96,284.81 L246.16,284.89 L246.36,284.84 L246.56,284.85 L246.77,284.76 L246.97,284.84 L247.17,284.87 L247.37,284.91 L247.57,284.83 L247.77,284.86 L247.98,284.89 L248.18,284.96 L248.38,284.91 L248.58,284.91 L248.78,284.84 L248.98,284.79 L249.19,284.77 L249.39,284.78 L249.59,284.77 L249.79,284.80 L249.99,284.87 L250.19,284.89 L250.40,284.76 L250.60,284.84 L250.80,284.90 L251.00,285.00" fill="none" stroke="#6b4a2a" stroke-width="1.3" stroke-linejoin="round"/>
<path d="M150.20,285.57 L150.40,285.57 L150.60,285.57 L150.80,285.57 L151.01,285.57 L151.21,285.57 L151.41,285.57 L151.61,285.57 L151.81,285.57 L152.01,285.57 L152.22,285.57 L152.42,285.57 L152.62,285.57 L152.82,285.57 L153.02,285.57 L153.22,285.57 L153.43,285.57 L153.63,285.57 L153.83,285.56 L154.03,285.56 L154.23,285.56 L154.43,285.56 L154.64,285.56 L154.84,285.56 L155.04,285.56 L155.24,285.56 L155.44,285.55 L155.64,285.55 L155.84,285.55 L156.05,285.55 L156.25,285.55 L156.45,285.55 L156.65,285.54 L156.85,285.54 L157.05,285.54 L157.26,285.54 L157.46,285.54 L157.66,285.54 L157.86,285.53 L158.06,285.53 L158.26,285.53 L158.47,285.53 L158.67,285.52 L158.87,285.52 L159.07,285.52 L159.27,285.52 L159.47,285.52 L159.68,285.51 L159.88,285.51 L160.08,285.51 L160.28,285.51 L160.48,285.50 L160.68,285.50 L160.88,285.50 L161.09,285.49 L161.29,285.49 L161.49,285.49 L161.69,285.49 L161.89,285.48 L162.09,285.48 L162.30,285.48 L162.50,285.47 L162.70,285.47 L162.90,285.47 L163.10,285.46 L163.30,285.46 L163.51,285.46 L163.71,285.46 L163.91,285.45 L164.11,285.45 L164.31,285.45 L164.51,285.44 L164.72,285.44 L164.92,285.43 L165.12,285.43 L165.32,285.43 L165.52,285.42 L165.72,285.42 L165.92,285.42 L166.13,285.41 L166.33,285.41 L166.53,285.41 L166.73,285.40 L166.93,285.40 L167.13,285.39 L167.34,285.39 L167.54,285.39 L167.74,285.38 L167.94,285.38 L168.14,285.37 L168.34,285.37 L168.55,285.37 L168.75,285.36 L168.95,285.36 L169.15,285.35 L169.35,285.35 L169.55,285.35 L169.76,285.34 L169.96,285.34 L170.16,285.33 L170.36,285.33 L170.56,285.33 L170.76,285.32 L170.96,285.32 L171.17,285.31 L171.37,285.31 L171.57,285.30 L171.77,285.30 L171.97,285.29 L172.17,285.29 L172.38,285.29 L172.58,285.28 L172.78,285.28 L172.98,285.27 L173.18,285.27 L173.38,285.26 L173.59,285.26 L173.79,285.25 L173.99,285.25 L174.19,285.24 L174.39,285.24 L174.59,285.23 L174.80,285.23 L175.00,285.23 L175.20,285.22 L175.40,285.22 L175.60,285.21 L175.80,285.21 L176.00,285.20 L176.21,285.20 L176.41,285.19 L176.61,285.19 L176.81,285.18 L177.01,285.18 L177.21,285.17 L177.42,285.16 L177.62,285.16 L177.82,285.15 L178.02,285.15 L178.22,285.14 L178.42,285.14 L178.63,285.13 L178.83,285.12 L179.03,285.12 L179.23,285.11 L179.43,285.10 L179.63,285.10 L179.84,285.09 L180.04,285.08 L180.24,285.08 L180.44,285.07 L180.64,285.06 L180.84,285.05 L181.04,285.04 L181.25,285.04 L181.45,285.03 L181.65,285.02 L181.85,285.01 L182.05,285.00 L182.25,284.99 L182.46,284.98 L182.66,284.97 L182.86,284.96 L183.06,284.95 L183.26,284.94 L183.46,284.93 L183.67,284.92 L183.87,284.91 L184.07,284.90 L184.27,284.89 L184.47,284.88 L184.67,284.87 L184.88,284.86 L185.08,284.84 L185.28,284.83 L185.48,284.82 L185.68,284.81 L185.88,284.79 L186.08,284.78 L186.29,284.77 L186.49,284.75 L186.69,284.74 L186.89,284.72 L187.09,284.71 L187.29,284.69 L187.50,284.68 L187.70,284.66 L187.90,284.65 L188.10,284.63 L188.30,284.61 L188.50,284.60 L188.71,284.58 L188.91,284.56 L189.11,284.54 L189.31,284.53 L189.51,284.51 L189.71,284.49 L189.92,284.47 L190.12,284.45 L190.32,284.43 L190.52,284.41 L190.72,284.39 L190.92,284.36 L191.12,284.34 L191.33,284.31 L191.53,284.28 L191.73,284.24 L191.93,284.20 L192.13,284.16 L192.33,284.12 L192.54,284.07 L192.74,284.02 L192.94,283.97 L193.14,283.91 L193.34,283.86 L193.54,283.79 L193.75,283.73 L193.95,283.66 L194.15,283.59 L194.35,283.51 L194.55,283.43 L194.75,283.35 L194.96,283.26 L195.16,283.17 L195.36,283.07 L195.56,282.98 L195.76,282.86 L195.96,282.70 L196.16,282.52 L196.37,282.30 L196.57,282.06 L196.77,281.81 L196.97,281.53 L197.17,281.25 L197.37,280.96 L197.58,280.66 L197.78,280.36 L197.98,280.01 L198.18,279.63 L198.38,279.22 L198.58,278.80 L198.79,278.37 L198.99,277.94 L199.19,277.53 L199.39,277.15 L199.59,276.75 L199.79,276.29 L200.00,275.85 L200.20,275.46 L200.40,275.19 L200.60,275.09 L200.80,275.19 L201.00,275.46 L201.20,275.85 L201.41,276.29 L201.61,276.75 L201.81,277.15 L202.01,277.53 L202.21,277.94 L202.41,278.37 L202.62,278.80 L202.82,279.22 L203.02,279.63 L203.22,280.01 L203.42,280.36 L203.62,280.66 L203.83,280.96 L204.03,281.25 L204.23,281.53 L204.43,281.81 L204.63,282.06 L204.83,282.30 L205.04,282.52 L205.24,282.70 L205.44,282.86 L205.64,282.98 L205.84,283.07 L206.04,283.17 L206.24,283.26 L206.45,283.35 L206.65,283.43 L206.85,283.51 L207.05,283.59 L207.25,283.66 L207.45,283.73 L207.66,283.79 L207.86,283.86 L208.06,283.91 L208.26,283.97 L208.46,284.02 L208.66,284.07 L208.87,284.12 L209.07,284.16 L209.27,284.20 L209.47,284.24 L209.67,284.28 L209.87,284.31 L210.08,284.34 L210.28,284.36 L210.48,284.39 L210.68,284.41 L210.88,284.43 L211.08,284.45 L211.28,284.47 L211.49,284.49 L211.69,284.51 L211.89,284.53 L212.09,284.54 L212.29,284.56 L212.49,284.58 L212.70,284.60 L212.90,284.61 L213.10,284.63 L213.30,284.65 L213.50,284.66 L213.70,284.68 L213.91,284.69 L214.11,284.71 L214.31,284.72 L214.51,284.74 L214.71,284.75 L214.91,284.77 L215.12,284.78 L215.32,284.79 L215.52,284.81 L215.72,284.82 L215.92,284.83 L216.12,284.84 L216.32,284.86 L216.53,284.87 L216.73,284.88 L216.93,284.89 L217.13,284.90 L217.33,284.91 L217.53,284.92 L217.74,284.93 L217.94,284.94 L218.14,284.95 L218.34,284.96 L218.54,284.97 L218.74,284.98 L218.95,284.99 L219.15,285.00 L219.35,285.01 L219.55,285.02 L219.75,285.03 L219.95,285.04 L220.16,285.04 L220.36,285.05 L220.56,285.06 L220.76,285.07 L220.96,285.08 L221.16,285.08 L221.36,285.09 L221.57,285.10 L221.77,285.10 L221.97,285.11 L222.17,285.12 L222.37,285.12 L222.57,285.13 L222.78,285.14 L222.98,285.14 L223.18,285.15 L223.38,285.15 L223.58,285.16 L223.78,285.16 L223.99,285.17 L224.19,285.18 L224.39,285.18 L224.59,285.19 L224.79,285.19 L224.99,285.20 L225.20,285.20 L225.40,285.21 L225.60,285.21 L225.80,285.22 L226.00,285.22 L226.20,285.23 L226.40,285.23 L226.61,285.23 L226.81,285.24 L227.01,285.24 L227.21,285.25 L227.41,285.25 L227.61,285.26 L227.82,285.26 L228.02,285.27 L228.22,285.27 L228.42,285.28 L228.62,285.28 L228.82,285.29 L229.03,285.29 L229.23,285.29 L229.43,285.30 L229.63,285.30 L229.83,285.31 L230.03,285.31 L230.24,285.32 L230.44,285.32 L230.64,285.33 L230.84,285.33 L231.04,285.33 L231.24,285.34 L231.44,285.34 L231.65,285.35 L231.85,285.35 L232.05,285.35 L232.25,285.36 L232.45,285.36 L232.65,285.37 L232.86,285.37 L233.06,285.37 L233.26,285.38 L233.46,285.38 L233.66,285.39 L233.86,285.39 L234.07,285.39 L234.27,285.40 L234.47,285.40 L234.67,285.41 L234.87,285.41 L235.07,285.41 L235.28,285.42 L235.48,285.42 L235.68,285.42 L235.88,285.43 L236.08,285.43 L236.28,285.43 L236.48,285.44 L236.69,285.44 L236.89,285.45 L237.09,285.45 L237.29,285.45 L237.49,285.46 L237.69,285.46 L237.90,285.46 L238.10,285.46 L238.30,285.47 L238.50,285.47 L238.70,285.47 L238.90,285.48 L239.11,285.48 L239.31,285.48 L239.51,285.49 L239.71,285.49 L239.91,285.49 L240.11,285.49 L240.32,285.50 L240.52,285.50 L240.72,285.50 L240.92,285.51 L241.12,285.51 L241.32,285.51 L241.52,285.51 L241.73,285.52 L241.93,285.52 L242.13,285.52 L242.33,285.52 L242.53,285.52 L242.73,285.53 L242.94,285.53 L243.14,285.53 L243.34,285.53 L243.54,285.54 L243.74,285.54 L243.94,285.54 L244.15,285.54 L244.35,285.54 L244.55,285.54 L244.75,285.55 L244.95,285.55 L245.15,285.55 L245.36,285.55 L245.56,285.55 L245.76,285.55 L245.96,285.56 L246.16,285.56 L246.36,285.56 L246.56,285.56 L246.77,285.56 L246.97,285.56 L247.17,285.56 L247.37,285.56 L247.57,285.57 L247.77,285.57 L247.98,285.57 L248.18,285.57 L248.38,285.57 L248.58,285.57 L248.78,285.57 L248.98,285.57 L249.19,285.57 L249.39,285.57 L249.59,285.57 L249.79,285.57 L249.99,285.57 L250.19,285.57 L250.40,285.57 L250.60,285.57 L250.80,285.57 L251.00,285.57" fill="none" stroke="#62b046" stroke-width="1.3" stroke-linejoin="round"/>
<path d="M150.2,288.8 L150.2,199.2 L251,199.2 L251,288.8 Z" fill="none" stroke="#1a1a1a" stroke-width="1.3"/>
<line x1="147.2" y1="288.8" x2="150.2" y2="288.8" stroke="#1a1a1a" stroke-width="1.1"/>
<text x="144.2" y="291.1" font-size="6.6" fill="#2a2a2a" font-weight="normal" text-anchor="end" stroke="#2a2a2a" stroke-width="0.2" >0</text>
<line x1="147.2" y1="266.4" x2="150.2" y2="266.4" stroke="#1a1a1a" stroke-width="1.1"/>
<text x="144.2" y="268.7" font-size="6.6" fill="#2a2a2a" font-weight="normal" text-anchor="end" stroke="#2a2a2a" stroke-width="0.2" >5</text>
<line x1="147.2" y1="244.0" x2="150.2" y2="244.0" stroke="#1a1a1a" stroke-width="1.1"/>
<text x="144.2" y="246.3" font-size="6.6" fill="#2a2a2a" font-weight="normal" text-anchor="end" stroke="#2a2a2a" stroke-width="0.2" >10</text>
<line x1="147.2" y1="221.6" x2="150.2" y2="221.6" stroke="#1a1a1a" stroke-width="1.1"/>
<text x="144.2" y="223.9" font-size="6.6" fill="#2a2a2a" font-weight="normal" text-anchor="end" stroke="#2a2a2a" stroke-width="0.2" >15</text>
<line x1="147.2" y1="199.2" x2="150.2" y2="199.2" stroke="#1a1a1a" stroke-width="1.1"/>
<text x="144.2" y="200.7" font-size="6.6" fill="#2a2a2a" font-weight="normal" text-anchor="end" stroke="#2a2a2a" stroke-width="0.2" >20</text>
<line x1="150.2" y1="288.8" x2="150.2" y2="291.40000000000003" stroke="#1a1a1a" stroke-width="1.1"/>
<text x="150.2" y="300.4" font-size="6.6" fill="#2a2a2a" font-weight="normal" text-anchor="middle" stroke="#2a2a2a" stroke-width="0.2" >-5</text>
<line x1="175.39999999999998" y1="288.8" x2="175.39999999999998" y2="291.40000000000003" stroke="#1a1a1a" stroke-width="1.1"/>
<text x="175.39999999999998" y="300.4" font-size="6.6" fill="#2a2a2a" font-weight="normal" text-anchor="middle" stroke="#2a2a2a" stroke-width="0.2" >-2.5</text>
<line x1="200.6" y1="288.8" x2="200.6" y2="291.40000000000003" stroke="#1a1a1a" stroke-width="1.1"/>
<text x="200.6" y="300.4" font-size="6.6" fill="#2a2a2a" font-weight="normal" text-anchor="middle" stroke="#2a2a2a" stroke-width="0.2" >0</text>
<line x1="225.8" y1="288.8" x2="225.8" y2="291.40000000000003" stroke="#1a1a1a" stroke-width="1.1"/>
<text x="225.8" y="300.4" font-size="6.6" fill="#2a2a2a" font-weight="normal" text-anchor="middle" stroke="#2a2a2a" stroke-width="0.2" >2.5</text>
<line x1="251.0" y1="288.8" x2="251.0" y2="291.40000000000003" stroke="#1a1a1a" stroke-width="1.1"/>
<text x="251.0" y="300.4" font-size="6.6" fill="#2a2a2a" font-weight="normal" text-anchor="middle" stroke="#2a2a2a" stroke-width="0.2" >5</text>
<text x="200.6" y="193.5" font-size="9" fill="#111" font-weight="normal" text-anchor="middle" textLength="19.8" lengthAdjust="spacingAndGlyphs" stroke="#111" stroke-width="0.2" >p300</text>
<line x1="175.0" y1="204.7" x2="189.3" y2="204.7" stroke="#6b4a2a" stroke-width="1.5"/>
<line x1="175.0" y1="213.6" x2="189.3" y2="213.6" stroke="#62b046" stroke-width="1.3"/>
<text x="192.5" y="206.6" font-size="5.6" fill="#222" font-weight="normal" text-anchor="start" textLength="41.5" lengthAdjust="spacingAndGlyphs" stroke="#222" stroke-width="0.12" >EP1 co-occupied</text>
<text x="192.5" y="215.6" font-size="5.6" fill="#222" font-weight="normal" text-anchor="start" textLength="29.3" lengthAdjust="spacingAndGlyphs" stroke="#222" stroke-width="0.12" >RUNX1 only</text>
<path d="M271.80,275.99 L272.00,276.03 L272.20,275.95 L272.40,275.84 L272.60,275.85 L272.80,275.89 L273.00,275.99 L273.20,275.87 L273.40,275.78 L273.59,275.79 L273.79,275.88 L273.99,275.93 L274.19,275.98 L274.39,275.99 L274.59,275.99 L274.79,275.96 L274.99,275.91 L275.19,275.91 L275.39,275.85 L275.59,275.79 L275.79,275.85 L275.99,275.78 L276.19,275.85 L276.39,275.72 L276.59,275.79 L276.79,275.73 L276.98,275.75 L277.18,275.62 L277.38,275.55 L277.58,275.68 L277.78,275.75 L277.98,275.91 L278.18,275.74 L278.38,275.64 L278.58,275.59 L278.78,275.62 L278.98,275.62 L279.18,275.58 L279.38,275.59 L279.58,275.77 L279.78,275.82 L279.98,275.74 L280.17,275.72 L280.37,275.64 L280.57,275.68 L280.77,275.58 L280.97,275.54 L281.17,275.59 L281.37,275.49 L281.57,275.56 L281.77,275.43 L281.97,275.55 L282.17,275.49 L282.37,275.57 L282.57,275.41 L282.77,275.48 L282.97,275.49 L283.17,275.49 L283.37,275.36 L283.56,275.31 L283.76,275.41 L283.96,275.53 L284.16,275.54 L284.36,275.48 L284.56,275.31 L284.76,275.22 L284.96,275.13 L285.16,275.17 L285.36,275.27 L285.56,275.37 L285.76,275.28 L285.96,275.22 L286.16,275.09 L286.36,275.28 L286.56,275.30 L286.75,275.43 L286.95,275.30 L287.15,275.30 L287.35,275.32 L287.55,275.33 L287.75,275.42 L287.95,275.35 L288.15,275.31 L288.35,275.22 L288.55,275.17 L288.75,275.24 L288.95,275.17 L289.15,275.14 L289.35,275.03 L289.55,274.97 L289.75,275.02 L289.95,274.93 L290.14,274.92 L290.34,274.90 L290.54,274.90 L290.74,274.93 L290.94,274.74 L291.14,274.76 L291.34,274.72 L291.54,274.87 L291.74,274.96 L291.94,274.99 L292.14,274.96 L292.34,274.80 L292.54,274.72 L292.74,274.69 L292.94,274.74 L293.14,274.75 L293.34,274.82 L293.53,274.93 L293.73,274.80 L293.93,274.71 L294.13,274.49 L294.33,274.44 L294.53,274.39 L294.73,274.43 L294.93,274.56 L295.13,274.57 L295.33,274.60 L295.53,274.56 L295.73,274.43 L295.93,274.43 L296.13,274.35 L296.33,274.43 L296.53,274.36 L296.73,274.28 L296.92,274.38 L297.12,274.33 L297.32,274.48 L297.52,274.34 L297.72,274.43 L297.92,274.40 L298.12,274.49 L298.32,274.63 L298.52,274.44 L298.72,274.27 L298.92,274.08 L299.12,274.34 L299.32,274.33 L299.52,274.19 L299.72,274.01 L299.92,274.16 L300.11,274.28 L300.31,274.28 L300.51,274.14 L300.71,274.01 L300.91,274.07 L301.11,274.09 L301.31,274.32 L301.51,274.15 L301.71,274.04 L301.91,273.88 L302.11,274.06 L302.31,274.02 L302.51,274.06 L302.71,274.00 L302.91,274.17 L303.11,274.15 L303.31,274.10 L303.50,274.01 L303.70,273.80 L303.90,273.66 L304.10,273.54 L304.30,273.63 L304.50,273.65 L304.70,273.72 L304.90,273.62 L305.10,273.65 L305.30,273.56 L305.50,273.52 L305.70,273.48 L305.90,273.51 L306.10,273.42 L306.30,273.44 L306.50,273.39 L306.69,273.51 L306.89,273.39 L307.09,273.26 L307.29,273.35 L307.49,273.28 L307.69,273.10 L307.89,272.70 L308.09,272.52 L308.29,272.55 L308.49,272.54 L308.69,272.56 L308.89,272.58 L309.09,272.47 L309.29,272.25 L309.49,272.00 L309.69,271.92 L309.89,271.82 L310.08,271.71 L310.28,271.50 L310.48,271.48 L310.68,271.52 L310.88,271.45 L311.08,271.22 L311.28,271.02 L311.48,270.91 L311.68,270.79 L311.88,270.81 L312.08,270.51 L312.28,270.37 L312.48,270.03 L312.68,270.18 L312.88,270.23 L313.08,269.80 L313.28,269.59 L313.47,269.25 L313.67,269.41 L313.87,269.24 L314.07,269.07 L314.27,268.91 L314.47,268.70 L314.67,268.57 L314.87,268.24 L315.07,267.93 L315.27,267.70 L315.47,267.38 L315.67,267.23 L315.87,266.97 L316.07,266.77 L316.27,266.39 L316.47,265.90 L316.67,265.73 L316.86,265.39 L317.06,265.14 L317.26,264.14 L317.46,263.19 L317.66,262.26 L317.86,261.49 L318.06,260.82 L318.26,259.79 L318.46,258.59 L318.66,257.11 L318.86,255.46 L319.06,254.10 L319.26,252.21 L319.46,250.05 L319.66,247.16 L319.86,244.27 L320.05,241.20 L320.25,238.31 L320.45,235.64 L320.65,232.95 L320.85,230.66 L321.05,228.68 L321.25,227.22 L321.45,225.69 L321.65,225.05 L321.85,225.46 L322.05,226.98 L322.25,228.81 L322.45,230.94 L322.65,233.58 L322.85,236.32 L323.05,238.75 L323.25,241.30 L323.44,244.36 L323.64,247.58 L323.84,250.26 L324.04,252.29 L324.24,253.93 L324.44,255.42 L324.64,257.06 L324.84,258.33 L325.04,259.70 L325.24,260.41 L325.44,261.34 L325.64,262.10 L325.84,263.07 L326.04,263.88 L326.24,264.54 L326.44,265.30 L326.63,265.75 L326.83,266.27 L327.03,266.39 L327.23,266.59 L327.43,266.79 L327.63,267.23 L327.83,267.70 L328.03,267.90 L328.23,268.07 L328.43,268.22 L328.63,268.58 L328.83,268.74 L329.03,268.89 L329.23,268.92 L329.43,269.20 L329.63,269.38 L329.83,269.73 L330.02,269.79 L330.22,269.93 L330.42,269.99 L330.62,270.08 L330.82,270.32 L331.02,270.30 L331.22,270.47 L331.42,270.45 L331.62,270.69 L331.82,270.91 L332.02,271.12 L332.22,271.20 L332.42,271.27 L332.62,271.32 L332.82,271.55 L333.02,271.60 L333.22,271.69 L333.41,271.88 L333.61,271.90 L333.81,271.98 L334.01,271.92 L334.21,272.15 L334.41,272.33 L334.61,272.42 L334.81,272.34 L335.01,272.43 L335.21,272.66 L335.41,272.93 L335.61,272.99 L335.81,272.90 L336.01,273.05 L336.21,273.15 L336.41,273.29 L336.61,273.18 L336.80,273.10 L337.00,273.11 L337.20,273.14 L337.40,273.25 L337.60,273.30 L337.80,273.58 L338.00,273.69 L338.20,273.81 L338.40,273.65 L338.60,273.61 L338.80,273.64 L339.00,273.71 L339.20,273.75 L339.40,273.68 L339.60,273.75 L339.80,273.82 L339.99,273.79 L340.19,273.80 L340.39,273.70 L340.59,273.88 L340.79,273.90 L340.99,274.02 L341.19,274.05 L341.39,274.01 L341.59,274.10 L341.79,274.04 L341.99,274.27 L342.19,274.14 L342.39,274.18 L342.59,273.97 L342.79,273.89 L342.99,273.96 L343.19,274.06 L343.38,274.32 L343.58,274.32 L343.78,274.33 L343.98,274.26 L344.18,274.19 L344.38,274.18 L344.58,274.13 L344.78,274.25 L344.98,274.29 L345.18,274.45 L345.38,274.43 L345.58,274.65 L345.78,274.60 L345.98,274.60 L346.18,274.46 L346.38,274.50 L346.57,274.64 L346.77,274.67 L346.97,274.70 L347.17,274.58 L347.37,274.52 L347.57,274.53 L347.77,274.57 L347.97,274.59 L348.17,274.64 L348.37,274.58 L348.57,274.48 L348.77,274.40 L348.97,274.52 L349.17,274.67 L349.37,274.63 L349.57,274.52 L349.77,274.65 L349.96,274.72 L350.16,274.88 L350.36,274.83 L350.56,274.85 L350.76,274.78 L350.96,274.78 L351.16,274.88 L351.36,274.94 L351.56,275.01 L351.76,274.85 L351.96,274.96 L352.16,274.86 L352.36,274.99 L352.56,274.90 L352.76,275.03 L352.96,275.08 L353.16,275.12 L353.35,275.10 L353.55,275.10 L353.75,275.09 L353.95,275.09 L354.15,275.06 L354.35,275.04 L354.55,275.06 L354.75,275.05 L354.95,275.11 L355.15,275.13 L355.35,275.16 L355.55,275.11 L355.75,275.10 L355.95,275.27 L356.15,275.31 L356.35,275.24 L356.55,275.20 L356.74,275.28 L356.94,275.33 L357.14,275.43 L357.34,275.38 L357.54,275.37 L357.74,275.17 L357.94,275.14 L358.14,275.27 L358.34,275.28 L358.54,275.24 L358.74,275.33 L358.94,275.43 L359.14,275.55 L359.34,275.46 L359.54,275.57 L359.74,275.61 L359.93,275.56 L360.13,275.50 L360.33,275.52 L360.53,275.48 L360.73,275.38 L360.93,275.38 L361.13,275.53 L361.33,275.63 L361.53,275.82 L361.73,275.82 L361.93,275.80 L362.13,275.62 L362.33,275.56 L362.53,275.59 L362.73,275.76 L362.93,275.86 L363.13,275.94 L363.32,275.86 L363.52,275.83 L363.72,275.61 L363.92,275.52 L364.12,275.55 L364.32,275.75 L364.52,275.87 L364.72,275.84 L364.92,275.84 L365.12,275.95 L365.32,275.84 L365.52,275.77 L365.72,275.60 L365.92,275.68 L366.12,275.70 L366.32,275.78 L366.51,275.92 L366.71,275.95 L366.91,275.93 L367.11,275.89 L367.31,276.06 L367.51,275.99 L367.71,275.98 L367.91,275.85 L368.11,275.97 L368.31,275.80 L368.51,275.89 L368.71,275.78 L368.91,276.06 L369.11,275.91 L369.31,276.01 L369.51,276.00 L369.71,276.06 L369.90,276.04 L370.10,276.00 L370.30,275.98 L370.50,275.98 L370.70,275.85 L370.90,275.97 L371.10,276.02 L371.30,276.11 L371.50,276.02" fill="none" stroke="#6b4a2a" stroke-width="1.3" stroke-linejoin="round"/>
<path d="M271.80,278.05 L272.00,278.05 L272.20,278.05 L272.40,278.05 L272.60,278.05 L272.80,278.05 L273.00,278.05 L273.20,278.05 L273.40,278.05 L273.59,278.05 L273.79,278.04 L273.99,278.04 L274.19,278.04 L274.39,278.04 L274.59,278.04 L274.79,278.04 L274.99,278.04 L275.19,278.04 L275.39,278.04 L275.59,278.04 L275.79,278.03 L275.99,278.03 L276.19,278.03 L276.39,278.03 L276.59,278.03 L276.79,278.03 L276.98,278.02 L277.18,278.02 L277.38,278.02 L277.58,278.02 L277.78,278.02 L277.98,278.01 L278.18,278.01 L278.38,278.01 L278.58,278.01 L278.78,278.00 L278.98,278.00 L279.18,278.00 L279.38,278.00 L279.58,277.99 L279.78,277.99 L279.98,277.99 L280.17,277.99 L280.37,277.98 L280.57,277.98 L280.77,277.98 L280.97,277.97 L281.17,277.97 L281.37,277.97 L281.57,277.96 L281.77,277.96 L281.97,277.96 L282.17,277.95 L282.37,277.95 L282.57,277.94 L282.77,277.94 L282.97,277.94 L283.17,277.93 L283.37,277.93 L283.56,277.93 L283.76,277.92 L283.96,277.92 L284.16,277.91 L284.36,277.91 L284.56,277.90 L284.76,277.90 L284.96,277.89 L285.16,277.89 L285.36,277.89 L285.56,277.88 L285.76,277.88 L285.96,277.87 L286.16,277.87 L286.36,277.86 L286.56,277.86 L286.75,277.85 L286.95,277.85 L287.15,277.84 L287.35,277.83 L287.55,277.83 L287.75,277.82 L287.95,277.82 L288.15,277.81 L288.35,277.81 L288.55,277.80 L288.75,277.80 L288.95,277.79 L289.15,277.78 L289.35,277.78 L289.55,277.77 L289.75,277.77 L289.95,277.76 L290.14,277.75 L290.34,277.75 L290.54,277.74 L290.74,277.73 L290.94,277.73 L291.14,277.72 L291.34,277.71 L291.54,277.71 L291.74,277.70 L291.94,277.69 L292.14,277.69 L292.34,277.68 L292.54,277.67 L292.74,277.67 L292.94,277.66 L293.14,277.65 L293.34,277.64 L293.53,277.64 L293.73,277.63 L293.93,277.62 L294.13,277.61 L294.33,277.61 L294.53,277.60 L294.73,277.59 L294.93,277.58 L295.13,277.58 L295.33,277.57 L295.53,277.56 L295.73,277.55 L295.93,277.54 L296.13,277.54 L296.33,277.53 L296.53,277.52 L296.73,277.51 L296.92,277.50 L297.12,277.49 L297.32,277.48 L297.52,277.47 L297.72,277.46 L297.92,277.44 L298.12,277.43 L298.32,277.41 L298.52,277.40 L298.72,277.38 L298.92,277.36 L299.12,277.34 L299.32,277.32 L299.52,277.30 L299.72,277.28 L299.92,277.26 L300.11,277.23 L300.31,277.21 L300.51,277.18 L300.71,277.15 L300.91,277.13 L301.11,277.10 L301.31,277.07 L301.51,277.04 L301.71,277.01 L301.91,276.98 L302.11,276.94 L302.31,276.91 L302.51,276.88 L302.71,276.84 L302.91,276.80 L303.11,276.77 L303.31,276.73 L303.50,276.69 L303.70,276.65 L303.90,276.61 L304.10,276.57 L304.30,276.53 L304.50,276.48 L304.70,276.44 L304.90,276.40 L305.10,276.35 L305.30,276.30 L305.50,276.26 L305.70,276.21 L305.90,276.16 L306.10,276.11 L306.30,276.06 L306.50,276.01 L306.69,275.96 L306.89,275.90 L307.09,275.85 L307.29,275.80 L307.49,275.74 L307.69,275.69 L307.89,275.63 L308.09,275.57 L308.29,275.51 L308.49,275.45 L308.69,275.39 L308.89,275.33 L309.09,275.27 L309.29,275.21 L309.49,275.15 L309.69,275.08 L309.89,275.02 L310.08,274.95 L310.28,274.89 L310.48,274.82 L310.68,274.75 L310.88,274.68 L311.08,274.60 L311.28,274.52 L311.48,274.43 L311.68,274.33 L311.88,274.23 L312.08,274.13 L312.28,274.02 L312.48,273.90 L312.68,273.78 L312.88,273.66 L313.08,273.53 L313.28,273.39 L313.47,273.25 L313.67,273.10 L313.87,272.94 L314.07,272.78 L314.27,272.61 L314.47,272.44 L314.67,272.26 L314.87,272.07 L315.07,271.88 L315.27,271.68 L315.47,271.47 L315.67,271.26 L315.87,271.04 L316.07,270.82 L316.27,270.58 L316.47,270.34 L316.67,270.07 L316.86,269.73 L317.06,269.34 L317.26,268.91 L317.46,268.45 L317.66,267.95 L317.86,267.43 L318.06,266.90 L318.26,266.36 L318.46,265.83 L318.66,265.30 L318.86,264.79 L319.06,264.27 L319.26,263.72 L319.46,263.16 L319.66,262.58 L319.86,262.02 L320.05,261.47 L320.25,260.96 L320.45,260.49 L320.65,260.00 L320.85,259.48 L321.05,258.99 L321.25,258.56 L321.45,258.27 L321.65,258.16 L321.85,258.27 L322.05,258.56 L322.25,258.99 L322.45,259.48 L322.65,260.00 L322.85,260.49 L323.05,260.96 L323.25,261.47 L323.44,262.02 L323.64,262.58 L323.84,263.16 L324.04,263.72 L324.24,264.27 L324.44,264.79 L324.64,265.30 L324.84,265.83 L325.04,266.36 L325.24,266.90 L325.44,267.43 L325.64,267.95 L325.84,268.45 L326.04,268.91 L326.24,269.34 L326.44,269.73 L326.63,270.07 L326.83,270.34 L327.03,270.58 L327.23,270.82 L327.43,271.04 L327.63,271.26 L327.83,271.47 L328.03,271.68 L328.23,271.88 L328.43,272.07 L328.63,272.26 L328.83,272.44 L329.03,272.61 L329.23,272.78 L329.43,272.94 L329.63,273.10 L329.83,273.25 L330.02,273.39 L330.22,273.53 L330.42,273.66 L330.62,273.78 L330.82,273.90 L331.02,274.02 L331.22,274.13 L331.42,274.23 L331.62,274.33 L331.82,274.43 L332.02,274.52 L332.22,274.60 L332.42,274.68 L332.62,274.75 L332.82,274.82 L333.02,274.89 L333.22,274.95 L333.41,275.02 L333.61,275.08 L333.81,275.15 L334.01,275.21 L334.21,275.27 L334.41,275.33 L334.61,275.39 L334.81,275.45 L335.01,275.51 L335.21,275.57 L335.41,275.63 L335.61,275.69 L335.81,275.74 L336.01,275.80 L336.21,275.85 L336.41,275.90 L336.61,275.96 L336.80,276.01 L337.00,276.06 L337.20,276.11 L337.40,276.16 L337.60,276.21 L337.80,276.26 L338.00,276.30 L338.20,276.35 L338.40,276.40 L338.60,276.44 L338.80,276.48 L339.00,276.53 L339.20,276.57 L339.40,276.61 L339.60,276.65 L339.80,276.69 L339.99,276.73 L340.19,276.77 L340.39,276.80 L340.59,276.84 L340.79,276.88 L340.99,276.91 L341.19,276.94 L341.39,276.98 L341.59,277.01 L341.79,277.04 L341.99,277.07 L342.19,277.10 L342.39,277.13 L342.59,277.15 L342.79,277.18 L342.99,277.21 L343.19,277.23 L343.38,277.26 L343.58,277.28 L343.78,277.30 L343.98,277.32 L344.18,277.34 L344.38,277.36 L344.58,277.38 L344.78,277.40 L344.98,277.41 L345.18,277.43 L345.38,277.44 L345.58,277.46 L345.78,277.47 L345.98,277.48 L346.18,277.49 L346.38,277.50 L346.57,277.51 L346.77,277.52 L346.97,277.53 L347.17,277.54 L347.37,277.54 L347.57,277.55 L347.77,277.56 L347.97,277.57 L348.17,277.58 L348.37,277.58 L348.57,277.59 L348.77,277.60 L348.97,277.61 L349.17,277.61 L349.37,277.62 L349.57,277.63 L349.77,277.64 L349.96,277.64 L350.16,277.65 L350.36,277.66 L350.56,277.67 L350.76,277.67 L350.96,277.68 L351.16,277.69 L351.36,277.69 L351.56,277.70 L351.76,277.71 L351.96,277.71 L352.16,277.72 L352.36,277.73 L352.56,277.73 L352.76,277.74 L352.96,277.75 L353.16,277.75 L353.35,277.76 L353.55,277.77 L353.75,277.77 L353.95,277.78 L354.15,277.78 L354.35,277.79 L354.55,277.80 L354.75,277.80 L354.95,277.81 L355.15,277.81 L355.35,277.82 L355.55,277.82 L355.75,277.83 L355.95,277.83 L356.15,277.84 L356.35,277.85 L356.55,277.85 L356.74,277.86 L356.94,277.86 L357.14,277.87 L357.34,277.87 L357.54,277.88 L357.74,277.88 L357.94,277.89 L358.14,277.89 L358.34,277.89 L358.54,277.90 L358.74,277.90 L358.94,277.91 L359.14,277.91 L359.34,277.92 L359.54,277.92 L359.74,277.93 L359.93,277.93 L360.13,277.93 L360.33,277.94 L360.53,277.94 L360.73,277.94 L360.93,277.95 L361.13,277.95 L361.33,277.96 L361.53,277.96 L361.73,277.96 L361.93,277.97 L362.13,277.97 L362.33,277.97 L362.53,277.98 L362.73,277.98 L362.93,277.98 L363.13,277.99 L363.32,277.99 L363.52,277.99 L363.72,277.99 L363.92,278.00 L364.12,278.00 L364.32,278.00 L364.52,278.00 L364.72,278.01 L364.92,278.01 L365.12,278.01 L365.32,278.01 L365.52,278.02 L365.72,278.02 L365.92,278.02 L366.12,278.02 L366.32,278.02 L366.51,278.03 L366.71,278.03 L366.91,278.03 L367.11,278.03 L367.31,278.03 L367.51,278.03 L367.71,278.04 L367.91,278.04 L368.11,278.04 L368.31,278.04 L368.51,278.04 L368.71,278.04 L368.91,278.04 L369.11,278.04 L369.31,278.04 L369.51,278.04 L369.71,278.05 L369.90,278.05 L370.10,278.05 L370.30,278.05 L370.50,278.05 L370.70,278.05 L370.90,278.05 L371.10,278.05 L371.30,278.05 L371.50,278.05" fill="none" stroke="#62b046" stroke-width="1.3" stroke-linejoin="round"/>
<path d="M271.8,288.8 L271.8,199.2 L371.5,199.2 L371.5,288.8 Z" fill="none" stroke="#1a1a1a" stroke-width="1.3"/>
<line x1="268.8" y1="288.8" x2="271.8" y2="288.8" stroke="#1a1a1a" stroke-width="1.1"/>
<text x="265.8" y="291.1" font-size="6.6" fill="#2a2a2a" font-weight="normal" text-anchor="end" stroke="#2a2a2a" stroke-width="0.2" >0</text>
<line x1="268.8" y1="199.2" x2="271.8" y2="199.2" stroke="#1a1a1a" stroke-width="1.1"/>
<text x="265.8" y="200.7" font-size="6.6" fill="#2a2a2a" font-weight="normal" text-anchor="end" stroke="#2a2a2a" stroke-width="0.2" >5</text>
<line x1="271.8" y1="288.8" x2="271.8" y2="291.40000000000003" stroke="#1a1a1a" stroke-width="1.1"/>
<text x="271.8" y="300.4" font-size="6.6" fill="#2a2a2a" font-weight="normal" text-anchor="middle" stroke="#2a2a2a" stroke-width="0.2" >-5</text>
<line x1="296.725" y1="288.8" x2="296.725" y2="291.40000000000003" stroke="#1a1a1a" stroke-width="1.1"/>
<text x="296.725" y="300.4" font-size="6.6" fill="#2a2a2a" font-weight="normal" text-anchor="middle" stroke="#2a2a2a" stroke-width="0.2" >-2.5</text>
<line x1="321.65" y1="288.8" x2="321.65" y2="291.40000000000003" stroke="#1a1a1a" stroke-width="1.1"/>
<text x="321.65" y="300.4" font-size="6.6" fill="#2a2a2a" font-weight="normal" text-anchor="middle" stroke="#2a2a2a" stroke-width="0.2" >0</text>
<line x1="346.575" y1="288.8" x2="346.575" y2="291.40000000000003" stroke="#1a1a1a" stroke-width="1.1"/>
<text x="346.575" y="300.4" font-size="6.6" fill="#2a2a2a" font-weight="normal" text-anchor="middle" stroke="#2a2a2a" stroke-width="0.2" >2.5</text>
<line x1="371.5" y1="288.8" x2="371.5" y2="291.40000000000003" stroke="#1a1a1a" stroke-width="1.1"/>
<text x="371.5" y="300.4" font-size="6.6" fill="#2a2a2a" font-weight="normal" text-anchor="middle" stroke="#2a2a2a" stroke-width="0.2" >5</text>
<text x="321.65" y="193.5" font-size="9" fill="#111" font-weight="normal" text-anchor="middle" textLength="21.7" lengthAdjust="spacingAndGlyphs" stroke="#111" stroke-width="0.2" >Med1</text>
<line x1="296.6" y1="204.7" x2="310.90000000000003" y2="204.7" stroke="#6b4a2a" stroke-width="1.5"/>
<line x1="296.6" y1="213.6" x2="310.90000000000003" y2="213.6" stroke="#62b046" stroke-width="1.3"/>
<text x="314.1" y="206.6" font-size="5.6" fill="#222" font-weight="normal" text-anchor="start" textLength="41.5" lengthAdjust="spacingAndGlyphs" stroke="#222" stroke-width="0.12" >EP1 co-occupied</text>
<text x="314.1" y="215.6" font-size="5.6" fill="#222" font-weight="normal" text-anchor="start" textLength="29.3" lengthAdjust="spacingAndGlyphs" stroke="#222" stroke-width="0.12" >RUNX1 only</text>
<path d="M396.30,276.70 L396.51,276.68 L396.72,276.59 L396.92,276.64 L397.13,276.75 L397.34,276.75 L397.55,276.71 L397.76,276.61 L397.97,276.72 L398.17,276.71 L398.38,276.88 L398.59,276.86 L398.80,276.85 L399.01,276.79 L399.21,276.82 L399.42,276.73 L399.63,276.37 L399.84,276.35 L400.05,276.20 L400.26,276.44 L400.46,276.30 L400.67,276.47 L400.88,276.31 L401.09,276.33 L401.30,276.32 L401.50,276.56 L401.71,276.45 L401.92,276.55 L402.13,276.42 L402.34,276.31 L402.55,276.09 L402.75,275.99 L402.96,276.15 L403.17,276.13 L403.38,276.15 L403.59,276.10 L403.80,276.13 L404.00,276.10 L404.21,276.06 L404.42,275.94 L404.63,275.84 L404.84,275.76 L405.04,275.59 L405.25,275.40 L405.46,275.48 L405.67,275.79 L405.88,275.83 L406.09,275.80 L406.29,275.56 L406.50,275.71 L406.71,275.59 L406.92,275.78 L407.13,275.69 L407.33,275.92 L407.54,275.52 L407.75,275.54 L407.96,275.59 L408.17,275.65 L408.38,275.47 L408.58,275.02 L408.79,275.26 L409.00,275.30 L409.21,275.26 L409.42,275.11 L409.62,275.07 L409.83,275.20 L410.04,275.18 L410.25,275.01 L410.46,275.04 L410.67,274.95 L410.87,275.00 L411.08,274.85 L411.29,274.71 L411.50,274.97 L411.71,274.79 L411.92,274.98 L412.12,274.72 L412.33,274.85 L412.54,274.60 L412.75,274.54 L412.96,274.50 L413.16,274.42 L413.37,274.10 L413.58,274.07 L413.79,274.18 L414.00,274.45 L414.21,274.47 L414.41,274.48 L414.62,274.42 L414.83,274.13 L415.04,273.99 L415.25,273.97 L415.45,274.02 L415.66,274.00 L415.87,273.51 L416.08,273.25 L416.29,273.09 L416.50,273.58 L416.70,273.79 L416.91,273.85 L417.12,273.69 L417.33,273.83 L417.54,273.72 L417.74,273.62 L417.95,273.37 L418.16,273.40 L418.37,273.21 L418.58,273.16 L418.79,273.21 L418.99,273.31 L419.20,273.02 L419.41,272.50 L419.62,272.43 L419.83,272.46 L420.03,272.45 L420.24,272.09 L420.45,272.02 L420.66,271.94 L420.87,271.99 L421.08,272.03 L421.28,271.81 L421.49,271.62 L421.70,271.17 L421.91,271.17 L422.12,271.12 L422.32,271.08 L422.53,270.85 L422.74,270.74 L422.95,270.30 L423.16,269.86 L423.37,269.84 L423.57,269.76 L423.78,269.98 L423.99,269.42 L424.20,269.36 L424.41,269.16 L424.62,268.96 L424.82,268.80 L425.03,268.40 L425.24,268.31 L425.45,268.36 L425.66,268.43 L425.86,268.30 L426.07,268.00 L426.28,267.98 L426.49,267.52 L426.70,267.27 L426.91,266.92 L427.11,267.27 L427.32,266.99 L427.53,266.83 L427.74,266.23 L427.95,265.88 L428.15,265.77 L428.36,265.86 L428.57,265.75 L428.78,265.30 L428.99,264.95 L429.20,264.82 L429.40,264.85 L429.61,264.71 L429.82,264.63 L430.03,264.73 L430.24,264.43 L430.44,264.12 L430.65,263.74 L430.86,263.75 L431.07,263.64 L431.28,263.19 L431.49,262.91 L431.69,262.83 L431.90,262.69 L432.11,262.47 L432.32,262.36 L432.53,262.27 L432.74,262.15 L432.94,261.66 L433.15,261.61 L433.36,261.46 L433.57,261.41 L433.78,260.95 L433.98,260.18 L434.19,259.89 L434.40,259.47 L434.61,259.48 L434.82,258.96 L435.03,258.57 L435.23,258.32 L435.44,258.42 L435.65,258.49 L435.86,258.03 L436.07,257.17 L436.27,256.55 L436.48,256.06 L436.69,255.97 L436.90,255.98 L437.11,256.02 L437.32,255.71 L437.52,254.98 L437.73,254.41 L437.94,254.18 L438.15,253.67 L438.36,253.45 L438.56,252.72 L438.77,252.23 L438.98,251.27 L439.19,250.42 L439.40,249.80 L439.61,249.07 L439.81,248.10 L440.02,247.22 L440.23,246.64 L440.44,246.65 L440.65,245.96 L440.85,245.34 L441.06,244.26 L441.27,243.98 L441.48,243.39 L441.69,243.00 L441.90,242.12 L442.10,241.79 L442.31,241.56 L442.52,241.35 L442.73,240.59 L442.94,240.12 L443.14,239.60 L443.35,239.37 L443.56,238.69 L443.77,238.93 L443.98,238.72 L444.19,238.82 L444.39,238.52 L444.60,239.16 L444.81,239.81 L445.02,241.14 L445.23,241.84 L445.44,242.56 L445.64,243.45 L445.85,245.09 L446.06,247.10 L446.27,248.70 L446.48,250.64 L446.68,252.62 L446.89,254.52 L447.10,256.03 L447.31,257.34 L447.52,258.54 L447.73,259.95 L447.93,261.27 L448.14,262.02 L448.35,262.00 L448.56,261.67 L448.77,260.92 L448.97,259.97 L449.18,258.51 L449.39,257.11 L449.60,255.65 L449.81,254.39 L450.02,253.29 L450.22,251.78 L450.43,249.78 L450.64,247.76 L450.85,245.83 L451.06,244.59 L451.26,243.44 L451.47,243.02 L451.68,242.32 L451.89,241.37 L452.10,240.41 L452.31,239.20 L452.51,238.82 L452.72,238.60 L452.93,239.08 L453.14,239.76 L453.35,239.53 L453.56,239.40 L453.76,238.45 L453.97,238.65 L454.18,239.20 L454.39,240.65 L454.60,241.89 L454.80,242.45 L455.01,242.69 L455.22,243.13 L455.43,243.44 L455.64,243.78 L455.85,244.24 L456.05,245.00 L456.26,246.05 L456.47,246.17 L456.68,246.86 L456.89,247.36 L457.09,248.55 L457.30,249.14 L457.51,249.84 L457.72,249.79 L457.93,250.02 L458.14,250.48 L458.34,251.42 L458.55,252.09 L458.76,252.34 L458.97,252.87 L459.18,253.07 L459.38,253.44 L459.59,253.32 L459.80,254.57 L460.01,255.45 L460.22,256.14 L460.43,256.03 L460.63,256.22 L460.84,257.00 L461.05,257.37 L461.26,257.82 L461.47,257.77 L461.67,258.06 L461.88,258.18 L462.09,259.12 L462.30,259.61 L462.51,259.80 L462.72,259.49 L462.92,259.64 L463.13,260.06 L463.34,260.80 L463.55,261.06 L463.76,261.22 L463.96,261.30 L464.17,261.74 L464.38,262.35 L464.59,262.65 L464.80,263.05 L465.01,263.20 L465.21,263.50 L465.42,263.95 L465.63,264.36 L465.84,264.50 L466.05,264.45 L466.26,264.35 L466.46,264.48 L466.67,264.53 L466.88,264.99 L467.09,265.18 L467.30,265.71 L467.50,266.01 L467.71,266.24 L467.92,266.29 L468.13,266.51 L468.34,266.69 L468.55,266.70 L468.75,266.65 L468.96,266.79 L469.17,267.06 L469.38,267.23 L469.59,267.73 L469.79,268.33 L470.00,268.71 L470.21,269.25 L470.42,269.23 L470.63,269.52 L470.84,269.21 L471.04,269.41 L471.25,269.42 L471.46,269.74 L471.67,269.84 L471.88,269.79 L472.08,269.98 L472.29,270.35 L472.50,270.52 L472.71,270.42 L472.92,270.33 L473.13,270.74 L473.33,270.95 L473.54,271.14 L473.75,271.09 L473.96,271.30 L474.17,271.47 L474.38,271.66 L474.58,271.85 L474.79,271.80 L475.00,272.15 L475.21,272.23 L475.42,272.38 L475.62,272.42 L475.83,272.31 L476.04,272.44 L476.25,272.41 L476.46,272.88 L476.67,272.89 L476.87,272.99 L477.08,273.07 L477.29,273.19 L477.50,273.24 L477.71,273.15 L477.91,273.40 L478.12,273.70 L478.33,273.68 L478.54,273.60 L478.75,273.52 L478.96,273.33 L479.16,273.40 L479.37,273.42 L479.58,273.94 L479.79,273.96 L480.00,273.92 L480.20,273.89 L480.41,273.72 L480.62,273.96 L480.83,273.88 L481.04,274.24 L481.25,274.26 L481.45,274.68 L481.66,274.57 L481.87,274.84 L482.08,274.37 L482.29,274.65 L482.49,274.48 L482.70,274.36 L482.91,274.39 L483.12,274.38 L483.33,274.88 L483.54,274.82 L483.74,274.78 L483.95,274.47 L484.16,274.80 L484.37,274.89 L484.58,275.04 L484.78,274.64 L484.99,274.76 L485.20,274.85 L485.41,274.76 L485.62,274.65 L485.83,274.44 L486.03,274.84 L486.24,275.00 L486.45,275.27 L486.66,275.28 L486.87,275.14 L487.08,275.31 L487.28,275.17 L487.49,275.45 L487.70,275.44 L487.91,275.48 L488.12,275.25 L488.32,275.29 L488.53,275.52 L488.74,275.55 L488.95,275.58 L489.16,275.37 L489.37,275.31 L489.57,275.13 L489.78,275.38 L489.99,275.41 L490.20,275.38 L490.41,275.29 L490.61,275.51 L490.82,275.50 L491.03,275.41 L491.24,275.33 L491.45,275.39 L491.66,275.39 L491.86,275.12 L492.07,275.11 L492.28,275.18 L492.49,275.52 L492.70,275.73 L492.90,275.63 L493.11,275.80 L493.32,275.68 L493.53,275.92 L493.74,276.01 L493.95,276.02 L494.15,275.92 L494.36,275.69 L494.57,275.86 L494.78,275.93 L494.99,276.06 L495.19,275.88 L495.40,275.74 L495.61,275.69 L495.82,275.86 L496.03,276.00 L496.24,275.91 L496.44,275.90 L496.65,276.00 L496.86,276.15 L497.07,276.16 L497.28,276.14 L497.49,276.17 L497.69,276.08 L497.90,276.03 L498.11,275.89 L498.32,276.15 L498.53,276.12 L498.73,276.23 L498.94,276.17 L499.15,276.36 L499.36,276.45 L499.57,276.49 L499.78,276.41 L499.98,276.36 L500.19,276.08 L500.40,276.11" fill="none" stroke="#6b4a2a" stroke-width="1.3" stroke-linejoin="round"/>
<path d="M396.30,282.15 L396.51,282.15 L396.72,282.14 L396.92,282.13 L397.13,282.12 L397.34,282.11 L397.55,282.10 L397.76,282.09 L397.97,282.08 L398.17,282.07 L398.38,282.06 L398.59,282.05 L398.80,282.04 L399.01,282.03 L399.21,282.02 L399.42,282.01 L399.63,282.00 L399.84,281.99 L400.05,281.98 L400.26,281.97 L400.46,281.96 L400.67,281.94 L400.88,281.93 L401.09,281.92 L401.30,281.91 L401.50,281.90 L401.71,281.89 L401.92,281.87 L402.13,281.86 L402.34,281.85 L402.55,281.84 L402.75,281.82 L402.96,281.81 L403.17,281.80 L403.38,281.78 L403.59,281.77 L403.80,281.76 L404.00,281.74 L404.21,281.73 L404.42,281.72 L404.63,281.70 L404.84,281.69 L405.04,281.68 L405.25,281.66 L405.46,281.65 L405.67,281.63 L405.88,281.62 L406.09,281.60 L406.29,281.59 L406.50,281.58 L406.71,281.56 L406.92,281.55 L407.13,281.53 L407.33,281.52 L407.54,281.50 L407.75,281.49 L407.96,281.47 L408.17,281.45 L408.38,281.44 L408.58,281.42 L408.79,281.40 L409.00,281.39 L409.21,281.37 L409.42,281.35 L409.62,281.33 L409.83,281.32 L410.04,281.30 L410.25,281.28 L410.46,281.26 L410.67,281.24 L410.87,281.22 L411.08,281.21 L411.29,281.19 L411.50,281.17 L411.71,281.15 L411.92,281.13 L412.12,281.11 L412.33,281.09 L412.54,281.07 L412.75,281.05 L412.96,281.03 L413.16,281.01 L413.37,280.99 L413.58,280.97 L413.79,280.95 L414.00,280.93 L414.21,280.91 L414.41,280.89 L414.62,280.87 L414.83,280.85 L415.04,280.82 L415.25,280.80 L415.45,280.78 L415.66,280.76 L415.87,280.74 L416.08,280.72 L416.29,280.70 L416.50,280.68 L416.70,280.65 L416.91,280.63 L417.12,280.61 L417.33,280.59 L417.54,280.57 L417.74,280.55 L417.95,280.53 L418.16,280.51 L418.37,280.49 L418.58,280.47 L418.79,280.44 L418.99,280.42 L419.20,280.40 L419.41,280.38 L419.62,280.36 L419.83,280.34 L420.03,280.31 L420.24,280.29 L420.45,280.27 L420.66,280.24 L420.87,280.22 L421.08,280.19 L421.28,280.16 L421.49,280.14 L421.70,280.11 L421.91,280.08 L422.12,280.05 L422.32,280.02 L422.53,279.99 L422.74,279.95 L422.95,279.92 L423.16,279.88 L423.37,279.84 L423.57,279.80 L423.78,279.76 L423.99,279.71 L424.20,279.67 L424.41,279.62 L424.62,279.58 L424.82,279.53 L425.03,279.48 L425.24,279.43 L425.45,279.38 L425.66,279.33 L425.86,279.28 L426.07,279.22 L426.28,279.17 L426.49,279.11 L426.70,279.06 L426.91,279.00 L427.11,278.95 L427.32,278.89 L427.53,278.83 L427.74,278.78 L427.95,278.72 L428.15,278.66 L428.36,278.61 L428.57,278.55 L428.78,278.49 L428.99,278.43 L429.20,278.37 L429.40,278.31 L429.61,278.25 L429.82,278.18 L430.03,278.11 L430.24,278.04 L430.44,277.96 L430.65,277.88 L430.86,277.80 L431.07,277.71 L431.28,277.61 L431.49,277.51 L431.69,277.41 L431.90,277.29 L432.11,277.15 L432.32,276.99 L432.53,276.82 L432.74,276.63 L432.94,276.42 L433.15,276.21 L433.36,275.98 L433.57,275.75 L433.78,275.51 L433.98,275.27 L434.19,275.02 L434.40,274.77 L434.61,274.51 L434.82,274.26 L435.03,274.00 L435.23,273.73 L435.44,273.44 L435.65,273.13 L435.86,272.82 L436.07,272.50 L436.27,272.17 L436.48,271.84 L436.69,271.52 L436.90,271.19 L437.11,270.88 L437.32,270.57 L437.52,270.27 L437.73,269.99 L437.94,269.72 L438.15,269.44 L438.36,269.17 L438.56,268.90 L438.77,268.63 L438.98,268.37 L439.19,268.10 L439.40,267.84 L439.61,267.58 L439.81,267.33 L440.02,267.08 L440.23,266.83 L440.44,266.58 L440.65,266.34 L440.85,266.10 L441.06,265.87 L441.27,265.65 L441.48,265.42 L441.69,265.21 L441.90,265.00 L442.10,264.79 L442.31,264.59 L442.52,264.39 L442.73,264.18 L442.94,263.96 L443.14,263.73 L443.35,263.51 L443.56,263.29 L443.77,263.08 L443.98,262.88 L444.19,262.70 L444.39,262.53 L444.60,262.38 L444.81,262.27 L445.02,262.18 L445.23,262.12 L445.44,262.10 L445.64,262.11 L445.85,262.15 L446.06,262.21 L446.27,262.27 L446.48,262.35 L446.68,262.43 L446.89,262.51 L447.10,262.57 L447.31,262.65 L447.52,262.74 L447.73,262.83 L447.93,262.91 L448.14,262.97 L448.35,262.99 L448.56,262.97 L448.77,262.91 L448.97,262.83 L449.18,262.74 L449.39,262.65 L449.60,262.57 L449.81,262.51 L450.02,262.43 L450.22,262.35 L450.43,262.27 L450.64,262.21 L450.85,262.15 L451.06,262.11 L451.26,262.10 L451.47,262.12 L451.68,262.18 L451.89,262.27 L452.10,262.38 L452.31,262.53 L452.51,262.70 L452.72,262.88 L452.93,263.08 L453.14,263.29 L453.35,263.51 L453.56,263.73 L453.76,263.96 L453.97,264.18 L454.18,264.39 L454.39,264.59 L454.60,264.79 L454.80,265.00 L455.01,265.21 L455.22,265.42 L455.43,265.65 L455.64,265.87 L455.85,266.10 L456.05,266.34 L456.26,266.58 L456.47,266.83 L456.68,267.08 L456.89,267.33 L457.09,267.58 L457.30,267.84 L457.51,268.10 L457.72,268.37 L457.93,268.63 L458.14,268.90 L458.34,269.17 L458.55,269.44 L458.76,269.72 L458.97,269.99 L459.18,270.27 L459.38,270.57 L459.59,270.88 L459.80,271.19 L460.01,271.52 L460.22,271.84 L460.43,272.17 L460.63,272.50 L460.84,272.82 L461.05,273.13 L461.26,273.44 L461.47,273.73 L461.67,274.00 L461.88,274.26 L462.09,274.51 L462.30,274.77 L462.51,275.02 L462.72,275.27 L462.92,275.51 L463.13,275.75 L463.34,275.98 L463.55,276.21 L463.76,276.42 L463.96,276.63 L464.17,276.82 L464.38,276.99 L464.59,277.15 L464.80,277.29 L465.01,277.41 L465.21,277.51 L465.42,277.61 L465.63,277.71 L465.84,277.80 L466.05,277.88 L466.26,277.96 L466.46,278.04 L466.67,278.11 L466.88,278.18 L467.09,278.25 L467.30,278.31 L467.50,278.37 L467.71,278.43 L467.92,278.49 L468.13,278.55 L468.34,278.61 L468.55,278.66 L468.75,278.72 L468.96,278.78 L469.17,278.83 L469.38,278.89 L469.59,278.95 L469.79,279.00 L470.00,279.06 L470.21,279.11 L470.42,279.17 L470.63,279.22 L470.84,279.28 L471.04,279.33 L471.25,279.38 L471.46,279.43 L471.67,279.48 L471.88,279.53 L472.08,279.58 L472.29,279.62 L472.50,279.67 L472.71,279.71 L472.92,279.76 L473.13,279.80 L473.33,279.84 L473.54,279.88 L473.75,279.92 L473.96,279.95 L474.17,279.99 L474.38,280.02 L474.58,280.05 L474.79,280.08 L475.00,280.11 L475.21,280.14 L475.42,280.16 L475.62,280.19 L475.83,280.22 L476.04,280.24 L476.25,280.27 L476.46,280.29 L476.67,280.31 L476.87,280.34 L477.08,280.36 L477.29,280.38 L477.50,280.40 L477.71,280.42 L477.91,280.44 L478.12,280.47 L478.33,280.49 L478.54,280.51 L478.75,280.53 L478.96,280.55 L479.16,280.57 L479.37,280.59 L479.58,280.61 L479.79,280.63 L480.00,280.65 L480.20,280.68 L480.41,280.70 L480.62,280.72 L480.83,280.74 L481.04,280.76 L481.25,280.78 L481.45,280.80 L481.66,280.82 L481.87,280.85 L482.08,280.87 L482.29,280.89 L482.49,280.91 L482.70,280.93 L482.91,280.95 L483.12,280.97 L483.33,280.99 L483.54,281.01 L483.74,281.03 L483.95,281.05 L484.16,281.07 L484.37,281.09 L484.58,281.11 L484.78,281.13 L484.99,281.15 L485.20,281.17 L485.41,281.19 L485.62,281.21 L485.83,281.22 L486.03,281.24 L486.24,281.26 L486.45,281.28 L486.66,281.30 L486.87,281.32 L487.08,281.33 L487.28,281.35 L487.49,281.37 L487.70,281.39 L487.91,281.40 L488.12,281.42 L488.32,281.44 L488.53,281.45 L488.74,281.47 L488.95,281.49 L489.16,281.50 L489.37,281.52 L489.57,281.53 L489.78,281.55 L489.99,281.56 L490.20,281.58 L490.41,281.59 L490.61,281.60 L490.82,281.62 L491.03,281.63 L491.24,281.65 L491.45,281.66 L491.66,281.68 L491.86,281.69 L492.07,281.70 L492.28,281.72 L492.49,281.73 L492.70,281.74 L492.90,281.76 L493.11,281.77 L493.32,281.78 L493.53,281.80 L493.74,281.81 L493.95,281.82 L494.15,281.84 L494.36,281.85 L494.57,281.86 L494.78,281.87 L494.99,281.89 L495.19,281.90 L495.40,281.91 L495.61,281.92 L495.82,281.93 L496.03,281.94 L496.24,281.96 L496.44,281.97 L496.65,281.98 L496.86,281.99 L497.07,282.00 L497.28,282.01 L497.49,282.02 L497.69,282.03 L497.90,282.04 L498.11,282.05 L498.32,282.06 L498.53,282.07 L498.73,282.08 L498.94,282.09 L499.15,282.10 L499.36,282.11 L499.57,282.12 L499.78,282.13 L499.98,282.14 L500.19,282.15 L500.40,282.15" fill="none" stroke="#62b046" stroke-width="1.3" stroke-linejoin="round"/>
<path d="M396.3,288.8 L396.3,199.8 L500.4,199.8 L500.4,288.8 Z" fill="none" stroke="#1a1a1a" stroke-width="1.3"/>
<line x1="393.3" y1="288.8" x2="396.3" y2="288.8" stroke="#1a1a1a" stroke-width="1.1"/>
<text x="390.3" y="291.1" font-size="6.6" fill="#2a2a2a" font-weight="normal" text-anchor="end" stroke="#2a2a2a" stroke-width="0.2" >0</text>
<line x1="393.3" y1="199.8" x2="396.3" y2="199.8" stroke="#1a1a1a" stroke-width="1.1"/>
<text x="390.3" y="202.10000000000002" font-size="6.6" fill="#2a2a2a" font-weight="normal" text-anchor="end" stroke="#2a2a2a" stroke-width="0.2" >15</text>
<line x1="396.3" y1="288.8" x2="396.3" y2="291.40000000000003" stroke="#1a1a1a" stroke-width="1.1"/>
<text x="396.3" y="300.4" font-size="6.6" fill="#2a2a2a" font-weight="normal" text-anchor="middle" stroke="#2a2a2a" stroke-width="0.2" >-5</text>
<line x1="422.325" y1="288.8" x2="422.325" y2="291.40000000000003" stroke="#1a1a1a" stroke-width="1.1"/>
<text x="422.325" y="300.4" font-size="6.6" fill="#2a2a2a" font-weight="normal" text-anchor="middle" stroke="#2a2a2a" stroke-width="0.2" >-2.5</text>
<line x1="448.35" y1="288.8" x2="448.35" y2="291.40000000000003" stroke="#1a1a1a" stroke-width="1.1"/>
<text x="448.35" y="300.4" font-size="6.6" fill="#2a2a2a" font-weight="normal" text-anchor="middle" stroke="#2a2a2a" stroke-width="0.2" >0</text>
<line x1="474.375" y1="288.8" x2="474.375" y2="291.40000000000003" stroke="#1a1a1a" stroke-width="1.1"/>
<text x="474.375" y="300.4" font-size="6.6" fill="#2a2a2a" font-weight="normal" text-anchor="middle" stroke="#2a2a2a" stroke-width="0.2" >2.5</text>
<line x1="500.4" y1="288.8" x2="500.4" y2="291.40000000000003" stroke="#1a1a1a" stroke-width="1.1"/>
<text x="500.4" y="300.4" font-size="6.6" fill="#2a2a2a" font-weight="normal" text-anchor="middle" stroke="#2a2a2a" stroke-width="0.2" >5</text>
<text x="448.35" y="193.5" font-size="9" fill="#111" font-weight="normal" text-anchor="middle" textLength="36.5" lengthAdjust="spacingAndGlyphs" stroke="#111" stroke-width="0.2" >H3K27Ac</text>
<line x1="421.1" y1="206.29999999999998" x2="435.40000000000003" y2="206.29999999999998" stroke="#6b4a2a" stroke-width="1.5"/>
<line x1="421.1" y1="215.2" x2="435.40000000000003" y2="215.2" stroke="#62b046" stroke-width="1.3"/>
<text x="438.6" y="208.2" font-size="5.6" fill="#222" font-weight="normal" text-anchor="start" textLength="41.5" lengthAdjust="spacingAndGlyphs" stroke="#222" stroke-width="0.12" >EP1 co-occupied</text>
<text x="438.6" y="217.2" font-size="5.6" fill="#222" font-weight="normal" text-anchor="start" textLength="29.3" lengthAdjust="spacingAndGlyphs" stroke="#222" stroke-width="0.12" >RUNX1 only</text>
<text x="207" y="312.8" font-size="8.4" fill="#1a1a1a" font-weight="normal" text-anchor="start" textLength="121.4" lengthAdjust="spacingAndGlyphs" stroke="#1a1a1a" stroke-width="0.2" >Distance from RUNX1 binding peak (kb)</text>
<text x="0" y="0" font-size="8.4" fill="#222" stroke="#222" stroke-width="0.2" transform="translate(15.2,263.2) rotate(-90)" textLength="38.8" lengthAdjust="spacingAndGlyphs">Mean RPKM</text>
<rect x="0.5" y="0.5" width="519" height="321" fill="none" stroke="#000" stroke-width="1"/>
</svg>
</body></html>
